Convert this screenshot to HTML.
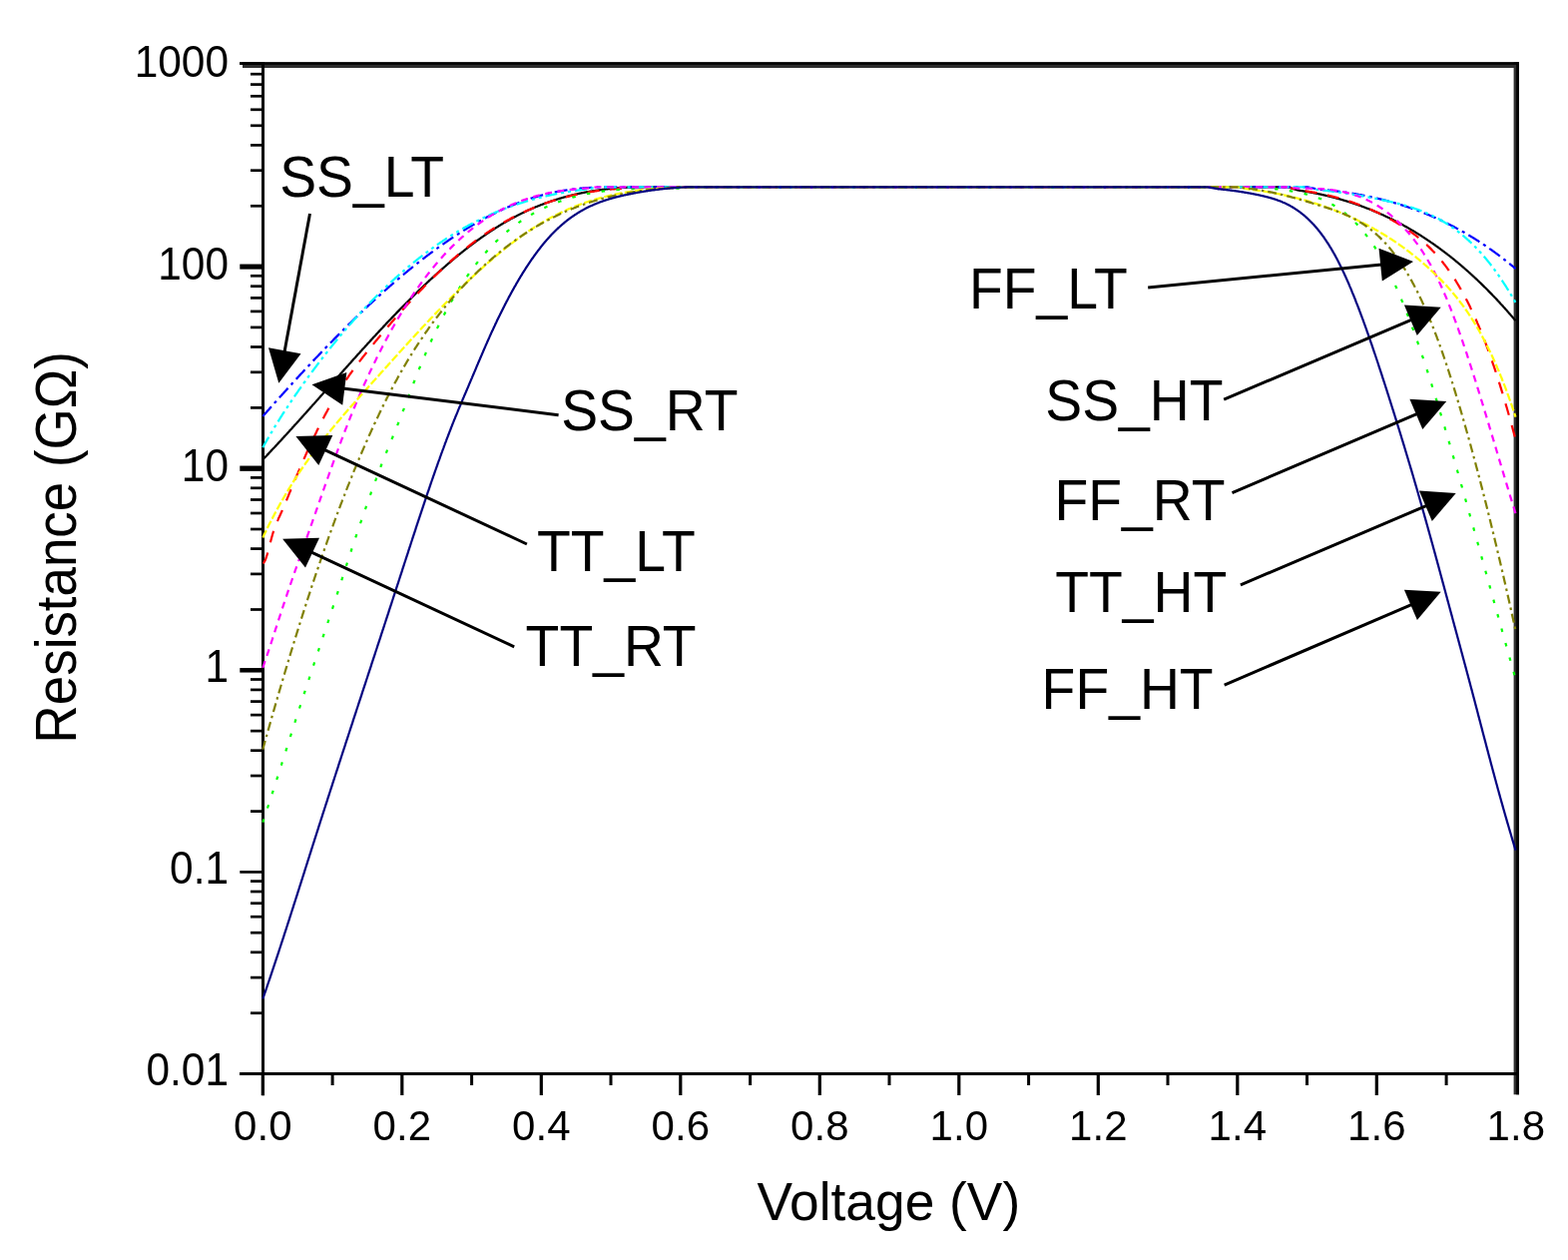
<!DOCTYPE html>
<html><head><meta charset="utf-8"><title>Resistance vs Voltage</title>
<style>
html,body{margin:0;padding:0;background:#fff;}
svg{display:block;}
text{font-family:"Liberation Sans",Arial,sans-serif;fill:#000;}
.tk{font-size:42px;}
.tky{font-size:42.4px;}
.an{font-size:55.3px;}
.ax{font-size:53.3px;}
.ay{font-size:52.9px;}
</style></head>
<body>
<svg width="1571" height="1262" viewBox="0 0 1571 1262">
<rect x="0" y="0" width="1571" height="1262" fill="#fff"/>
<rect x="243" y="62.3" width="1279" height="5.7" fill="#2e2e2e"/>
<rect x="1516.6" y="62.3" width="5.4" height="1034" fill="#2e2e2e"/>
<rect x="240" y="62.3" width="1282" height="2.5" fill="#000"/>
<rect x="1519.2" y="62.3" width="2.8" height="1034" fill="#000"/>
<rect x="262" y="62.3" width="3" height="1035" fill="#000"/>
<rect x="240" y="1074" width="1282" height="3" fill="#000"/>
<line x1="240.3" y1="1075.5" x2="263" y2="1075.5" stroke="#000" stroke-width="3.0"/>
<line x1="251" y1="1014.7" x2="263" y2="1014.7" stroke="#000" stroke-width="2.7"/>
<line x1="251" y1="979.1" x2="263" y2="979.1" stroke="#000" stroke-width="2.7"/>
<line x1="251" y1="953.8" x2="263" y2="953.8" stroke="#000" stroke-width="2.7"/>
<line x1="251" y1="934.2" x2="263" y2="934.2" stroke="#000" stroke-width="2.7"/>
<line x1="251" y1="918.2" x2="263" y2="918.2" stroke="#000" stroke-width="2.7"/>
<line x1="251" y1="904.7" x2="263" y2="904.7" stroke="#000" stroke-width="2.7"/>
<line x1="251" y1="893.0" x2="263" y2="893.0" stroke="#000" stroke-width="2.7"/>
<line x1="251" y1="882.6" x2="263" y2="882.6" stroke="#000" stroke-width="2.7"/>
<line x1="240.3" y1="873.4" x2="263" y2="873.4" stroke="#000" stroke-width="2.7"/>
<line x1="251" y1="812.6" x2="263" y2="812.6" stroke="#000" stroke-width="2.7"/>
<line x1="251" y1="777.0" x2="263" y2="777.0" stroke="#000" stroke-width="2.7"/>
<line x1="251" y1="751.7" x2="263" y2="751.7" stroke="#000" stroke-width="2.7"/>
<line x1="251" y1="732.1" x2="263" y2="732.1" stroke="#000" stroke-width="2.7"/>
<line x1="251" y1="716.1" x2="263" y2="716.1" stroke="#000" stroke-width="2.7"/>
<line x1="251" y1="702.6" x2="263" y2="702.6" stroke="#000" stroke-width="2.7"/>
<line x1="251" y1="690.9" x2="263" y2="690.9" stroke="#000" stroke-width="2.7"/>
<line x1="251" y1="680.5" x2="263" y2="680.5" stroke="#000" stroke-width="2.7"/>
<line x1="240.3" y1="671.3" x2="263" y2="671.3" stroke="#000" stroke-width="4.5"/>
<line x1="251" y1="610.5" x2="263" y2="610.5" stroke="#000" stroke-width="2.7"/>
<line x1="251" y1="574.9" x2="263" y2="574.9" stroke="#000" stroke-width="2.7"/>
<line x1="251" y1="549.6" x2="263" y2="549.6" stroke="#000" stroke-width="2.7"/>
<line x1="251" y1="530.0" x2="263" y2="530.0" stroke="#000" stroke-width="2.7"/>
<line x1="251" y1="514.0" x2="263" y2="514.0" stroke="#000" stroke-width="2.7"/>
<line x1="251" y1="500.5" x2="263" y2="500.5" stroke="#000" stroke-width="2.7"/>
<line x1="251" y1="488.8" x2="263" y2="488.8" stroke="#000" stroke-width="2.7"/>
<line x1="251" y1="478.4" x2="263" y2="478.4" stroke="#000" stroke-width="2.7"/>
<line x1="240.3" y1="469.2" x2="263" y2="469.2" stroke="#000" stroke-width="5.3"/>
<line x1="251" y1="408.4" x2="263" y2="408.4" stroke="#000" stroke-width="2.7"/>
<line x1="251" y1="372.8" x2="263" y2="372.8" stroke="#000" stroke-width="2.7"/>
<line x1="251" y1="347.5" x2="263" y2="347.5" stroke="#000" stroke-width="2.7"/>
<line x1="251" y1="327.9" x2="263" y2="327.9" stroke="#000" stroke-width="2.7"/>
<line x1="251" y1="311.9" x2="263" y2="311.9" stroke="#000" stroke-width="2.7"/>
<line x1="251" y1="298.4" x2="263" y2="298.4" stroke="#000" stroke-width="2.7"/>
<line x1="251" y1="286.7" x2="263" y2="286.7" stroke="#000" stroke-width="2.7"/>
<line x1="251" y1="276.3" x2="263" y2="276.3" stroke="#000" stroke-width="2.7"/>
<line x1="240.3" y1="267.1" x2="263" y2="267.1" stroke="#000" stroke-width="5.1"/>
<line x1="251" y1="206.3" x2="263" y2="206.3" stroke="#000" stroke-width="2.7"/>
<line x1="251" y1="170.7" x2="263" y2="170.7" stroke="#000" stroke-width="2.7"/>
<line x1="251" y1="145.4" x2="263" y2="145.4" stroke="#000" stroke-width="2.7"/>
<line x1="251" y1="125.8" x2="263" y2="125.8" stroke="#000" stroke-width="2.7"/>
<line x1="251" y1="109.8" x2="263" y2="109.8" stroke="#000" stroke-width="2.7"/>
<line x1="251" y1="96.3" x2="263" y2="96.3" stroke="#000" stroke-width="2.7"/>
<line x1="251" y1="84.6" x2="263" y2="84.6" stroke="#000" stroke-width="2.7"/>
<line x1="251" y1="74.2" x2="263" y2="74.2" stroke="#000" stroke-width="2.7"/>
<line x1="240.3" y1="63.6" x2="263" y2="63.6" stroke="#000" stroke-width="2.6"/>
<line x1="263.3" y1="1075" x2="263.3" y2="1097" stroke="#000" stroke-width="3.2"/>
<line x1="333.1" y1="1075" x2="333.1" y2="1087" stroke="#000" stroke-width="3"/>
<line x1="402.8" y1="1075" x2="402.8" y2="1097" stroke="#000" stroke-width="3.2"/>
<line x1="472.6" y1="1075" x2="472.6" y2="1087" stroke="#000" stroke-width="3"/>
<line x1="542.3" y1="1075" x2="542.3" y2="1097" stroke="#000" stroke-width="3.2"/>
<line x1="612.0" y1="1075" x2="612.0" y2="1087" stroke="#000" stroke-width="3"/>
<line x1="681.8" y1="1075" x2="681.8" y2="1097" stroke="#000" stroke-width="3.2"/>
<line x1="751.6" y1="1075" x2="751.6" y2="1087" stroke="#000" stroke-width="3"/>
<line x1="821.3" y1="1075" x2="821.3" y2="1097" stroke="#000" stroke-width="3.2"/>
<line x1="891.0" y1="1075" x2="891.0" y2="1087" stroke="#000" stroke-width="3"/>
<line x1="960.8" y1="1075" x2="960.8" y2="1097" stroke="#000" stroke-width="3.2"/>
<line x1="1030.6" y1="1075" x2="1030.6" y2="1087" stroke="#000" stroke-width="3"/>
<line x1="1100.3" y1="1075" x2="1100.3" y2="1097" stroke="#000" stroke-width="3.2"/>
<line x1="1170.0" y1="1075" x2="1170.0" y2="1087" stroke="#000" stroke-width="3"/>
<line x1="1239.8" y1="1075" x2="1239.8" y2="1097" stroke="#000" stroke-width="3.2"/>
<line x1="1309.5" y1="1075" x2="1309.5" y2="1087" stroke="#000" stroke-width="3"/>
<line x1="1379.3" y1="1075" x2="1379.3" y2="1097" stroke="#000" stroke-width="3.2"/>
<line x1="1449.1" y1="1075" x2="1449.1" y2="1087" stroke="#000" stroke-width="3"/>
<path d="M263.3,460.4 L263.8,459.8 L264.3,459.3 L264.8,458.8 L265.3,458.3 L265.8,457.7 L266.3,457.2 L266.8,456.7 L267.3,456.2 L267.8,455.6 L268.3,455.1 L268.8,454.6 L269.3,454.1 L269.8,453.5 L270.3,453.0 L270.8,452.5 L271.3,451.9 L271.8,451.4 L272.3,450.9 L272.8,450.3 L273.3,449.8 L273.8,449.3 L274.3,448.7 L274.8,448.2 L275.3,447.7 L275.8,447.1 L276.3,446.6 L276.8,446.1 L277.3,445.5 L277.8,445.0 L278.3,444.4 L278.8,443.9 L279.3,443.4 L279.8,442.8 L280.3,442.3 L280.8,441.7 L281.3,441.2 L281.8,440.7 L282.3,440.1 L282.8,439.6 L283.3,439.0 L283.8,438.5 L284.3,437.9 L284.8,437.4 L285.3,436.9 L285.8,436.3 L286.3,435.8 L286.8,435.2 L287.3,434.7 L287.8,434.1 L288.3,433.6 L288.8,433.0 L289.3,432.5 L289.8,431.9 L290.3,431.4 L290.8,430.8 L291.3,430.3 L291.8,429.7 L292.3,429.2 L292.8,428.6 L293.3,428.1 L293.8,427.5 L294.3,427.0 L294.8,426.4 L295.3,425.9 L295.8,425.3 L296.3,424.8 L296.8,424.2 L297.3,423.7 L297.8,423.1 L298.3,422.6 L298.8,422.0 L299.3,421.5 L299.8,420.9 L300.3,420.3 L300.8,419.8 L301.3,419.2 L301.8,418.7 L302.3,418.1 L302.8,417.6 L303.3,417.0 L303.8,416.5 L304.3,415.9 L304.8,415.3 L305.3,414.8 L305.8,414.2 L306.3,413.7 L306.8,413.1 L307.3,412.6 L307.8,412.0 L308.3,411.4 L308.8,410.9 L309.3,410.3 L309.8,409.8 L310.3,409.2 L310.8,408.6 L311.3,408.1 L311.8,407.5 L312.3,407.0 L312.8,406.4 L313.3,405.8 L313.8,405.3 L314.3,404.7 L314.8,404.2 L315.3,403.6 L315.8,403.0 L316.3,402.5 L316.8,401.9 L317.3,401.3 L317.8,400.8 L318.3,400.2 L318.8,399.7 L319.3,399.1 L319.8,398.5 L320.3,398.0 L320.8,397.4 L321.3,396.9 L321.8,396.3 L322.3,395.7 L322.8,395.2 L323.3,394.6 L323.8,394.0 L324.3,393.5 L324.8,392.9 L325.3,392.4 L325.8,391.8 L326.3,391.2 L326.8,390.7 L327.3,390.1 L327.8,389.5 L328.3,389.0 L328.8,388.4 L329.3,387.9 L329.8,387.3 L330.3,386.7 L330.8,386.2 L331.3,385.6 L331.8,385.0 L332.3,384.5 L332.8,383.9 L333.3,383.3 L333.8,382.8 L334.3,382.2 L334.8,381.7 L335.3,381.1 L335.8,380.5 L336.3,380.0 L336.8,379.4 L337.3,378.9 L337.8,378.3 L338.3,377.7 L338.8,377.2 L339.3,376.6 L339.8,376.0 L340.3,375.5 L340.8,374.9 L341.3,374.4 L341.8,373.8 L342.3,373.2 L342.8,372.7 L343.3,372.1 L343.8,371.6 L344.3,371.0 L344.8,370.4 L345.3,369.9 L345.8,369.3 L346.3,368.8 L346.8,368.2 L347.3,367.6 L347.8,367.1 L348.3,366.5 L348.8,366.0 L349.3,365.4 L349.8,364.8 L350.3,364.3 L350.8,363.7 L351.3,363.2 L351.8,362.6 L352.3,362.1 L352.8,361.5 L353.3,360.9 L353.8,360.4 L354.3,359.8 L354.8,359.3 L355.3,358.7 L355.8,358.2 L356.3,357.6 L356.8,357.1 L357.3,356.5 L357.8,355.9 L358.3,355.4 L358.8,354.8 L359.3,354.3 L359.8,353.7 L360.3,353.2 L360.8,352.6 L361.3,352.1 L361.8,351.5 L362.3,351.0 L362.8,350.4 L363.3,349.9 L363.8,349.3 L364.3,348.8 L364.8,348.2 L365.3,347.7 L365.8,347.1 L366.3,346.6 L366.8,346.0 L367.3,345.5 L367.8,344.9 L368.3,344.4 L368.8,343.8 L369.3,343.3 L369.8,342.7 L370.3,342.2 L370.8,341.6 L371.3,341.1 L371.8,340.6 L372.3,340.0 L372.8,339.5 L373.3,338.9 L373.8,338.4 L374.3,337.8 L374.8,337.3 L375.3,336.8 L375.8,336.2 L376.3,335.7 L376.8,335.1 L377.3,334.6 L377.8,334.0 L378.3,333.5 L378.8,333.0 L379.3,332.4 L379.8,331.9 L380.3,331.4 L380.8,330.8 L381.3,330.3 L381.8,329.8 L382.3,329.2 L382.8,328.7 L383.3,328.2 L383.8,327.6 L384.3,327.1 L384.8,326.6 L385.3,326.0 L385.8,325.5 L386.3,325.0 L386.8,324.4 L387.3,323.9 L387.8,323.4 L388.3,322.8 L388.8,322.3 L389.3,321.8 L389.8,321.3 L390.3,320.7 L390.8,320.2 L391.3,319.7 L391.8,319.2 L392.3,318.6 L392.8,318.1 L393.3,317.6 L393.8,317.1 L394.3,316.6 L394.8,316.0 L395.3,315.5 L395.8,315.0 L396.3,314.5 L396.8,314.0 L397.3,313.4 L397.8,312.9 L398.3,312.4 L398.8,311.9 L399.3,311.4 L399.8,310.9 L400.3,310.4 L400.8,309.8 L401.3,309.3 L401.8,308.8 L402.3,308.3 L402.8,307.8 L403.3,307.3 L403.8,306.8 L404.3,306.3 L404.8,305.8 L405.3,305.3 L405.8,304.8 L406.3,304.3 L406.8,303.7 L407.3,303.2 L407.8,302.7 L408.3,302.2 L408.8,301.7 L409.3,301.2 L409.8,300.7 L410.3,300.2 L410.8,299.7 L411.3,299.2 L411.8,298.7 L412.3,298.3 L412.8,297.8 L413.3,297.3 L413.8,296.8 L414.3,296.3 L414.8,295.8 L415.3,295.3 L415.8,294.8 L416.3,294.3 L416.8,293.8 L417.3,293.3 L417.8,292.9 L418.3,292.4 L418.8,291.9 L419.3,291.4 L419.8,290.9 L420.3,290.4 L420.8,289.9 L421.3,289.5 L421.8,289.0 L422.3,288.5 L422.8,288.0 L423.3,287.5 L423.8,287.1 L424.3,286.6 L424.8,286.1 L425.3,285.6 L425.8,285.2 L426.3,284.7 L426.8,284.2 L427.3,283.8 L427.8,283.3 L428.3,282.8 L428.8,282.3 L429.3,281.9 L429.8,281.4 L430.3,280.9 L430.8,280.5 L431.3,280.0 L431.8,279.5 L432.3,279.1 L432.8,278.6 L433.3,278.2 L433.8,277.7 L434.3,277.2 L434.8,276.8 L435.3,276.3 L435.8,275.9 L436.3,275.4 L436.8,275.0 L437.3,274.5 L437.8,274.1 L438.3,273.6 L438.8,273.2 L439.3,272.7 L439.8,272.3 L440.3,271.8 L440.8,271.4 L441.3,270.9 L441.8,270.5 L442.3,270.0 L442.8,269.6 L443.3,269.1 L443.8,268.7 L444.3,268.3 L444.8,267.8 L445.3,267.4 L445.8,267.0 L446.3,266.5 L446.8,266.1 L447.3,265.6 L447.8,265.2 L448.3,264.8 L448.8,264.3 L449.3,263.9 L449.8,263.5 L450.3,263.1 L450.8,262.6 L451.3,262.2 L451.8,261.8 L452.3,261.4 L452.8,260.9 L453.3,260.5 L453.8,260.1 L454.3,259.7 L454.8,259.3 L455.3,258.8 L455.8,258.4 L456.3,258.0 L456.8,257.6 L457.3,257.2 L457.8,256.8 L458.3,256.4 L458.8,255.9 L459.3,255.5 L459.8,255.1 L460.3,254.7 L460.8,254.3 L461.3,253.9 L461.8,253.5 L462.3,253.1 L462.8,252.7 L463.3,252.3 L463.8,251.9 L464.3,251.5 L464.8,251.1 L465.3,250.7 L465.8,250.3 L466.3,249.9 L466.8,249.5 L467.3,249.1 L467.8,248.8 L468.3,248.4 L468.8,248.0 L469.3,247.6 L469.8,247.2 L470.3,246.8 L470.8,246.4 L471.3,246.1 L471.8,245.7 L472.3,245.3 L472.8,244.9 L473.3,244.5 L473.8,244.2 L474.3,243.8 L474.8,243.4 L475.3,243.1 L475.8,242.7 L476.3,242.3 L476.8,241.9 L477.3,241.6 L477.8,241.2 L478.3,240.8 L478.8,240.5 L479.3,240.1 L479.8,239.8 L480.3,239.4 L480.8,239.0 L481.3,238.7 L481.8,238.3 L482.3,238.0 L482.8,237.6 L483.3,237.3 L483.8,236.9 L484.3,236.6 L484.8,236.2 L485.3,235.9 L485.8,235.5 L486.3,235.2 L486.8,234.8 L487.3,234.5 L487.8,234.1 L488.3,233.8 L488.8,233.5 L489.3,233.1 L489.8,232.8 L490.3,232.5 L490.8,232.1 L491.3,231.8 L491.8,231.5 L492.3,231.1 L492.8,230.8 L493.3,230.5 L493.8,230.2 L494.3,229.8 L494.8,229.5 L495.3,229.2 L495.8,228.9 L496.3,228.5 L496.8,228.2 L497.3,227.9 L497.8,227.6 L498.3,227.3 L498.8,227.0 L499.3,226.7 L499.8,226.3 L500.3,226.0 L500.8,225.7 L501.3,225.4 L501.8,225.1 L502.3,224.8 L502.8,224.5 L503.3,224.2 L503.8,223.9 L504.3,223.6 L504.8,223.3 L505.3,223.0 L505.8,222.7 L506.3,222.5 L506.8,222.2 L507.3,221.9 L507.8,221.6 L508.3,221.3 L508.8,221.0 L509.3,220.7 L509.8,220.5 L510.3,220.2 L510.8,219.9 L511.3,219.6 L511.8,219.3 L512.3,219.1 L512.8,218.8 L513.3,218.5 L513.8,218.3 L514.3,218.0 L514.8,217.7 L515.3,217.5 L515.8,217.2 L516.3,216.9 L516.8,216.7 L517.3,216.4 L517.8,216.1 L518.3,215.9 L518.8,215.6 L519.3,215.4 L519.8,215.1 L520.3,214.9 L520.8,214.6 L521.3,214.4 L521.8,214.1 L522.3,213.9 L522.8,213.6 L523.3,213.4 L523.8,213.1 L524.3,212.9 L524.8,212.7 L525.3,212.4 L525.8,212.2 L526.3,212.0 L526.8,211.7 L527.3,211.5 L527.8,211.3 L528.3,211.0 L528.8,210.8 L529.3,210.6 L529.8,210.3 L530.3,210.1 L530.8,209.9 L531.3,209.7 L531.8,209.5 L532.3,209.2 L532.8,209.0 L533.3,208.8 L533.8,208.6 L534.3,208.4 L534.8,208.2 L535.3,207.9 L535.8,207.7 L536.3,207.5 L536.8,207.3 L537.3,207.1 L537.8,206.9 L538.3,206.7 L538.8,206.5 L539.3,206.3 L539.8,206.1 L540.3,205.9 L540.8,205.7 L541.3,205.5 L541.8,205.3 L542.3,205.1 L542.8,204.9 L543.3,204.7 L543.8,204.5 L544.3,204.4 L544.8,204.2 L545.3,204.0 L545.8,203.8 L546.3,203.6 L546.8,203.4 L547.3,203.2 L547.8,203.1 L548.3,202.9 L548.8,202.7 L549.3,202.5 L549.8,202.4 L550.3,202.2 L550.8,202.0 L551.3,201.8 L551.8,201.7 L552.3,201.5 L552.8,201.3 L553.3,201.2 L553.8,201.0 L554.3,200.8 L554.8,200.7 L555.3,200.5 L555.8,200.3 L556.3,200.2 L556.8,200.0 L557.3,199.9 L557.8,199.7 L558.3,199.6 L558.8,199.4 L559.3,199.2 L559.8,199.1 L560.3,198.9 L560.8,198.8 L561.3,198.6 L561.8,198.5 L562.3,198.4 L562.8,198.2 L563.3,198.1 L563.8,197.9 L564.3,197.8 L564.8,197.6 L565.3,197.5 L565.8,197.4 L566.3,197.2 L566.8,197.1 L567.3,197.0 L567.8,196.8 L568.3,196.7 L568.8,196.6 L569.3,196.4 L569.8,196.3 L570.3,196.2 L570.8,196.0 L571.3,195.9 L571.8,195.8 L572.3,195.7 L572.8,195.5 L573.3,195.4 L573.8,195.3 L574.3,195.2 L574.8,195.1 L575.3,194.9 L575.8,194.8 L576.3,194.7 L576.8,194.6 L577.3,194.5 L577.8,194.4 L578.3,194.3 L578.8,194.1 L579.3,194.0 L579.8,193.9 L580.3,193.8 L580.8,193.7 L581.3,193.6 L581.8,193.5 L582.3,193.4 L582.8,193.3 L583.3,193.2 L583.8,193.1 L584.3,193.0 L584.8,192.9 L585.3,192.8 L585.8,192.7 L586.3,192.6 L586.8,192.5 L587.3,192.4 L587.8,192.3 L588.3,192.2 L588.8,192.2 L589.3,192.1 L589.8,192.0 L590.3,191.9 L590.8,191.8 L591.3,191.7 L591.8,191.6 L592.3,191.5 L592.8,191.5 L593.3,191.4 L593.8,191.3 L594.3,191.2 L594.8,191.1 L595.3,191.1 L595.8,191.0 L596.3,190.9 L596.8,190.8 L597.3,190.8 L597.8,190.7 L598.3,190.6 L598.8,190.6 L599.3,190.5 L599.8,190.4 L600.3,190.3 L600.8,190.3 L601.3,190.2 L601.8,190.1 L602.3,190.1 L602.8,190.0 L603.3,189.9 L603.8,189.9 L604.3,189.8 L604.8,189.8 L605.3,189.7 L605.8,189.6 L606.3,189.6 L606.8,189.5 L607.3,189.5 L607.8,189.4 L608.3,189.4 L608.8,189.3 L609.3,189.2 L609.8,189.2 L610.3,189.1 L610.8,189.1 L611.3,189.0 L611.8,189.0 L612.3,188.9 L612.8,188.9 L613.3,188.8 L613.8,188.8 L614.3,188.8 L614.8,188.7 L615.3,188.7 L615.8,188.6 L616.3,188.6 L616.8,188.5 L617.3,188.5 L617.8,188.5 L618.3,188.4 L618.8,188.4 L619.3,188.3 L619.8,188.3 L620.3,188.3 L620.8,188.2 L621.3,188.2 L621.8,188.1 L622.3,188.1 L622.8,188.1 L623.3,188.0 L623.8,188.0 L624.3,188.0 L624.8,187.9 L625.3,187.9 L625.8,187.9 L626.3,187.9 L626.8,187.8 L627.3,187.8 L627.8,187.8 L628.3,187.7 L628.8,187.7 L629.3,187.7 L629.8,187.7 L630.3,187.6 L630.8,187.6 L631.3,187.6 L631.8,187.6 L632.3,187.5 L632.8,187.5 L633.3,187.5 L633.8,187.5 L634.3,187.5 L634.8,187.4 L635.3,187.4 L635.8,187.4 L636.3,187.4 L636.8,187.4 L637.3,187.4 L637.8,187.3 L638.3,187.3 L638.8,187.3 L639.3,187.3 L639.8,187.3 L640.3,187.3 L640.8,187.3 L641.3,187.3 L641.8,187.3 L642.3,187.3 L642.8,187.3 L643.3,187.3 L643.8,187.3 L644.3,187.3 L644.8,187.3 L645.3,187.3 L645.8,187.3 L646.3,187.3 L646.8,187.3 L647.3,187.3 L647.8,187.3 L648.3,187.3 L648.8,187.3 L649.3,187.3 L649.8,187.3 L650.3,187.3 L650.8,187.3 L651.3,187.3 L651.8,187.3 L652.3,187.3 L652.8,187.3 L653.3,187.3 L653.8,187.3 L654.3,187.3 L654.8,187.3 L655.3,187.3 L655.8,187.3 L656.3,187.3 L656.8,187.3 L657.3,187.3 L657.8,187.3 L658.3,187.3 L658.8,187.3 L659.3,187.3 L659.8,187.3 L660.3,187.3 L660.8,187.3 L661.3,187.3 L661.8,187.3 L662.3,187.3 L662.8,187.3 L663.3,187.3 L663.8,187.3 L664.3,187.3 L664.8,187.3 L665.3,187.3 L665.8,187.3 L666.3,187.3 L666.8,187.3 L667.3,187.3 L667.8,187.3 L668.3,187.3 L668.8,187.3 L669.3,187.3 L669.8,187.3 L670.3,187.3 L670.8,187.3 L671.3,187.3 L671.8,187.3 L672.3,187.3 L672.8,187.3 L673.3,187.3 L673.8,187.3 L674.3,187.3 L674.8,187.3 L685.0,187.3 L1290.0,187.3 L1300.0,190.5 L1300.5,190.5 L1301.0,190.6 L1301.5,190.7 L1302.0,190.8 L1302.5,190.8 L1303.0,190.9 L1303.5,191.0 L1304.0,191.1 L1304.5,191.2 L1305.0,191.2 L1305.5,191.3 L1306.0,191.4 L1306.5,191.5 L1307.0,191.6 L1307.5,191.6 L1308.0,191.7 L1308.5,191.8 L1309.0,191.9 L1309.5,192.0 L1310.0,192.1 L1310.5,192.2 L1311.0,192.2 L1311.5,192.3 L1312.0,192.4 L1312.5,192.5 L1313.0,192.6 L1313.5,192.7 L1314.0,192.8 L1314.5,192.9 L1315.0,193.0 L1315.5,193.1 L1316.0,193.2 L1316.5,193.3 L1317.0,193.4 L1317.5,193.5 L1318.0,193.6 L1318.5,193.7 L1319.0,193.8 L1319.5,193.9 L1320.0,194.0 L1320.5,194.1 L1321.0,194.2 L1321.5,194.3 L1322.0,194.4 L1322.5,194.5 L1323.0,194.6 L1323.5,194.7 L1324.0,194.8 L1324.5,194.9 L1325.0,195.1 L1325.5,195.2 L1326.0,195.3 L1326.5,195.4 L1327.0,195.5 L1327.5,195.6 L1328.0,195.7 L1328.5,195.9 L1329.0,196.0 L1329.5,196.1 L1330.0,196.2 L1330.5,196.3 L1331.0,196.5 L1331.5,196.6 L1332.0,196.7 L1332.5,196.8 L1333.0,197.0 L1333.5,197.1 L1334.0,197.2 L1334.5,197.3 L1335.0,197.5 L1335.5,197.6 L1336.0,197.7 L1336.5,197.8 L1337.0,198.0 L1337.5,198.1 L1338.0,198.2 L1338.5,198.4 L1339.0,198.5 L1339.5,198.7 L1340.0,198.8 L1340.5,198.9 L1341.0,199.1 L1341.5,199.2 L1342.0,199.3 L1342.5,199.5 L1343.0,199.6 L1343.5,199.8 L1344.0,199.9 L1344.5,200.1 L1345.0,200.2 L1345.5,200.4 L1346.0,200.5 L1346.5,200.7 L1347.0,200.8 L1347.5,201.0 L1348.0,201.1 L1348.5,201.3 L1349.0,201.4 L1349.5,201.6 L1350.0,201.7 L1350.5,201.9 L1351.0,202.0 L1351.5,202.2 L1352.0,202.4 L1352.5,202.5 L1353.0,202.7 L1353.5,202.8 L1354.0,203.0 L1354.5,203.2 L1355.0,203.3 L1355.5,203.5 L1356.0,203.7 L1356.5,203.8 L1357.0,204.0 L1357.5,204.2 L1358.0,204.3 L1358.5,204.5 L1359.0,204.7 L1359.5,204.9 L1360.0,205.0 L1360.5,205.2 L1361.0,205.4 L1361.5,205.6 L1362.0,205.7 L1362.5,205.9 L1363.0,206.1 L1363.5,206.3 L1364.0,206.5 L1364.5,206.7 L1365.0,206.8 L1365.5,207.0 L1366.0,207.2 L1366.5,207.4 L1367.0,207.6 L1367.5,207.8 L1368.0,208.0 L1368.5,208.2 L1369.0,208.4 L1369.5,208.6 L1370.0,208.7 L1370.5,208.9 L1371.0,209.1 L1371.5,209.3 L1372.0,209.5 L1372.5,209.7 L1373.0,209.9 L1373.5,210.1 L1374.0,210.3 L1374.5,210.5 L1375.0,210.8 L1375.5,211.0 L1376.0,211.2 L1376.5,211.4 L1377.0,211.6 L1377.5,211.8 L1378.0,212.0 L1378.5,212.2 L1379.0,212.4 L1379.5,212.6 L1380.0,212.9 L1380.5,213.1 L1381.0,213.3 L1381.5,213.5 L1382.0,213.7 L1382.5,214.0 L1383.0,214.2 L1383.5,214.4 L1384.0,214.6 L1384.5,214.9 L1385.0,215.1 L1385.5,215.3 L1386.0,215.5 L1386.5,215.8 L1387.0,216.0 L1387.5,216.2 L1388.0,216.5 L1388.5,216.7 L1389.0,216.9 L1389.5,217.2 L1390.0,217.4 L1390.5,217.6 L1391.0,217.9 L1391.5,218.1 L1392.0,218.4 L1392.5,218.6 L1393.0,218.9 L1393.5,219.1 L1394.0,219.3 L1394.5,219.6 L1395.0,219.8 L1395.5,220.1 L1396.0,220.3 L1396.5,220.6 L1397.0,220.9 L1397.5,221.1 L1398.0,221.4 L1398.5,221.6 L1399.0,221.9 L1399.5,222.1 L1400.0,222.4 L1400.5,222.7 L1401.0,222.9 L1401.5,223.2 L1402.0,223.4 L1402.5,223.7 L1403.0,224.0 L1403.5,224.2 L1404.0,224.5 L1404.5,224.8 L1405.0,225.1 L1405.5,225.3 L1406.0,225.6 L1406.5,225.9 L1407.0,226.2 L1407.5,226.4 L1408.0,226.7 L1408.5,227.0 L1409.0,227.3 L1409.5,227.6 L1410.0,227.8 L1410.5,228.1 L1411.0,228.4 L1411.5,228.7 L1412.0,229.0 L1412.5,229.3 L1413.0,229.6 L1413.5,229.9 L1414.0,230.2 L1414.5,230.5 L1415.0,230.7 L1415.5,231.0 L1416.0,231.3 L1416.5,231.6 L1417.0,231.9 L1417.5,232.2 L1418.0,232.5 L1418.5,232.9 L1419.0,233.2 L1419.5,233.5 L1420.0,233.8 L1420.5,234.1 L1421.0,234.4 L1421.5,234.7 L1422.0,235.0 L1422.5,235.3 L1423.0,235.6 L1423.5,236.0 L1424.0,236.3 L1424.5,236.6 L1425.0,236.9 L1425.5,237.2 L1426.0,237.6 L1426.5,237.9 L1427.0,238.2 L1427.5,238.5 L1428.0,238.9 L1428.5,239.2 L1429.0,239.5 L1429.5,239.9 L1430.0,240.2 L1430.5,240.5 L1431.0,240.9 L1431.5,241.2 L1432.0,241.5 L1432.5,241.9 L1433.0,242.2 L1433.5,242.6 L1434.0,242.9 L1434.5,243.2 L1435.0,243.6 L1435.5,243.9 L1436.0,244.3 L1436.5,244.6 L1437.0,245.0 L1437.5,245.3 L1438.0,245.7 L1438.5,246.1 L1439.0,246.4 L1439.5,246.8 L1440.0,247.1 L1440.5,247.5 L1441.0,247.8 L1441.5,248.2 L1442.0,248.6 L1442.5,248.9 L1443.0,249.3 L1443.5,249.7 L1444.0,250.0 L1444.5,250.4 L1445.0,250.8 L1445.5,251.2 L1446.0,251.5 L1446.5,251.9 L1447.0,252.3 L1447.5,252.7 L1448.0,253.0 L1448.5,253.4 L1449.0,253.8 L1449.5,254.2 L1450.0,254.6 L1450.5,255.0 L1451.0,255.4 L1451.5,255.7 L1452.0,256.1 L1452.5,256.5 L1453.0,256.9 L1453.5,257.3 L1454.0,257.7 L1454.5,258.1 L1455.0,258.5 L1455.5,258.9 L1456.0,259.3 L1456.5,259.7 L1457.0,260.1 L1457.5,260.5 L1458.0,260.9 L1458.5,261.4 L1459.0,261.8 L1459.5,262.2 L1460.0,262.6 L1460.5,263.0 L1461.0,263.4 L1461.5,263.8 L1462.0,264.3 L1462.5,264.7 L1463.0,265.1 L1463.5,265.5 L1464.0,265.9 L1464.5,266.4 L1465.0,266.8 L1465.5,267.2 L1466.0,267.7 L1466.5,268.1 L1467.0,268.5 L1467.5,269.0 L1468.0,269.4 L1468.5,269.8 L1469.0,270.3 L1469.5,270.7 L1470.0,271.2 L1470.5,271.6 L1471.0,272.0 L1471.5,272.5 L1472.0,272.9 L1472.5,273.4 L1473.0,273.8 L1473.5,274.3 L1474.0,274.7 L1474.5,275.2 L1475.0,275.7 L1475.5,276.1 L1476.0,276.6 L1476.5,277.0 L1477.0,277.5 L1477.5,278.0 L1478.0,278.4 L1478.5,278.9 L1479.0,279.4 L1479.5,279.8 L1480.0,280.3 L1480.5,280.8 L1481.0,281.3 L1481.5,281.7 L1482.0,282.2 L1482.5,282.7 L1483.0,283.2 L1483.5,283.6 L1484.0,284.1 L1484.5,284.6 L1485.0,285.1 L1485.5,285.6 L1486.0,286.1 L1486.5,286.6 L1487.0,287.1 L1487.5,287.6 L1488.0,288.0 L1488.5,288.5 L1489.0,289.0 L1489.5,289.5 L1490.0,290.0 L1490.5,290.5 L1491.0,291.1 L1491.5,291.6 L1492.0,292.1 L1492.5,292.6 L1493.0,293.1 L1493.5,293.6 L1494.0,294.1 L1494.5,294.6 L1495.0,295.1 L1495.5,295.7 L1496.0,296.2 L1496.5,296.7 L1497.0,297.2 L1497.5,297.8 L1498.0,298.3 L1498.5,298.8 L1499.0,299.3 L1499.5,299.9 L1500.0,300.4 L1500.5,300.9 L1501.0,301.5 L1501.5,302.0 L1502.0,302.5 L1502.5,303.1 L1503.0,303.6 L1503.5,304.2 L1504.0,304.7 L1504.5,305.3 L1505.0,305.8 L1505.5,306.4 L1506.0,306.9 L1506.5,307.5 L1507.0,308.0 L1507.5,308.6 L1508.0,309.1 L1508.5,309.7 L1509.0,310.3 L1509.5,310.8 L1510.0,311.4 L1510.5,312.0 L1511.0,312.5 L1511.5,313.1 L1512.0,313.7 L1512.5,314.2 L1513.0,314.8 L1513.5,315.4 L1514.0,316.0 L1514.5,316.5 L1515.0,317.1 L1515.5,317.7 L1516.0,318.3 L1516.5,318.9 L1517.0,319.5 L1517.5,320.0 L1518.0,320.6 L1518.5,321.2" fill="none" stroke="#000000" stroke-width="2.2" stroke-linejoin="round"/>
<path d="M263.3,564.1 L263.8,563.9 L264.3,563.5 L264.8,562.8 L265.3,561.9 L265.8,560.9 L266.3,559.6 L266.8,558.2 L267.3,556.7 L267.8,555.0 L268.3,553.3 L268.8,551.4 L269.3,549.5 L269.8,547.6 L270.3,545.7 L270.8,543.7 L271.3,541.8 L271.8,539.8 L272.3,538.0 L272.8,536.2 L273.3,534.5 L273.8,532.9 L274.3,531.4 L274.8,529.9 L275.3,528.5 L275.8,527.2 L276.3,525.9 L276.8,524.6 L277.3,523.4 L277.8,522.2 L278.3,521.1 L278.8,519.9 L279.3,518.8 L279.8,517.8 L280.3,516.7 L280.8,515.6 L281.3,514.5 L281.8,513.4 L282.3,512.3 L282.8,511.2 L283.3,510.0 L283.8,508.9 L284.3,507.7 L284.8,506.6 L285.3,505.4 L285.8,504.2 L286.3,503.0 L286.8,501.8 L287.3,500.5 L287.8,499.3 L288.3,498.1 L288.8,496.9 L289.3,495.6 L289.8,494.4 L290.3,493.2 L290.8,492.0 L291.3,490.8 L291.8,489.6 L292.3,488.4 L292.8,487.1 L293.3,485.9 L293.8,484.7 L294.3,483.5 L294.8,482.4 L295.3,481.2 L295.8,480.0 L296.3,478.8 L296.8,477.6 L297.3,476.4 L297.8,475.2 L298.3,474.1 L298.8,472.9 L299.3,471.7 L299.8,470.6 L300.3,469.4 L300.8,468.2 L301.3,467.1 L301.8,465.9 L302.3,464.8 L302.8,463.6 L303.3,462.5 L303.8,461.4 L304.3,460.2 L304.8,459.1 L305.3,458.0 L305.8,456.9 L306.3,455.7 L306.8,454.6 L307.3,453.5 L307.8,452.4 L308.3,451.3 L308.8,450.2 L309.3,449.1 L309.8,448.0 L310.3,446.9 L310.8,445.8 L311.3,444.8 L311.8,443.7 L312.3,442.6 L312.8,441.5 L313.3,440.5 L313.8,439.4 L314.3,438.4 L314.8,437.3 L315.3,436.3 L315.8,435.2 L316.3,434.2 L316.8,433.2 L317.3,432.1 L317.8,431.1 L318.3,430.1 L318.8,429.1 L319.3,428.1 L319.8,427.1 L320.3,426.1 L320.8,425.1 L321.3,424.1 L321.8,423.1 L322.3,422.1 L322.8,421.1 L323.3,420.2 L323.8,419.2 L324.3,418.2 L324.8,417.3 L325.3,416.3 L325.8,415.4 L326.3,414.4 L326.8,413.5 L327.3,412.6 L327.8,411.7 L328.3,410.7 L328.8,409.8 L329.3,408.9 L329.8,408.0 L330.3,407.1 L330.8,406.2 L331.3,405.3 L331.8,404.5 L332.3,403.6 L332.8,402.7 L333.3,401.9 L333.8,401.0 L334.3,400.2 L334.8,399.3 L335.3,398.5 L335.8,397.6 L336.3,396.8 L336.8,396.0 L337.3,395.2 L337.8,394.3 L338.3,393.5 L338.8,392.7 L339.3,391.9 L339.8,391.1 L340.3,390.3 L340.8,389.6 L341.3,388.8 L341.8,388.0 L342.3,387.2 L342.8,386.5 L343.3,385.7 L343.8,384.9 L344.3,384.2 L344.8,383.4 L345.3,382.7 L345.8,381.9 L346.3,381.2 L346.8,380.5 L347.3,379.7 L347.8,379.0 L348.3,378.3 L348.8,377.6 L349.3,376.8 L349.8,376.1 L350.3,375.4 L350.8,374.7 L351.3,374.0 L351.8,373.3 L352.3,372.6 L352.8,371.9 L353.3,371.2 L353.8,370.5 L354.3,369.9 L354.8,369.2 L355.3,368.5 L355.8,367.8 L356.3,367.2 L356.8,366.5 L357.3,365.8 L357.8,365.2 L358.3,364.5 L358.8,363.8 L359.3,363.2 L359.8,362.5 L360.3,361.9 L360.8,361.2 L361.3,360.6 L361.8,359.9 L362.3,359.3 L362.8,358.7 L363.3,358.0 L363.8,357.4 L364.3,356.7 L364.8,356.1 L365.3,355.5 L365.8,354.9 L366.3,354.2 L366.8,353.6 L367.3,353.0 L367.8,352.4 L368.3,351.7 L368.8,351.1 L369.3,350.5 L369.8,349.9 L370.3,349.3 L370.8,348.6 L371.3,348.0 L371.8,347.4 L372.3,346.8 L372.8,346.2 L373.3,345.6 L373.8,345.0 L374.3,344.4 L374.8,343.7 L375.3,343.1 L375.8,342.5 L376.3,341.9 L376.8,341.3 L377.3,340.7 L377.8,340.1 L378.3,339.5 L378.8,338.9 L379.3,338.3 L379.8,337.7 L380.3,337.1 L380.8,336.5 L381.3,335.9 L381.8,335.3 L382.3,334.7 L382.8,334.1 L383.3,333.5 L383.8,332.9 L384.3,332.3 L384.8,331.7 L385.3,331.1 L385.8,330.6 L386.3,330.0 L386.8,329.4 L387.3,328.8 L387.8,328.2 L388.3,327.6 L388.8,327.0 L389.3,326.4 L389.8,325.9 L390.3,325.3 L390.8,324.7 L391.3,324.1 L391.8,323.5 L392.3,322.9 L392.8,322.4 L393.3,321.8 L393.8,321.2 L394.3,320.6 L394.8,320.1 L395.3,319.5 L395.8,318.9 L396.3,318.3 L396.8,317.8 L397.3,317.2 L397.8,316.6 L398.3,316.1 L398.8,315.5 L399.3,314.9 L399.8,314.4 L400.3,313.8 L400.8,313.2 L401.3,312.7 L401.8,312.1 L402.3,311.5 L402.8,311.0 L403.3,310.4 L403.8,309.9 L404.3,309.3 L404.8,308.7 L405.3,308.2 L405.8,307.6 L406.3,307.1 L406.8,306.5 L407.3,306.0 L407.8,305.4 L408.3,304.9 L408.8,304.3 L409.3,303.8 L409.8,303.2 L410.3,302.7 L410.8,302.1 L411.3,301.6 L411.8,301.1 L412.3,300.5 L412.8,300.0 L413.3,299.4 L413.8,298.9 L414.3,298.4 L414.8,297.8 L415.3,297.3 L415.8,296.8 L416.3,296.2 L416.8,295.7 L417.3,295.2 L417.8,294.6 L418.3,294.1 L418.8,293.6 L419.3,293.1 L419.8,292.5 L420.3,292.0 L420.8,291.5 L421.3,291.0 L421.8,290.4 L422.3,289.9 L422.8,289.4 L423.3,288.9 L423.8,288.4 L424.3,287.9 L424.8,287.3 L425.3,286.8 L425.8,286.3 L426.3,285.8 L426.8,285.3 L427.3,284.8 L427.8,284.3 L428.3,283.8 L428.8,283.3 L429.3,282.8 L429.8,282.3 L430.3,281.8 L430.8,281.3 L431.3,280.8 L431.8,280.3 L432.3,279.8 L432.8,279.3 L433.3,278.8 L433.8,278.3 L434.3,277.8 L434.8,277.3 L435.3,276.8 L435.8,276.4 L436.3,275.9 L436.8,275.4 L437.3,274.9 L437.8,274.4 L438.3,273.9 L438.8,273.5 L439.3,273.0 L439.8,272.5 L440.3,272.0 L440.8,271.5 L441.3,271.1 L441.8,270.6 L442.3,270.1 L442.8,269.7 L443.3,269.2 L443.8,268.7 L444.3,268.3 L444.8,267.8 L445.3,267.3 L445.8,266.9 L446.3,266.4 L446.8,266.0 L447.3,265.5 L447.8,265.0 L448.3,264.6 L448.8,264.1 L449.3,263.7 L449.8,263.2 L450.3,262.8 L450.8,262.3 L451.3,261.9 L451.8,261.4 L452.3,261.0 L452.8,260.6 L453.3,260.1 L453.8,259.7 L454.3,259.2 L454.8,258.8 L455.3,258.4 L455.8,257.9 L456.3,257.5 L456.8,257.1 L457.3,256.6 L457.8,256.2 L458.3,255.8 L458.8,255.4 L459.3,254.9 L459.8,254.5 L460.3,254.1 L460.8,253.7 L461.3,253.3 L461.8,252.8 L462.3,252.4 L462.8,252.0 L463.3,251.6 L463.8,251.2 L464.3,250.8 L464.8,250.4 L465.3,250.0 L465.8,249.6 L466.3,249.2 L466.8,248.8 L467.3,248.3 L467.8,248.0 L468.3,247.6 L468.8,247.2 L469.3,246.8 L469.8,246.4 L470.3,246.0 L470.8,245.6 L471.3,245.2 L471.8,244.8 L472.3,244.4 L472.8,244.0 L473.3,243.7 L473.8,243.3 L474.3,242.9 L474.8,242.5 L475.3,242.1 L475.8,241.8 L476.3,241.4 L476.8,241.0 L477.3,240.7 L477.8,240.3 L478.3,239.9 L478.8,239.6 L479.3,239.2 L479.8,238.8 L480.3,238.5 L480.8,238.1 L481.3,237.8 L481.8,237.4 L482.3,237.1 L482.8,236.7 L483.3,236.3 L483.8,236.0 L484.3,235.7 L484.8,235.3 L485.3,235.0 L485.8,234.6 L486.3,234.3 L486.8,233.9 L487.3,233.6 L487.8,233.3 L488.3,232.9 L488.8,232.6 L489.3,232.3 L489.8,231.9 L490.3,231.6 L490.8,231.3 L491.3,230.9 L491.8,230.6 L492.3,230.3 L492.8,230.0 L493.3,229.7 L493.8,229.3 L494.3,229.0 L494.8,228.7 L495.3,228.4 L495.8,228.1 L496.3,227.8 L496.8,227.5 L497.3,227.2 L497.8,226.8 L498.3,226.5 L498.8,226.2 L499.3,225.9 L499.8,225.6 L500.3,225.3 L500.8,225.0 L501.3,224.7 L501.8,224.4 L502.3,224.2 L502.8,223.9 L503.3,223.6 L503.8,223.3 L504.3,223.0 L504.8,222.7 L505.3,222.4 L505.8,222.1 L506.3,221.9 L506.8,221.6 L507.3,221.3 L507.8,221.0 L508.3,220.7 L508.8,220.5 L509.3,220.2 L509.8,219.9 L510.3,219.7 L510.8,219.4 L511.3,219.1 L511.8,218.8 L512.3,218.6 L512.8,218.3 L513.3,218.1 L513.8,217.8 L514.3,217.5 L514.8,217.3 L515.3,217.0 L515.8,216.8 L516.3,216.5 L516.8,216.3 L517.3,216.0 L517.8,215.8 L518.3,215.5 L518.8,215.3 L519.3,215.0 L519.8,214.8 L520.3,214.5 L520.8,214.3 L521.3,214.0 L521.8,213.8 L522.3,213.6 L522.8,213.3 L523.3,213.1 L523.8,212.9 L524.3,212.6 L524.8,212.4 L525.3,212.2 L525.8,211.9 L526.3,211.7 L526.8,211.5 L527.3,211.3 L527.8,211.0 L528.3,210.8 L528.8,210.6 L529.3,210.4 L529.8,210.2 L530.3,209.9 L530.8,209.7 L531.3,209.5 L531.8,209.3 L532.3,209.1 L532.8,208.9 L533.3,208.7 L533.8,208.5 L534.3,208.3 L534.8,208.0 L535.3,207.8 L535.8,207.6 L536.3,207.4 L536.8,207.2 L537.3,207.0 L537.8,206.8 L538.3,206.6 L538.8,206.5 L539.3,206.3 L539.8,206.1 L540.3,205.9 L540.8,205.7 L541.3,205.5 L541.8,205.3 L542.3,205.1 L542.8,204.9 L543.3,204.7 L543.8,204.6 L544.3,204.4 L544.8,204.2 L545.3,204.0 L545.8,203.8 L546.3,203.7 L546.8,203.5 L547.3,203.3 L547.8,203.1 L548.3,203.0 L548.8,202.8 L549.3,202.6 L549.8,202.5 L550.3,202.3 L550.8,202.1 L551.3,202.0 L551.8,201.8 L552.3,201.6 L552.8,201.5 L553.3,201.3 L553.8,201.1 L554.3,201.0 L554.8,200.8 L555.3,200.7 L555.8,200.5 L556.3,200.4 L556.8,200.2 L557.3,200.1 L557.8,199.9 L558.3,199.8 L558.8,199.6 L559.3,199.5 L559.8,199.3 L560.3,199.2 L560.8,199.0 L561.3,198.9 L561.8,198.7 L562.3,198.6 L562.8,198.5 L563.3,198.3 L563.8,198.2 L564.3,198.1 L564.8,197.9 L565.3,197.8 L565.8,197.7 L566.3,197.5 L566.8,197.4 L567.3,197.3 L567.8,197.1 L568.3,197.0 L568.8,196.9 L569.3,196.8 L569.8,196.6 L570.3,196.5 L570.8,196.4 L571.3,196.3 L571.8,196.1 L572.3,196.0 L572.8,195.9 L573.3,195.8 L573.8,195.7 L574.3,195.6 L574.8,195.4 L575.3,195.3 L575.8,195.2 L576.3,195.1 L576.8,195.0 L577.3,194.9 L577.8,194.8 L578.3,194.7 L578.8,194.6 L579.3,194.5 L579.8,194.4 L580.3,194.3 L580.8,194.1 L581.3,194.0 L581.8,193.9 L582.3,193.8 L582.8,193.7 L583.3,193.7 L583.8,193.6 L584.3,193.5 L584.8,193.4 L585.3,193.3 L585.8,193.2 L586.3,193.1 L586.8,193.0 L587.3,192.9 L587.8,192.8 L588.3,192.7 L588.8,192.6 L589.3,192.6 L589.8,192.5 L590.3,192.4 L590.8,192.3 L591.3,192.2 L591.8,192.1 L592.3,192.1 L592.8,192.0 L593.3,191.9 L593.8,191.8 L594.3,191.8 L594.8,191.7 L595.3,191.6 L595.8,191.5 L596.3,191.5 L596.8,191.4 L597.3,191.3 L597.8,191.2 L598.3,191.2 L598.8,191.1 L599.3,191.0 L599.8,191.0 L600.3,190.9 L600.8,190.8 L601.3,190.8 L601.8,190.7 L602.3,190.7 L602.8,190.6 L603.3,190.5 L603.8,190.5 L604.3,190.4 L604.8,190.4 L605.3,190.3 L605.8,190.2 L606.3,190.2 L606.8,190.1 L607.3,190.1 L607.8,190.0 L608.3,190.0 L608.8,189.9 L609.3,189.9 L609.8,189.8 L610.3,189.8 L610.8,189.7 L611.3,189.7 L611.8,189.6 L612.3,189.6 L612.8,189.5 L613.3,189.5 L613.8,189.5 L614.3,189.4 L614.8,189.4 L615.3,189.3 L615.8,189.3 L616.3,189.2 L616.8,189.2 L617.3,189.2 L617.8,189.1 L618.3,189.1 L618.8,189.1 L619.3,189.0 L619.8,189.0 L620.3,189.0 L620.8,188.9 L621.3,188.9 L621.8,188.9 L622.3,188.8 L622.8,188.8 L623.3,188.8 L623.8,188.7 L624.3,188.7 L624.8,188.7 L625.3,188.7 L625.8,188.6 L626.3,188.6 L626.8,188.6 L627.3,188.6 L627.8,188.5 L628.3,188.5 L628.8,188.5 L629.3,188.5 L629.8,188.5 L630.3,188.4 L630.8,188.4 L631.3,188.4 L631.8,188.4 L632.3,188.4 L632.8,188.4 L633.3,188.3 L633.8,188.3 L634.3,188.3 L634.8,188.3 L635.3,188.3 L635.8,188.3 L636.3,188.2 L636.8,188.2 L637.3,188.2 L637.8,188.2 L638.3,188.2 L638.8,188.2 L639.3,188.2 L639.8,188.2 L640.3,188.2 L640.8,188.2 L641.3,188.1 L641.8,188.1 L642.3,188.1 L642.8,188.1 L643.3,188.1 L643.8,188.1 L644.3,188.1 L644.8,188.1 L645.3,188.1 L645.8,188.1 L646.3,188.1 L646.8,188.1 L647.3,188.1 L647.8,188.1 L648.3,188.1 L648.8,188.1 L649.3,188.1 L649.8,188.1 L650.3,188.1 L650.8,188.1 L651.3,188.1 L651.8,188.0 L652.3,188.0 L652.8,188.0 L653.3,188.0 L653.8,188.0 L654.3,188.0 L654.8,188.0 L655.3,188.0 L655.8,188.0 L656.3,188.0 L656.8,188.1 L657.3,188.1 L657.8,188.1 L658.3,188.1 L658.8,188.1 L659.3,188.1 L659.8,188.1 L660.3,188.1 L660.8,188.1 L661.3,188.1 L661.8,188.1 L662.3,188.1 L662.8,188.1 L663.3,188.1 L663.8,188.1 L664.3,188.1 L664.8,188.1 L665.3,188.1 L665.8,188.1 L666.3,188.1 L666.8,188.1 L667.3,188.1 L667.8,188.1 L668.3,188.1 L668.8,188.1 L669.3,188.1 L669.8,188.1 L670.3,188.1 L670.8,188.1 L671.3,188.1 L671.8,188.1 L672.3,188.1 L672.8,188.1 L673.3,188.1 L673.8,188.1 L674.3,188.1 L674.8,188.1 L685.0,187.3 L1290.0,187.3 L1300.0,190.2 L1300.5,190.3 L1301.0,190.4 L1301.5,190.4 L1302.0,190.5 L1302.5,190.6 L1303.0,190.6 L1303.5,190.7 L1304.0,190.8 L1304.5,190.8 L1305.0,190.9 L1305.5,191.0 L1306.0,191.0 L1306.5,191.1 L1307.0,191.2 L1307.5,191.3 L1308.0,191.3 L1308.5,191.4 L1309.0,191.5 L1309.5,191.6 L1310.0,191.6 L1310.5,191.7 L1311.0,191.8 L1311.5,191.9 L1312.0,192.0 L1312.5,192.1 L1313.0,192.1 L1313.5,192.2 L1314.0,192.3 L1314.5,192.4 L1315.0,192.5 L1315.5,192.6 L1316.0,192.7 L1316.5,192.7 L1317.0,192.8 L1317.5,192.9 L1318.0,193.0 L1318.5,193.1 L1319.0,193.2 L1319.5,193.3 L1320.0,193.4 L1320.5,193.5 L1321.0,193.6 L1321.5,193.7 L1322.0,193.8 L1322.5,193.9 L1323.0,194.0 L1323.5,194.1 L1324.0,194.2 L1324.5,194.3 L1325.0,194.4 L1325.5,194.5 L1326.0,194.6 L1326.5,194.7 L1327.0,194.8 L1327.5,194.9 L1328.0,195.1 L1328.5,195.2 L1329.0,195.3 L1329.5,195.4 L1330.0,195.5 L1330.5,195.6 L1331.0,195.7 L1331.5,195.9 L1332.0,196.0 L1332.5,196.1 L1333.0,196.2 L1333.5,196.3 L1334.0,196.5 L1334.5,196.6 L1335.0,196.7 L1335.5,196.8 L1336.0,197.0 L1336.5,197.1 L1337.0,197.2 L1337.5,197.4 L1338.0,197.5 L1338.5,197.6 L1339.0,197.8 L1339.5,197.9 L1340.0,198.0 L1340.5,198.2 L1341.0,198.3 L1341.5,198.5 L1342.0,198.6 L1342.5,198.7 L1343.0,198.9 L1343.5,199.0 L1344.0,199.2 L1344.5,199.3 L1345.0,199.5 L1345.5,199.6 L1346.0,199.8 L1346.5,199.9 L1347.0,200.1 L1347.5,200.2 L1348.0,200.4 L1348.5,200.5 L1349.0,200.7 L1349.5,200.8 L1350.0,201.0 L1350.5,201.2 L1351.0,201.3 L1351.5,201.5 L1352.0,201.6 L1352.5,201.8 L1353.0,202.0 L1353.5,202.1 L1354.0,202.3 L1354.5,202.5 L1355.0,202.6 L1355.5,202.8 L1356.0,203.0 L1356.5,203.2 L1357.0,203.3 L1357.5,203.5 L1358.0,203.7 L1358.5,203.9 L1359.0,204.1 L1359.5,204.2 L1360.0,204.4 L1360.5,204.6 L1361.0,204.8 L1361.5,205.0 L1362.0,205.2 L1362.5,205.4 L1363.0,205.5 L1363.5,205.7 L1364.0,205.9 L1364.5,206.1 L1365.0,206.3 L1365.5,206.5 L1366.0,206.7 L1366.5,206.9 L1367.0,207.1 L1367.5,207.3 L1368.0,207.5 L1368.5,207.7 L1369.0,207.9 L1369.5,208.1 L1370.0,208.4 L1370.5,208.6 L1371.0,208.8 L1371.5,209.0 L1372.0,209.2 L1372.5,209.4 L1373.0,209.6 L1373.5,209.9 L1374.0,210.1 L1374.5,210.3 L1375.0,210.5 L1375.5,210.7 L1376.0,211.0 L1376.5,211.2 L1377.0,211.4 L1377.5,211.7 L1378.0,211.9 L1378.5,212.1 L1379.0,212.3 L1379.5,212.6 L1380.0,212.8 L1380.5,213.1 L1381.0,213.3 L1381.5,213.5 L1382.0,213.8 L1382.5,214.0 L1383.0,214.3 L1383.5,214.5 L1384.0,214.8 L1384.5,215.0 L1385.0,215.3 L1385.5,215.5 L1386.0,215.8 L1386.5,216.0 L1387.0,216.3 L1387.5,216.5 L1388.0,216.8 L1388.5,217.1 L1389.0,217.3 L1389.5,217.6 L1390.0,217.9 L1390.5,218.1 L1391.0,218.4 L1391.5,218.7 L1392.0,218.9 L1392.5,219.2 L1393.0,219.5 L1393.5,219.8 L1394.0,220.0 L1394.5,220.3 L1395.0,220.6 L1395.5,220.9 L1396.0,221.2 L1396.5,221.4 L1397.0,221.7 L1397.5,222.0 L1398.0,222.3 L1398.5,222.6 L1399.0,222.9 L1399.5,223.2 L1400.0,223.5 L1400.5,223.8 L1401.0,224.1 L1401.5,224.4 L1402.0,224.7 L1402.5,225.0 L1403.0,225.3 L1403.5,225.6 L1404.0,225.9 L1404.5,226.2 L1405.0,226.6 L1405.5,226.9 L1406.0,227.2 L1406.5,227.5 L1407.0,227.8 L1407.5,228.1 L1408.0,228.5 L1408.5,228.8 L1409.0,229.1 L1409.5,229.5 L1410.0,229.8 L1410.5,230.1 L1411.0,230.5 L1411.5,230.8 L1412.0,231.2 L1412.5,231.5 L1413.0,231.9 L1413.5,232.2 L1414.0,232.6 L1414.5,232.9 L1415.0,233.3 L1415.5,233.7 L1416.0,234.0 L1416.5,234.4 L1417.0,234.8 L1417.5,235.1 L1418.0,235.5 L1418.5,235.9 L1419.0,236.3 L1419.5,236.7 L1420.0,237.1 L1420.5,237.5 L1421.0,237.9 L1421.5,238.3 L1422.0,238.7 L1422.5,239.1 L1423.0,239.5 L1423.5,239.9 L1424.0,240.3 L1424.5,240.8 L1425.0,241.2 L1425.5,241.6 L1426.0,242.1 L1426.5,242.5 L1427.0,242.9 L1427.5,243.4 L1428.0,243.9 L1428.5,244.3 L1429.0,244.8 L1429.5,245.2 L1430.0,245.7 L1430.5,246.2 L1431.0,246.7 L1431.5,247.1 L1432.0,247.6 L1432.5,248.1 L1433.0,248.6 L1433.5,249.1 L1434.0,249.6 L1434.5,250.1 L1435.0,250.7 L1435.5,251.2 L1436.0,251.7 L1436.5,252.2 L1437.0,252.8 L1437.5,253.3 L1438.0,253.8 L1438.5,254.4 L1439.0,255.0 L1439.5,255.5 L1440.0,256.1 L1440.5,256.7 L1441.0,257.2 L1441.5,257.8 L1442.0,258.4 L1442.5,259.0 L1443.0,259.6 L1443.5,260.2 L1444.0,260.8 L1444.5,261.4 L1445.0,262.1 L1445.5,262.7 L1446.0,263.3 L1446.5,264.0 L1447.0,264.6 L1447.5,265.3 L1448.0,265.9 L1448.5,266.6 L1449.0,267.2 L1449.5,267.9 L1450.0,268.6 L1450.5,269.3 L1451.0,270.0 L1451.5,270.7 L1452.0,271.4 L1452.5,272.1 L1453.0,272.8 L1453.5,273.6 L1454.0,274.3 L1454.5,275.0 L1455.0,275.8 L1455.5,276.5 L1456.0,277.3 L1456.5,278.1 L1457.0,278.8 L1457.5,279.6 L1458.0,280.4 L1458.5,281.2 L1459.0,282.0 L1459.5,282.8 L1460.0,283.7 L1460.5,284.5 L1461.0,285.3 L1461.5,286.2 L1462.0,287.0 L1462.5,287.9 L1463.0,288.7 L1463.5,289.6 L1464.0,290.5 L1464.5,291.4 L1465.0,292.2 L1465.5,293.1 L1466.0,294.1 L1466.5,295.0 L1467.0,295.9 L1467.5,296.8 L1468.0,297.8 L1468.5,298.7 L1469.0,299.7 L1469.5,300.6 L1470.0,301.6 L1470.5,302.6 L1471.0,303.6 L1471.5,304.6 L1472.0,305.6 L1472.5,306.6 L1473.0,307.6 L1473.5,308.7 L1474.0,309.7 L1474.5,310.8 L1475.0,311.8 L1475.5,312.9 L1476.0,314.0 L1476.5,315.1 L1477.0,316.2 L1477.5,317.3 L1478.0,318.4 L1478.5,319.5 L1479.0,320.6 L1479.5,321.8 L1480.0,322.9 L1480.5,324.1 L1481.0,325.2 L1481.5,326.4 L1482.0,327.6 L1482.5,328.8 L1483.0,330.0 L1483.5,331.2 L1484.0,332.4 L1484.5,333.7 L1485.0,334.9 L1485.5,336.2 L1486.0,337.4 L1486.5,338.7 L1487.0,340.0 L1487.5,341.3 L1488.0,342.6 L1488.5,343.9 L1489.0,345.2 L1489.5,346.6 L1490.0,347.9 L1490.5,349.2 L1491.0,350.6 L1491.5,352.0 L1492.0,353.4 L1492.5,354.8 L1493.0,356.2 L1493.5,357.6 L1494.0,359.0 L1494.5,360.4 L1495.0,361.9 L1495.5,363.3 L1496.0,364.8 L1496.5,366.2 L1497.0,367.7 L1497.5,369.2 L1498.0,370.7 L1498.5,372.2 L1499.0,373.7 L1499.5,375.3 L1500.0,376.8 L1500.5,378.3 L1501.0,379.9 L1501.5,381.5 L1502.0,383.0 L1502.5,384.6 L1503.0,386.2 L1503.5,387.8 L1504.0,389.4 L1504.5,391.1 L1505.0,392.7 L1505.5,394.3 L1506.0,396.0 L1506.5,397.6 L1507.0,399.3 L1507.5,401.0 L1508.0,402.7 L1508.5,404.4 L1509.0,406.1 L1509.5,407.8 L1510.0,409.5 L1510.5,411.2 L1511.0,413.0 L1511.5,414.7 L1512.0,416.5 L1512.5,418.3 L1513.0,420.1 L1513.5,421.8 L1514.0,423.6 L1514.5,425.4 L1515.0,427.3 L1515.5,429.1 L1516.0,430.9 L1516.5,432.8 L1517.0,434.6 L1517.5,436.5 L1518.0,438.3 L1518.5,440.2" fill="none" stroke="#ff0000" stroke-width="2.2" stroke-dasharray="12 10.5" stroke-linejoin="round"/>
<path d="M263.3,823.7 L263.8,822.2 L264.3,820.7 L264.8,819.2 L265.3,817.7 L265.8,816.1 L266.3,814.6 L266.8,813.1 L267.3,811.6 L267.8,810.1 L268.3,808.5 L268.8,807.0 L269.3,805.5 L269.8,803.9 L270.3,802.4 L270.8,800.9 L271.3,799.3 L271.8,797.8 L272.3,796.3 L272.8,794.7 L273.3,793.2 L273.8,791.6 L274.3,790.1 L274.8,788.5 L275.3,787.0 L275.8,785.4 L276.3,783.8 L276.8,782.3 L277.3,780.7 L277.8,779.2 L278.3,777.6 L278.8,776.0 L279.3,774.5 L279.8,772.9 L280.3,771.3 L280.8,769.7 L281.3,768.2 L281.8,766.6 L282.3,765.0 L282.8,763.4 L283.3,761.9 L283.8,760.3 L284.3,758.7 L284.8,757.1 L285.3,755.5 L285.8,754.0 L286.3,752.4 L286.8,750.8 L287.3,749.2 L287.8,747.6 L288.3,746.1 L288.8,744.5 L289.3,742.9 L289.8,741.3 L290.3,739.8 L290.8,738.2 L291.3,736.6 L291.8,735.0 L292.3,733.5 L292.8,731.9 L293.3,730.3 L293.8,728.7 L294.3,727.2 L294.8,725.6 L295.3,724.0 L295.8,722.5 L296.3,720.9 L296.8,719.4 L297.3,717.8 L297.8,716.3 L298.3,714.7 L298.8,713.2 L299.3,711.6 L299.8,710.1 L300.3,708.5 L300.8,707.0 L301.3,705.4 L301.8,703.9 L302.3,702.4 L302.8,700.8 L303.3,699.3 L303.8,697.8 L304.3,696.2 L304.8,694.7 L305.3,693.2 L305.8,691.7 L306.3,690.1 L306.8,688.6 L307.3,687.1 L307.8,685.6 L308.3,684.0 L308.8,682.5 L309.3,681.0 L309.8,679.5 L310.3,678.0 L310.8,676.5 L311.3,674.9 L311.8,673.4 L312.3,671.9 L312.8,670.4 L313.3,668.9 L313.8,667.4 L314.3,665.9 L314.8,664.4 L315.3,662.9 L315.8,661.4 L316.3,659.9 L316.8,658.4 L317.3,656.8 L317.8,655.3 L318.3,653.8 L318.8,652.3 L319.3,650.8 L319.8,649.3 L320.3,647.9 L320.8,646.4 L321.3,644.9 L321.8,643.4 L322.3,641.9 L322.8,640.4 L323.3,638.9 L323.8,637.4 L324.3,635.9 L324.8,634.4 L325.3,632.9 L325.8,631.4 L326.3,629.9 L326.8,628.4 L327.3,627.0 L327.8,625.5 L328.3,624.0 L328.8,622.5 L329.3,621.0 L329.8,619.5 L330.3,618.0 L330.8,616.5 L331.3,615.0 L331.8,613.5 L332.3,612.0 L332.8,610.4 L333.3,608.9 L333.8,607.4 L334.3,605.9 L334.8,604.4 L335.3,602.8 L335.8,601.3 L336.3,599.8 L336.8,598.2 L337.3,596.7 L337.8,595.1 L338.3,593.6 L338.8,592.0 L339.3,590.5 L339.8,588.9 L340.3,587.4 L340.8,585.8 L341.3,584.2 L341.8,582.7 L342.3,581.1 L342.8,579.6 L343.3,578.0 L343.8,576.4 L344.3,574.9 L344.8,573.3 L345.3,571.8 L345.8,570.2 L346.3,568.7 L346.8,567.1 L347.3,565.6 L347.8,564.0 L348.3,562.5 L348.8,560.9 L349.3,559.4 L349.8,557.8 L350.3,556.3 L350.8,554.8 L351.3,553.3 L351.8,551.8 L352.3,550.2 L352.8,548.7 L353.3,547.2 L353.8,545.7 L354.3,544.2 L354.8,542.7 L355.3,541.2 L355.8,539.7 L356.3,538.2 L356.8,536.8 L357.3,535.3 L357.8,533.8 L358.3,532.3 L358.8,530.9 L359.3,529.4 L359.8,527.9 L360.3,526.5 L360.8,525.0 L361.3,523.5 L361.8,522.1 L362.3,520.6 L362.8,519.2 L363.3,517.7 L363.8,516.3 L364.3,514.8 L364.8,513.4 L365.3,512.0 L365.8,510.5 L366.3,509.1 L366.8,507.7 L367.3,506.2 L367.8,504.8 L368.3,503.4 L368.8,502.0 L369.3,500.6 L369.8,499.1 L370.3,497.7 L370.8,496.3 L371.3,494.9 L371.8,493.5 L372.3,492.1 L372.8,490.7 L373.3,489.4 L373.8,488.0 L374.3,486.6 L374.8,485.2 L375.3,483.9 L375.8,482.5 L376.3,481.1 L376.8,479.8 L377.3,478.4 L377.8,477.1 L378.3,475.7 L378.8,474.4 L379.3,473.1 L379.8,471.8 L380.3,470.4 L380.8,469.1 L381.3,467.8 L381.8,466.5 L382.3,465.2 L382.8,463.9 L383.3,462.7 L383.8,461.4 L384.3,460.1 L384.8,458.8 L385.3,457.6 L385.8,456.3 L386.3,455.1 L386.8,453.9 L387.3,452.6 L387.8,451.4 L388.3,450.2 L388.8,448.9 L389.3,447.7 L389.8,446.5 L390.3,445.3 L390.8,444.0 L391.3,442.8 L391.8,441.6 L392.3,440.4 L392.8,439.2 L393.3,438.0 L393.8,436.7 L394.3,435.5 L394.8,434.3 L395.3,433.1 L395.8,431.9 L396.3,430.6 L396.8,429.4 L397.3,428.2 L397.8,426.9 L398.3,425.7 L398.8,424.5 L399.3,423.2 L399.8,421.9 L400.3,420.7 L400.8,419.4 L401.3,418.1 L401.8,416.9 L402.3,415.6 L402.8,414.3 L403.3,413.0 L403.8,411.7 L404.3,410.4 L404.8,409.1 L405.3,407.7 L405.8,406.4 L406.3,405.1 L406.8,403.8 L407.3,402.5 L407.8,401.1 L408.3,399.8 L408.8,398.5 L409.3,397.2 L409.8,395.8 L410.3,394.5 L410.8,393.2 L411.3,391.9 L411.8,390.5 L412.3,389.2 L412.8,387.9 L413.3,386.6 L413.8,385.3 L414.3,384.0 L414.8,382.7 L415.3,381.4 L415.8,380.1 L416.3,378.8 L416.8,377.5 L417.3,376.2 L417.8,375.0 L418.3,373.7 L418.8,372.5 L419.3,371.2 L419.8,370.0 L420.3,368.7 L420.8,367.5 L421.3,366.3 L421.8,365.1 L422.3,363.9 L422.8,362.7 L423.3,361.5 L423.8,360.3 L424.3,359.1 L424.8,357.9 L425.3,356.7 L425.8,355.6 L426.3,354.4 L426.8,353.3 L427.3,352.1 L427.8,351.0 L428.3,349.8 L428.8,348.7 L429.3,347.6 L429.8,346.4 L430.3,345.3 L430.8,344.2 L431.3,343.1 L431.8,342.0 L432.3,340.9 L432.8,339.8 L433.3,338.8 L433.8,337.7 L434.3,336.6 L434.8,335.6 L435.3,334.5 L435.8,333.4 L436.3,332.4 L436.8,331.4 L437.3,330.3 L437.8,329.3 L438.3,328.3 L438.8,327.3 L439.3,326.2 L439.8,325.2 L440.3,324.2 L440.8,323.2 L441.3,322.2 L441.8,321.3 L442.3,320.3 L442.8,319.3 L443.3,318.3 L443.8,317.4 L444.3,316.4 L444.8,315.5 L445.3,314.5 L445.8,313.6 L446.3,312.6 L446.8,311.7 L447.3,310.8 L447.8,309.9 L448.3,308.9 L448.8,308.0 L449.3,307.1 L449.8,306.2 L450.3,305.3 L450.8,304.4 L451.3,303.6 L451.8,302.7 L452.3,301.8 L452.8,300.9 L453.3,300.1 L453.8,299.2 L454.3,298.4 L454.8,297.5 L455.3,296.7 L455.8,295.8 L456.3,295.0 L456.8,294.2 L457.3,293.3 L457.8,292.5 L458.3,291.7 L458.8,290.9 L459.3,290.1 L459.8,289.3 L460.3,288.5 L460.8,287.7 L461.3,286.9 L461.8,286.1 L462.3,285.3 L462.8,284.6 L463.3,283.8 L463.8,283.0 L464.3,282.3 L464.8,281.5 L465.3,280.8 L465.8,280.0 L466.3,279.3 L466.8,278.6 L467.3,277.8 L467.8,277.1 L468.3,276.4 L468.8,275.7 L469.3,275.0 L469.8,274.2 L470.3,273.5 L470.8,272.8 L471.3,272.1 L471.8,271.5 L472.3,270.8 L472.8,270.1 L473.3,269.4 L473.8,268.7 L474.3,268.1 L474.8,267.4 L475.3,266.7 L475.8,266.1 L476.3,265.4 L476.8,264.8 L477.3,264.1 L477.8,263.5 L478.3,262.9 L478.8,262.2 L479.3,261.6 L479.8,261.0 L480.3,260.4 L480.8,259.8 L481.3,259.1 L481.8,258.5 L482.3,257.9 L482.8,257.3 L483.3,256.7 L483.8,256.2 L484.3,255.6 L484.8,255.0 L485.3,254.4 L485.8,253.8 L486.3,253.3 L486.8,252.7 L487.3,252.1 L487.8,251.6 L488.3,251.0 L488.8,250.5 L489.3,249.9 L489.8,249.4 L490.3,248.8 L490.8,248.3 L491.3,247.8 L491.8,247.2 L492.3,246.7 L492.8,246.2 L493.3,245.7 L493.8,245.1 L494.3,244.6 L494.8,244.1 L495.3,243.6 L495.8,243.1 L496.3,242.6 L496.8,242.1 L497.3,241.6 L497.8,241.2 L498.3,240.7 L498.8,240.2 L499.3,239.7 L499.8,239.2 L500.3,238.8 L500.8,238.3 L501.3,237.8 L501.8,237.4 L502.3,236.9 L502.8,236.5 L503.3,236.0 L503.8,235.6 L504.3,235.1 L504.8,234.7 L505.3,234.3 L505.8,233.8 L506.3,233.4 L506.8,233.0 L507.3,232.5 L507.8,232.1 L508.3,231.7 L508.8,231.3 L509.3,230.9 L509.8,230.5 L510.3,230.1 L510.8,229.7 L511.3,229.3 L511.8,228.9 L512.3,228.5 L512.8,228.1 L513.3,227.7 L513.8,227.3 L514.3,226.9 L514.8,226.6 L515.3,226.2 L515.8,225.8 L516.3,225.4 L516.8,225.1 L517.3,224.7 L517.8,224.3 L518.3,224.0 L518.8,223.6 L519.3,223.3 L519.8,222.9 L520.3,222.6 L520.8,222.2 L521.3,221.9 L521.8,221.5 L522.3,221.2 L522.8,220.9 L523.3,220.5 L523.8,220.2 L524.3,219.9 L524.8,219.6 L525.3,219.2 L525.8,218.9 L526.3,218.6 L526.8,218.3 L527.3,218.0 L527.8,217.7 L528.3,217.4 L528.8,217.0 L529.3,216.7 L529.8,216.4 L530.3,216.1 L530.8,215.8 L531.3,215.6 L531.8,215.3 L532.3,215.0 L532.8,214.7 L533.3,214.4 L533.8,214.1 L534.3,213.8 L534.8,213.6 L535.3,213.3 L535.8,213.0 L536.3,212.7 L536.8,212.5 L537.3,212.2 L537.8,211.9 L538.3,211.7 L538.8,211.4 L539.3,211.2 L539.8,210.9 L540.3,210.6 L540.8,210.4 L541.3,210.1 L541.8,209.9 L542.3,209.6 L542.8,209.4 L543.3,209.2 L543.8,208.9 L544.3,208.7 L544.8,208.4 L545.3,208.2 L545.8,208.0 L546.3,207.7 L546.8,207.5 L547.3,207.3 L547.8,207.1 L548.3,206.8 L548.8,206.6 L549.3,206.4 L549.8,206.2 L550.3,205.9 L550.8,205.7 L551.3,205.5 L551.8,205.3 L552.3,205.1 L552.8,204.9 L553.3,204.7 L553.8,204.5 L554.3,204.3 L554.8,204.1 L555.3,203.9 L555.8,203.7 L556.3,203.5 L556.8,203.3 L557.3,203.1 L557.8,202.9 L558.3,202.7 L558.8,202.5 L559.3,202.3 L559.8,202.2 L560.3,202.0 L560.8,201.8 L561.3,201.6 L561.8,201.4 L562.3,201.3 L562.8,201.1 L563.3,200.9 L563.8,200.7 L564.3,200.6 L564.8,200.4 L565.3,200.2 L565.8,200.1 L566.3,199.9 L566.8,199.7 L567.3,199.6 L567.8,199.4 L568.3,199.3 L568.8,199.1 L569.3,199.0 L569.8,198.8 L570.3,198.6 L570.8,198.5 L571.3,198.4 L571.8,198.2 L572.3,198.1 L572.8,197.9 L573.3,197.8 L573.8,197.6 L574.3,197.5 L574.8,197.4 L575.3,197.2 L575.8,197.1 L576.3,197.0 L576.8,196.8 L577.3,196.7 L577.8,196.6 L578.3,196.4 L578.8,196.3 L579.3,196.2 L579.8,196.1 L580.3,195.9 L580.8,195.8 L581.3,195.7 L581.8,195.6 L582.3,195.5 L582.8,195.3 L583.3,195.2 L583.8,195.1 L584.3,195.0 L584.8,194.9 L585.3,194.8 L585.8,194.7 L586.3,194.6 L586.8,194.5 L587.3,194.4 L587.8,194.3 L588.3,194.1 L588.8,194.0 L589.3,193.9 L589.8,193.9 L590.3,193.8 L590.8,193.7 L591.3,193.6 L591.8,193.5 L592.3,193.4 L592.8,193.3 L593.3,193.2 L593.8,193.1 L594.3,193.0 L594.8,192.9 L595.3,192.8 L595.8,192.8 L596.3,192.7 L596.8,192.6 L597.3,192.5 L597.8,192.4 L598.3,192.4 L598.8,192.3 L599.3,192.2 L599.8,192.1 L600.3,192.1 L600.8,192.0 L601.3,191.9 L601.8,191.8 L602.3,191.8 L602.8,191.7 L603.3,191.6 L603.8,191.6 L604.3,191.5 L604.8,191.4 L605.3,191.4 L605.8,191.3 L606.3,191.2 L606.8,191.2 L607.3,191.1 L607.8,191.1 L608.3,191.0 L608.8,190.9 L609.3,190.9 L609.8,190.8 L610.3,190.8 L610.8,190.7 L611.3,190.7 L611.8,190.6 L612.3,190.6 L612.8,190.5 L613.3,190.5 L613.8,190.4 L614.3,190.4 L614.8,190.3 L615.3,190.3 L615.8,190.2 L616.3,190.2 L616.8,190.1 L617.3,190.1 L617.8,190.1 L618.3,190.0 L618.8,190.0 L619.3,189.9 L619.8,189.9 L620.3,189.9 L620.8,189.8 L621.3,189.8 L621.8,189.8 L622.3,189.7 L622.8,189.7 L623.3,189.6 L623.8,189.6 L624.3,189.6 L624.8,189.6 L625.3,189.5 L625.8,189.5 L626.3,189.5 L626.8,189.4 L627.3,189.4 L627.8,189.4 L628.3,189.3 L628.8,189.3 L629.3,189.3 L629.8,189.3 L630.3,189.2 L630.8,189.2 L631.3,189.2 L631.8,189.2 L632.3,189.2 L632.8,189.1 L633.3,189.1 L633.8,189.1 L634.3,189.1 L634.8,189.0 L635.3,189.0 L635.8,189.0 L636.3,189.0 L636.8,189.0 L637.3,189.0 L637.8,188.9 L638.3,188.9 L638.8,188.9 L639.3,188.9 L639.8,188.9 L640.3,188.9 L640.8,188.9 L641.3,188.8 L641.8,188.8 L642.3,188.8 L642.8,188.8 L643.3,188.8 L643.8,188.8 L644.3,188.8 L644.8,188.8 L645.3,188.7 L645.8,188.7 L646.3,188.7 L646.8,188.7 L647.3,188.7 L647.8,188.7 L648.3,188.7 L648.8,188.7 L649.3,188.7 L649.8,188.7 L650.3,188.7 L650.8,188.7 L651.3,188.7 L651.8,188.7 L652.3,188.6 L652.8,188.6 L653.3,188.6 L653.8,188.6 L654.3,188.6 L654.8,188.6 L655.3,188.6 L655.8,188.6 L656.3,188.6 L656.8,188.6 L657.3,188.6 L657.8,188.6 L658.3,188.6 L658.8,188.6 L659.3,188.6 L659.8,188.6 L660.3,188.6 L660.8,188.6 L661.3,188.6 L661.8,188.6 L662.3,188.6 L662.8,188.6 L663.3,188.6 L663.8,188.6 L664.3,188.6 L664.8,188.6 L665.3,188.6 L665.8,188.6 L666.3,188.6 L666.8,188.6 L667.3,188.6 L667.8,188.6 L668.3,188.6 L668.8,188.6 L669.3,188.6 L669.8,188.6 L670.3,188.6 L670.8,188.6 L671.3,188.6 L671.8,188.6 L672.3,188.6 L672.8,188.6 L673.3,188.6 L673.8,188.6 L674.3,188.6 L674.8,188.6 L675.3,188.6 L675.8,188.6 L676.3,188.6 L676.8,188.6 L677.3,188.6 L677.8,188.6 L678.3,188.6 L678.8,188.6 L679.3,188.6 L679.8,188.6 L690.0,187.3 L1260.0,187.3 L1270.0,188.5 L1270.5,188.6 L1271.0,188.6 L1271.5,188.7 L1272.0,188.7 L1272.5,188.7 L1273.0,188.8 L1273.5,188.8 L1274.0,188.9 L1274.5,188.9 L1275.0,189.0 L1275.5,189.0 L1276.0,189.1 L1276.5,189.1 L1277.0,189.2 L1277.5,189.2 L1278.0,189.3 L1278.5,189.3 L1279.0,189.4 L1279.5,189.4 L1280.0,189.5 L1280.5,189.5 L1281.0,189.6 L1281.5,189.7 L1282.0,189.7 L1282.5,189.8 L1283.0,189.8 L1283.5,189.9 L1284.0,190.0 L1284.5,190.0 L1285.0,190.1 L1285.5,190.2 L1286.0,190.2 L1286.5,190.3 L1287.0,190.4 L1287.5,190.4 L1288.0,190.5 L1288.5,190.6 L1289.0,190.7 L1289.5,190.7 L1290.0,190.8 L1290.5,190.9 L1291.0,191.0 L1291.5,191.0 L1292.0,191.1 L1292.5,191.2 L1293.0,191.3 L1293.5,191.4 L1294.0,191.5 L1294.5,191.5 L1295.0,191.6 L1295.5,191.7 L1296.0,191.8 L1296.5,191.9 L1297.0,192.0 L1297.5,192.1 L1298.0,192.2 L1298.5,192.3 L1299.0,192.4 L1299.5,192.5 L1300.0,192.6 L1300.5,192.7 L1301.0,192.8 L1301.5,192.9 L1302.0,193.0 L1302.5,193.1 L1303.0,193.2 L1303.5,193.3 L1304.0,193.4 L1304.5,193.5 L1305.0,193.6 L1305.5,193.7 L1306.0,193.8 L1306.5,194.0 L1307.0,194.1 L1307.5,194.2 L1308.0,194.3 L1308.5,194.5 L1309.0,194.6 L1309.5,194.7 L1310.0,194.8 L1310.5,195.0 L1311.0,195.1 L1311.5,195.3 L1312.0,195.4 L1312.5,195.5 L1313.0,195.7 L1313.5,195.8 L1314.0,196.0 L1314.5,196.1 L1315.0,196.3 L1315.5,196.4 L1316.0,196.6 L1316.5,196.8 L1317.0,196.9 L1317.5,197.1 L1318.0,197.3 L1318.5,197.4 L1319.0,197.6 L1319.5,197.8 L1320.0,198.0 L1320.5,198.2 L1321.0,198.4 L1321.5,198.5 L1322.0,198.7 L1322.5,198.9 L1323.0,199.1 L1323.5,199.3 L1324.0,199.5 L1324.5,199.7 L1325.0,200.0 L1325.5,200.2 L1326.0,200.4 L1326.5,200.6 L1327.0,200.8 L1327.5,201.1 L1328.0,201.3 L1328.5,201.5 L1329.0,201.8 L1329.5,202.0 L1330.0,202.3 L1330.5,202.5 L1331.0,202.8 L1331.5,203.0 L1332.0,203.3 L1332.5,203.5 L1333.0,203.8 L1333.5,204.1 L1334.0,204.4 L1334.5,204.6 L1335.0,204.9 L1335.5,205.2 L1336.0,205.5 L1336.5,205.8 L1337.0,206.1 L1337.5,206.4 L1338.0,206.7 L1338.5,207.0 L1339.0,207.4 L1339.5,207.7 L1340.0,208.0 L1340.5,208.3 L1341.0,208.7 L1341.5,209.0 L1342.0,209.3 L1342.5,209.7 L1343.0,210.1 L1343.5,210.4 L1344.0,210.8 L1344.5,211.1 L1345.0,211.5 L1345.5,211.9 L1346.0,212.3 L1346.5,212.7 L1347.0,213.0 L1347.5,213.4 L1348.0,213.8 L1348.5,214.2 L1349.0,214.7 L1349.5,215.1 L1350.0,215.5 L1350.5,215.9 L1351.0,216.4 L1351.5,216.8 L1352.0,217.2 L1352.5,217.7 L1353.0,218.1 L1353.5,218.6 L1354.0,219.1 L1354.5,219.5 L1355.0,220.0 L1355.5,220.5 L1356.0,221.0 L1356.5,221.5 L1357.0,222.0 L1357.5,222.5 L1358.0,223.0 L1358.5,223.5 L1359.0,224.0 L1359.5,224.5 L1360.0,225.1 L1360.5,225.6 L1361.0,226.2 L1361.5,226.7 L1362.0,227.3 L1362.5,227.8 L1363.0,228.4 L1363.5,229.0 L1364.0,229.5 L1364.5,230.1 L1365.0,230.7 L1365.5,231.3 L1366.0,231.9 L1366.5,232.5 L1367.0,233.2 L1367.5,233.8 L1368.0,234.4 L1368.5,235.1 L1369.0,235.7 L1369.5,236.4 L1370.0,237.0 L1370.5,237.7 L1371.0,238.4 L1371.5,239.0 L1372.0,239.7 L1372.5,240.4 L1373.0,241.1 L1373.5,241.8 L1374.0,242.5 L1374.5,243.3 L1375.0,244.0 L1375.5,244.7 L1376.0,245.5 L1376.5,246.2 L1377.0,247.0 L1377.5,247.7 L1378.0,248.5 L1378.5,249.3 L1379.0,250.1 L1379.5,250.9 L1380.0,251.7 L1380.5,252.5 L1381.0,253.3 L1381.5,254.1 L1382.0,254.9 L1382.5,255.8 L1383.0,256.6 L1383.5,257.5 L1384.0,258.3 L1384.5,259.2 L1385.0,260.1 L1385.5,261.0 L1386.0,261.9 L1386.5,262.8 L1387.0,263.7 L1387.5,264.6 L1388.0,265.5 L1388.5,266.4 L1389.0,267.4 L1389.5,268.3 L1390.0,269.3 L1390.5,270.3 L1391.0,271.2 L1391.5,272.2 L1392.0,273.2 L1392.5,274.2 L1393.0,275.2 L1393.5,276.2 L1394.0,277.3 L1394.5,278.3 L1395.0,279.3 L1395.5,280.4 L1396.0,281.4 L1396.5,282.5 L1397.0,283.6 L1397.5,284.7 L1398.0,285.8 L1398.5,286.9 L1399.0,288.0 L1399.5,289.1 L1400.0,290.2 L1400.5,291.4 L1401.0,292.5 L1401.5,293.7 L1402.0,294.8 L1402.5,296.0 L1403.0,297.2 L1403.5,298.4 L1404.0,299.5 L1404.5,300.8 L1405.0,302.0 L1405.5,303.2 L1406.0,304.4 L1406.5,305.6 L1407.0,306.9 L1407.5,308.1 L1408.0,309.4 L1408.5,310.7 L1409.0,311.9 L1409.5,313.2 L1410.0,314.5 L1410.5,315.8 L1411.0,317.1 L1411.5,318.4 L1412.0,319.7 L1412.5,321.0 L1413.0,322.4 L1413.5,323.7 L1414.0,325.0 L1414.5,326.4 L1415.0,327.8 L1415.5,329.1 L1416.0,330.5 L1416.5,331.9 L1417.0,333.3 L1417.5,334.6 L1418.0,336.0 L1418.5,337.4 L1419.0,338.9 L1419.5,340.3 L1420.0,341.7 L1420.5,343.1 L1421.0,344.6 L1421.5,346.0 L1422.0,347.4 L1422.5,348.9 L1423.0,350.4 L1423.5,351.8 L1424.0,353.3 L1424.5,354.8 L1425.0,356.3 L1425.5,357.7 L1426.0,359.2 L1426.5,360.7 L1427.0,362.2 L1427.5,363.8 L1428.0,365.3 L1428.5,366.8 L1429.0,368.3 L1429.5,369.9 L1430.0,371.4 L1430.5,372.9 L1431.0,374.5 L1431.5,376.0 L1432.0,377.6 L1432.5,379.2 L1433.0,380.7 L1433.5,382.3 L1434.0,383.9 L1434.5,385.5 L1435.0,387.0 L1435.5,388.6 L1436.0,390.2 L1436.5,391.8 L1437.0,393.4 L1437.5,395.0 L1438.0,396.7 L1438.5,398.3 L1439.0,399.9 L1439.5,401.5 L1440.0,403.1 L1440.5,404.8 L1441.0,406.4 L1441.5,408.1 L1442.0,409.7 L1442.5,411.4 L1443.0,413.0 L1443.5,414.7 L1444.0,416.3 L1444.5,418.0 L1445.0,419.7 L1445.5,421.3 L1446.0,423.0 L1446.5,424.7 L1447.0,426.4 L1447.5,428.0 L1448.0,429.7 L1448.5,431.4 L1449.0,433.1 L1449.5,434.8 L1450.0,436.5 L1450.5,438.2 L1451.0,439.9 L1451.5,441.6 L1452.0,443.3 L1452.5,445.0 L1453.0,446.8 L1453.5,448.5 L1454.0,450.2 L1454.5,451.9 L1455.0,453.7 L1455.5,455.4 L1456.0,457.1 L1456.5,458.8 L1457.0,460.6 L1457.5,462.3 L1458.0,464.1 L1458.5,465.8 L1459.0,467.5 L1459.5,469.3 L1460.0,471.0 L1460.5,472.8 L1461.0,474.5 L1461.5,476.3 L1462.0,478.0 L1462.5,479.8 L1463.0,481.6 L1463.5,483.3 L1464.0,485.1 L1464.5,486.8 L1465.0,488.6 L1465.5,490.4 L1466.0,492.1 L1466.5,493.9 L1467.0,495.7 L1467.5,497.4 L1468.0,499.2 L1468.5,501.0 L1469.0,502.8 L1469.5,504.5 L1470.0,506.3 L1470.5,508.1 L1471.0,509.9 L1471.5,511.6 L1472.0,513.4 L1472.5,515.2 L1473.0,517.0 L1473.5,518.7 L1474.0,520.5 L1474.5,522.3 L1475.0,524.1 L1475.5,525.9 L1476.0,527.7 L1476.5,529.4 L1477.0,531.2 L1477.5,533.0 L1478.0,534.8 L1478.5,536.6 L1479.0,538.4 L1479.5,540.2 L1480.0,542.0 L1480.5,543.8 L1481.0,545.5 L1481.5,547.3 L1482.0,549.1 L1482.5,550.9 L1483.0,552.7 L1483.5,554.5 L1484.0,556.3 L1484.5,558.1 L1485.0,559.9 L1485.5,561.7 L1486.0,563.5 L1486.5,565.3 L1487.0,567.1 L1487.5,568.9 L1488.0,570.7 L1488.5,572.5 L1489.0,574.3 L1489.5,576.1 L1490.0,577.9 L1490.5,579.7 L1491.0,581.5 L1491.5,583.3 L1492.0,585.1 L1492.5,586.9 L1493.0,588.7 L1493.5,590.5 L1494.0,592.3 L1494.5,594.1 L1495.0,595.9 L1495.5,597.7 L1496.0,599.5 L1496.5,601.3 L1497.0,603.1 L1497.5,604.9 L1498.0,606.7 L1498.5,608.5 L1499.0,610.3 L1499.5,612.1 L1500.0,613.9 L1500.5,615.6 L1501.0,617.4 L1501.5,619.2 L1502.0,621.0 L1502.5,622.8 L1503.0,624.6 L1503.5,626.4 L1504.0,628.2 L1504.5,630.0 L1505.0,631.8 L1505.5,633.6 L1506.0,635.4 L1506.5,637.2 L1507.0,639.0 L1507.5,640.8 L1508.0,642.6 L1508.5,644.4 L1509.0,646.2 L1509.5,648.0 L1510.0,649.8 L1510.5,651.6 L1511.0,653.4 L1511.5,655.2 L1512.0,656.9 L1512.5,658.7 L1513.0,660.5 L1513.5,662.3 L1514.0,664.1 L1514.5,665.9 L1515.0,667.7 L1515.5,669.5 L1516.0,671.3 L1516.5,673.0 L1517.0,674.8 L1517.5,676.6 L1518.0,678.4 L1518.5,680.2" fill="none" stroke="#00ff00" stroke-width="2.2" stroke-dasharray="3.5 11.5" stroke-linejoin="round"/>
<path d="M263.3,417.0 L263.8,416.4 L264.3,415.8 L264.8,415.3 L265.3,414.7 L265.8,414.1 L266.3,413.6 L266.8,413.0 L267.3,412.4 L267.8,411.9 L268.3,411.3 L268.8,410.7 L269.3,410.2 L269.8,409.6 L270.3,409.1 L270.8,408.5 L271.3,407.9 L271.8,407.4 L272.3,406.8 L272.8,406.2 L273.3,405.7 L273.8,405.1 L274.3,404.6 L274.8,404.0 L275.3,403.4 L275.8,402.9 L276.3,402.3 L276.8,401.8 L277.3,401.2 L277.8,400.6 L278.3,400.1 L278.8,399.5 L279.3,399.0 L279.8,398.4 L280.3,397.9 L280.8,397.3 L281.3,396.7 L281.8,396.2 L282.3,395.6 L282.8,395.1 L283.3,394.5 L283.8,394.0 L284.3,393.4 L284.8,392.9 L285.3,392.3 L285.8,391.8 L286.3,391.2 L286.8,390.7 L287.3,390.1 L287.8,389.6 L288.3,389.0 L288.8,388.4 L289.3,387.9 L289.8,387.3 L290.3,386.8 L290.8,386.3 L291.3,385.7 L291.8,385.2 L292.3,384.6 L292.8,384.1 L293.3,383.5 L293.8,383.0 L294.3,382.4 L294.8,381.9 L295.3,381.3 L295.8,380.8 L296.3,380.2 L296.8,379.7 L297.3,379.1 L297.8,378.6 L298.3,378.1 L298.8,377.5 L299.3,377.0 L299.8,376.4 L300.3,375.9 L300.8,375.4 L301.3,374.8 L301.8,374.3 L302.3,373.7 L302.8,373.2 L303.3,372.7 L303.8,372.1 L304.3,371.6 L304.8,371.0 L305.3,370.5 L305.8,370.0 L306.3,369.4 L306.8,368.9 L307.3,368.4 L307.8,367.8 L308.3,367.3 L308.8,366.8 L309.3,366.2 L309.8,365.7 L310.3,365.2 L310.8,364.6 L311.3,364.1 L311.8,363.6 L312.3,363.0 L312.8,362.5 L313.3,362.0 L313.8,361.4 L314.3,360.9 L314.8,360.4 L315.3,359.9 L315.8,359.3 L316.3,358.8 L316.8,358.3 L317.3,357.7 L317.8,357.2 L318.3,356.7 L318.8,356.2 L319.3,355.6 L319.8,355.1 L320.3,354.6 L320.8,354.1 L321.3,353.6 L321.8,353.0 L322.3,352.5 L322.8,352.0 L323.3,351.5 L323.8,350.9 L324.3,350.4 L324.8,349.9 L325.3,349.4 L325.8,348.9 L326.3,348.4 L326.8,347.8 L327.3,347.3 L327.8,346.8 L328.3,346.3 L328.8,345.8 L329.3,345.3 L329.8,344.7 L330.3,344.2 L330.8,343.7 L331.3,343.2 L331.8,342.7 L332.3,342.2 L332.8,341.7 L333.3,341.2 L333.8,340.7 L334.3,340.1 L334.8,339.6 L335.3,339.1 L335.8,338.6 L336.3,338.1 L336.8,337.6 L337.3,337.1 L337.8,336.6 L338.3,336.1 L338.8,335.6 L339.3,335.1 L339.8,334.6 L340.3,334.1 L340.8,333.6 L341.3,333.1 L341.8,332.6 L342.3,332.1 L342.8,331.6 L343.3,331.1 L343.8,330.6 L344.3,330.1 L344.8,329.6 L345.3,329.1 L345.8,328.6 L346.3,328.1 L346.8,327.6 L347.3,327.1 L347.8,326.6 L348.3,326.1 L348.8,325.6 L349.3,325.1 L349.8,324.6 L350.3,324.1 L350.8,323.7 L351.3,323.2 L351.8,322.7 L352.3,322.2 L352.8,321.7 L353.3,321.2 L353.8,320.7 L354.3,320.2 L354.8,319.8 L355.3,319.3 L355.8,318.8 L356.3,318.3 L356.8,317.8 L357.3,317.3 L357.8,316.9 L358.3,316.4 L358.8,315.9 L359.3,315.4 L359.8,314.9 L360.3,314.5 L360.8,314.0 L361.3,313.5 L361.8,313.0 L362.3,312.5 L362.8,312.1 L363.3,311.6 L363.8,311.1 L364.3,310.6 L364.8,310.2 L365.3,309.7 L365.8,309.2 L366.3,308.8 L366.8,308.3 L367.3,307.8 L367.8,307.3 L368.3,306.9 L368.8,306.4 L369.3,305.9 L369.8,305.5 L370.3,305.0 L370.8,304.5 L371.3,304.1 L371.8,303.6 L372.3,303.1 L372.8,302.7 L373.3,302.2 L373.8,301.8 L374.3,301.3 L374.8,300.8 L375.3,300.4 L375.8,299.9 L376.3,299.5 L376.8,299.0 L377.3,298.6 L377.8,298.1 L378.3,297.6 L378.8,297.2 L379.3,296.7 L379.8,296.3 L380.3,295.8 L380.8,295.4 L381.3,294.9 L381.8,294.5 L382.3,294.0 L382.8,293.6 L383.3,293.1 L383.8,292.7 L384.3,292.2 L384.8,291.8 L385.3,291.3 L385.8,290.9 L386.3,290.5 L386.8,290.0 L387.3,289.6 L387.8,289.1 L388.3,288.7 L388.8,288.2 L389.3,287.8 L389.8,287.4 L390.3,286.9 L390.8,286.5 L391.3,286.1 L391.8,285.6 L392.3,285.2 L392.8,284.7 L393.3,284.3 L393.8,283.9 L394.3,283.4 L394.8,283.0 L395.3,282.6 L395.8,282.2 L396.3,281.7 L396.8,281.3 L397.3,280.9 L397.8,280.4 L398.3,280.0 L398.8,279.6 L399.3,279.2 L399.8,278.7 L400.3,278.3 L400.8,277.9 L401.3,277.5 L401.8,277.0 L402.3,276.6 L402.8,276.2 L403.3,275.8 L403.8,275.4 L404.3,275.0 L404.8,274.5 L405.3,274.1 L405.8,273.7 L406.3,273.3 L406.8,272.9 L407.3,272.5 L407.8,272.1 L408.3,271.6 L408.8,271.2 L409.3,270.8 L409.8,270.4 L410.3,270.0 L410.8,269.6 L411.3,269.2 L411.8,268.8 L412.3,268.4 L412.8,268.0 L413.3,267.6 L413.8,267.2 L414.3,266.8 L414.8,266.4 L415.3,266.0 L415.8,265.6 L416.3,265.2 L416.8,264.8 L417.3,264.4 L417.8,264.0 L418.3,263.6 L418.8,263.2 L419.3,262.8 L419.8,262.4 L420.3,262.0 L420.8,261.6 L421.3,261.2 L421.8,260.9 L422.3,260.5 L422.8,260.1 L423.3,259.7 L423.8,259.3 L424.3,258.9 L424.8,258.5 L425.3,258.2 L425.8,257.8 L426.3,257.4 L426.8,257.0 L427.3,256.6 L427.8,256.3 L428.3,255.9 L428.8,255.5 L429.3,255.1 L429.8,254.8 L430.3,254.4 L430.8,254.0 L431.3,253.6 L431.8,253.3 L432.3,252.9 L432.8,252.5 L433.3,252.2 L433.8,251.8 L434.3,251.4 L434.8,251.0 L435.3,250.7 L435.8,250.3 L436.3,250.0 L436.8,249.6 L437.3,249.2 L437.8,248.9 L438.3,248.5 L438.8,248.1 L439.3,247.8 L439.8,247.4 L440.3,247.1 L440.8,246.7 L441.3,246.4 L441.8,246.0 L442.3,245.7 L442.8,245.3 L443.3,245.0 L443.8,244.6 L444.3,244.3 L444.8,243.9 L445.3,243.6 L445.8,243.2 L446.3,242.9 L446.8,242.5 L447.3,242.2 L447.8,241.8 L448.3,241.5 L448.8,241.2 L449.3,240.8 L449.8,240.5 L450.3,240.1 L450.8,239.8 L451.3,239.5 L451.8,239.1 L452.3,238.8 L452.8,238.5 L453.3,238.1 L453.8,237.8 L454.3,237.5 L454.8,237.1 L455.3,236.8 L455.8,236.5 L456.3,236.2 L456.8,235.8 L457.3,235.5 L457.8,235.2 L458.3,234.9 L458.8,234.5 L459.3,234.2 L459.8,233.9 L460.3,233.6 L460.8,233.3 L461.3,232.9 L461.8,232.6 L462.3,232.3 L462.8,232.0 L463.3,231.7 L463.8,231.4 L464.3,231.1 L464.8,230.7 L465.3,230.4 L465.8,230.1 L466.3,229.8 L466.8,229.5 L467.3,229.2 L467.8,228.9 L468.3,228.6 L468.8,228.3 L469.3,228.0 L469.8,227.7 L470.3,227.4 L470.8,227.1 L471.3,226.8 L471.8,226.5 L472.3,226.2 L472.8,225.9 L473.3,225.6 L473.8,225.3 L474.3,225.0 L474.8,224.7 L475.3,224.5 L475.8,224.2 L476.3,223.9 L476.8,223.6 L477.3,223.3 L477.8,223.0 L478.3,222.7 L478.8,222.5 L479.3,222.2 L479.8,221.9 L480.3,221.6 L480.8,221.3 L481.3,221.1 L481.8,220.8 L482.3,220.5 L482.8,220.2 L483.3,220.0 L483.8,219.7 L484.3,219.4 L484.8,219.2 L485.3,218.9 L485.8,218.6 L486.3,218.4 L486.8,218.1 L487.3,217.8 L487.8,217.6 L488.3,217.3 L488.8,217.0 L489.3,216.8 L489.8,216.5 L490.3,216.3 L490.8,216.0 L491.3,215.8 L491.8,215.5 L492.3,215.2 L492.8,215.0 L493.3,214.7 L493.8,214.5 L494.3,214.2 L494.8,214.0 L495.3,213.8 L495.8,213.5 L496.3,213.3 L496.8,213.0 L497.3,212.8 L497.8,212.5 L498.3,212.3 L498.8,212.1 L499.3,211.8 L499.8,211.6 L500.3,211.3 L500.8,211.1 L501.3,210.9 L501.8,210.6 L502.3,210.4 L502.8,210.2 L503.3,210.0 L503.8,209.7 L504.3,209.5 L504.8,209.3 L505.3,209.0 L505.8,208.8 L506.3,208.6 L506.8,208.4 L507.3,208.2 L507.8,207.9 L508.3,207.7 L508.8,207.5 L509.3,207.3 L509.8,207.1 L510.3,206.9 L510.8,206.7 L511.3,206.4 L511.8,206.2 L512.3,206.0 L512.8,205.8 L513.3,205.6 L513.8,205.4 L514.3,205.2 L514.8,205.0 L515.3,204.8 L515.8,204.6 L516.3,204.4 L516.8,204.2 L517.3,204.0 L517.8,203.8 L518.3,203.6 L518.8,203.4 L519.3,203.2 L519.8,203.0 L520.3,202.8 L520.8,202.7 L521.3,202.5 L521.8,202.3 L522.3,202.1 L522.8,201.9 L523.3,201.7 L523.8,201.6 L524.3,201.4 L524.8,201.2 L525.3,201.0 L525.8,200.8 L526.3,200.7 L526.8,200.5 L527.3,200.3 L527.8,200.1 L528.3,200.0 L528.8,199.8 L529.3,199.6 L529.8,199.5 L530.3,199.3 L530.8,199.1 L531.3,199.0 L531.8,198.8 L532.3,198.6 L532.8,198.5 L533.3,198.3 L533.8,198.2 L534.3,198.0 L534.8,197.9 L535.3,197.7 L535.8,197.6 L536.3,197.4 L536.8,197.3 L537.3,197.1 L537.8,197.0 L538.3,196.8 L538.8,196.7 L539.3,196.5 L539.8,196.4 L540.3,196.2 L540.8,196.1 L541.3,196.0 L541.8,195.8 L542.3,195.7 L542.8,195.6 L543.3,195.4 L543.8,195.3 L544.3,195.2 L544.8,195.0 L545.3,194.9 L545.8,194.8 L546.3,194.6 L546.8,194.5 L547.3,194.4 L547.8,194.3 L548.3,194.2 L548.8,194.0 L549.3,193.9 L549.8,193.8 L550.3,193.7 L550.8,193.6 L551.3,193.5 L551.8,193.3 L552.3,193.2 L552.8,193.1 L553.3,193.0 L553.8,192.9 L554.3,192.8 L554.8,192.7 L555.3,192.6 L555.8,192.5 L556.3,192.4 L556.8,192.3 L557.3,192.2 L557.8,192.1 L558.3,192.0 L558.8,191.9 L559.3,191.8 L559.8,191.7 L560.3,191.6 L560.8,191.5 L561.3,191.4 L561.8,191.4 L562.3,191.3 L562.8,191.2 L563.3,191.1 L563.8,191.0 L564.3,190.9 L564.8,190.8 L565.3,190.8 L565.8,190.7 L566.3,190.6 L566.8,190.5 L567.3,190.5 L567.8,190.4 L568.3,190.3 L568.8,190.2 L569.3,190.2 L569.8,190.1 L570.3,190.0 L570.8,189.9 L571.3,189.9 L571.8,189.8 L572.3,189.7 L572.8,189.7 L573.3,189.6 L573.8,189.6 L574.3,189.5 L574.8,189.4 L575.3,189.4 L575.8,189.3 L576.3,189.2 L576.8,189.2 L577.3,189.1 L577.8,189.1 L578.3,189.0 L578.8,189.0 L579.3,188.9 L579.8,188.9 L580.3,188.8 L580.8,188.8 L581.3,188.7 L581.8,188.7 L582.3,188.6 L582.8,188.6 L583.3,188.5 L583.8,188.5 L584.3,188.4 L584.8,188.4 L585.3,188.4 L585.8,188.3 L586.3,188.3 L586.8,188.2 L587.3,188.2 L587.8,188.1 L588.3,188.1 L588.8,188.1 L598.9,187.3 L1310.0,187.3 L1320.0,189.4 L1320.5,189.5 L1321.0,189.5 L1321.5,189.6 L1322.0,189.6 L1322.5,189.7 L1323.0,189.7 L1323.5,189.8 L1324.0,189.8 L1324.5,189.8 L1325.0,189.9 L1325.5,189.9 L1326.0,190.0 L1326.5,190.0 L1327.0,190.1 L1327.5,190.1 L1328.0,190.2 L1328.5,190.2 L1329.0,190.3 L1329.5,190.3 L1330.0,190.4 L1330.5,190.4 L1331.0,190.5 L1331.5,190.6 L1332.0,190.6 L1332.5,190.7 L1333.0,190.7 L1333.5,190.8 L1334.0,190.8 L1334.5,190.9 L1335.0,191.0 L1335.5,191.0 L1336.0,191.1 L1336.5,191.1 L1337.0,191.2 L1337.5,191.2 L1338.0,191.3 L1338.5,191.4 L1339.0,191.4 L1339.5,191.5 L1340.0,191.6 L1340.5,191.6 L1341.0,191.7 L1341.5,191.8 L1342.0,191.8 L1342.5,191.9 L1343.0,192.0 L1343.5,192.0 L1344.0,192.1 L1344.5,192.2 L1345.0,192.2 L1345.5,192.3 L1346.0,192.4 L1346.5,192.4 L1347.0,192.5 L1347.5,192.6 L1348.0,192.7 L1348.5,192.7 L1349.0,192.8 L1349.5,192.9 L1350.0,193.0 L1350.5,193.0 L1351.0,193.1 L1351.5,193.2 L1352.0,193.3 L1352.5,193.3 L1353.0,193.4 L1353.5,193.5 L1354.0,193.6 L1354.5,193.7 L1355.0,193.7 L1355.5,193.8 L1356.0,193.9 L1356.5,194.0 L1357.0,194.1 L1357.5,194.2 L1358.0,194.2 L1358.5,194.3 L1359.0,194.4 L1359.5,194.5 L1360.0,194.6 L1360.5,194.7 L1361.0,194.8 L1361.5,194.9 L1362.0,195.0 L1362.5,195.0 L1363.0,195.1 L1363.5,195.2 L1364.0,195.3 L1364.5,195.4 L1365.0,195.5 L1365.5,195.6 L1366.0,195.7 L1366.5,195.8 L1367.0,195.9 L1367.5,196.0 L1368.0,196.1 L1368.5,196.2 L1369.0,196.3 L1369.5,196.4 L1370.0,196.5 L1370.5,196.6 L1371.0,196.7 L1371.5,196.8 L1372.0,196.9 L1372.5,197.0 L1373.0,197.1 L1373.5,197.2 L1374.0,197.3 L1374.5,197.5 L1375.0,197.6 L1375.5,197.7 L1376.0,197.8 L1376.5,197.9 L1377.0,198.0 L1377.5,198.1 L1378.0,198.2 L1378.5,198.4 L1379.0,198.5 L1379.5,198.6 L1380.0,198.7 L1380.5,198.8 L1381.0,198.9 L1381.5,199.1 L1382.0,199.2 L1382.5,199.3 L1383.0,199.4 L1383.5,199.5 L1384.0,199.7 L1384.5,199.8 L1385.0,199.9 L1385.5,200.0 L1386.0,200.2 L1386.5,200.3 L1387.0,200.4 L1387.5,200.6 L1388.0,200.7 L1388.5,200.8 L1389.0,200.9 L1389.5,201.1 L1390.0,201.2 L1390.5,201.3 L1391.0,201.5 L1391.5,201.6 L1392.0,201.7 L1392.5,201.9 L1393.0,202.0 L1393.5,202.2 L1394.0,202.3 L1394.5,202.4 L1395.0,202.6 L1395.5,202.7 L1396.0,202.9 L1396.5,203.0 L1397.0,203.2 L1397.5,203.3 L1398.0,203.4 L1398.5,203.6 L1399.0,203.7 L1399.5,203.9 L1400.0,204.0 L1400.5,204.2 L1401.0,204.3 L1401.5,204.5 L1402.0,204.6 L1402.5,204.8 L1403.0,205.0 L1403.5,205.1 L1404.0,205.3 L1404.5,205.4 L1405.0,205.6 L1405.5,205.7 L1406.0,205.9 L1406.5,206.1 L1407.0,206.2 L1407.5,206.4 L1408.0,206.5 L1408.5,206.7 L1409.0,206.9 L1409.5,207.0 L1410.0,207.2 L1410.5,207.4 L1411.0,207.5 L1411.5,207.7 L1412.0,207.9 L1412.5,208.1 L1413.0,208.2 L1413.5,208.4 L1414.0,208.6 L1414.5,208.8 L1415.0,208.9 L1415.5,209.1 L1416.0,209.3 L1416.5,209.5 L1417.0,209.7 L1417.5,209.8 L1418.0,210.0 L1418.5,210.2 L1419.0,210.4 L1419.5,210.6 L1420.0,210.8 L1420.5,210.9 L1421.0,211.1 L1421.5,211.3 L1422.0,211.5 L1422.5,211.7 L1423.0,211.9 L1423.5,212.1 L1424.0,212.3 L1424.5,212.5 L1425.0,212.7 L1425.5,212.9 L1426.0,213.1 L1426.5,213.3 L1427.0,213.5 L1427.5,213.7 L1428.0,213.9 L1428.5,214.1 L1429.0,214.3 L1429.5,214.5 L1430.0,214.7 L1430.5,214.9 L1431.0,215.1 L1431.5,215.3 L1432.0,215.5 L1432.5,215.7 L1433.0,215.9 L1433.5,216.1 L1434.0,216.4 L1434.5,216.6 L1435.0,216.8 L1435.5,217.0 L1436.0,217.2 L1436.5,217.4 L1437.0,217.7 L1437.5,217.9 L1438.0,218.1 L1438.5,218.3 L1439.0,218.5 L1439.5,218.8 L1440.0,219.0 L1440.5,219.2 L1441.0,219.5 L1441.5,219.7 L1442.0,219.9 L1442.5,220.1 L1443.0,220.4 L1443.5,220.6 L1444.0,220.8 L1444.5,221.1 L1445.0,221.3 L1445.5,221.6 L1446.0,221.8 L1446.5,222.0 L1447.0,222.3 L1447.5,222.5 L1448.0,222.8 L1448.5,223.0 L1449.0,223.3 L1449.5,223.5 L1450.0,223.7 L1450.5,224.0 L1451.0,224.2 L1451.5,224.5 L1452.0,224.7 L1452.5,225.0 L1453.0,225.3 L1453.5,225.5 L1454.0,225.8 L1454.5,226.0 L1455.0,226.3 L1455.5,226.5 L1456.0,226.8 L1456.5,227.1 L1457.0,227.3 L1457.5,227.6 L1458.0,227.9 L1458.5,228.1 L1459.0,228.4 L1459.5,228.7 L1460.0,228.9 L1460.5,229.2 L1461.0,229.5 L1461.5,229.7 L1462.0,230.0 L1462.5,230.3 L1463.0,230.6 L1463.5,230.9 L1464.0,231.1 L1464.5,231.4 L1465.0,231.7 L1465.5,232.0 L1466.0,232.3 L1466.5,232.5 L1467.0,232.8 L1467.5,233.1 L1468.0,233.4 L1468.5,233.7 L1469.0,234.0 L1469.5,234.3 L1470.0,234.6 L1470.5,234.9 L1471.0,235.2 L1471.5,235.5 L1472.0,235.8 L1472.5,236.1 L1473.0,236.4 L1473.5,236.7 L1474.0,237.0 L1474.5,237.3 L1475.0,237.6 L1475.5,237.9 L1476.0,238.2 L1476.5,238.5 L1477.0,238.8 L1477.5,239.1 L1478.0,239.4 L1478.5,239.8 L1479.0,240.1 L1479.5,240.4 L1480.0,240.7 L1480.5,241.0 L1481.0,241.3 L1481.5,241.7 L1482.0,242.0 L1482.5,242.3 L1483.0,242.6 L1483.5,243.0 L1484.0,243.3 L1484.5,243.6 L1485.0,244.0 L1485.5,244.3 L1486.0,244.6 L1486.5,245.0 L1487.0,245.3 L1487.5,245.6 L1488.0,246.0 L1488.5,246.3 L1489.0,246.6 L1489.5,247.0 L1490.0,247.3 L1490.5,247.7 L1491.0,248.0 L1491.5,248.4 L1492.0,248.7 L1492.5,249.1 L1493.0,249.4 L1493.5,249.8 L1494.0,250.1 L1494.5,250.5 L1495.0,250.8 L1495.5,251.2 L1496.0,251.5 L1496.5,251.9 L1497.0,252.3 L1497.5,252.6 L1498.0,253.0 L1498.5,253.4 L1499.0,253.7 L1499.5,254.1 L1500.0,254.5 L1500.5,254.8 L1501.0,255.2 L1501.5,255.6 L1502.0,256.0 L1502.5,256.3 L1503.0,256.7 L1503.5,257.1 L1504.0,257.5 L1504.5,257.9 L1505.0,258.2 L1505.5,258.6 L1506.0,259.0 L1506.5,259.4 L1507.0,259.8 L1507.5,260.2 L1508.0,260.6 L1508.5,261.0 L1509.0,261.4 L1509.5,261.7 L1510.0,262.1 L1510.5,262.5 L1511.0,262.9 L1511.5,263.3 L1512.0,263.7 L1512.5,264.1 L1513.0,264.6 L1513.5,265.0 L1514.0,265.4 L1514.5,265.8 L1515.0,266.2 L1515.5,266.6 L1516.0,267.0 L1516.5,267.4 L1517.0,267.8 L1517.5,268.3 L1518.0,268.7 L1518.5,269.1" fill="none" stroke="#0000ff" stroke-width="2.2" stroke-dasharray="13 4.5 3 4.5" stroke-linejoin="round"/>
<path d="M263.3,448.2 L263.8,447.3 L264.3,446.4 L264.8,445.5 L265.3,444.6 L265.8,443.7 L266.3,442.9 L266.8,442.0 L267.3,441.1 L267.8,440.2 L268.3,439.4 L268.8,438.5 L269.3,437.6 L269.8,436.8 L270.3,435.9 L270.8,435.1 L271.3,434.2 L271.8,433.4 L272.3,432.5 L272.8,431.7 L273.3,430.9 L273.8,430.0 L274.3,429.2 L274.8,428.4 L275.3,427.5 L275.8,426.7 L276.3,425.9 L276.8,425.1 L277.3,424.3 L277.8,423.5 L278.3,422.7 L278.8,421.9 L279.3,421.1 L279.8,420.3 L280.3,419.5 L280.8,418.7 L281.3,417.9 L281.8,417.1 L282.3,416.3 L282.8,415.5 L283.3,414.7 L283.8,414.0 L284.3,413.2 L284.8,412.4 L285.3,411.6 L285.8,410.9 L286.3,410.1 L286.8,409.3 L287.3,408.6 L287.8,407.8 L288.3,407.1 L288.8,406.3 L289.3,405.6 L289.8,404.8 L290.3,404.1 L290.8,403.3 L291.3,402.6 L291.8,401.8 L292.3,401.1 L292.8,400.4 L293.3,399.6 L293.8,398.9 L294.3,398.2 L294.8,397.4 L295.3,396.7 L295.8,396.0 L296.3,395.2 L296.8,394.5 L297.3,393.8 L297.8,393.1 L298.3,392.4 L298.8,391.6 L299.3,390.9 L299.8,390.2 L300.3,389.5 L300.8,388.8 L301.3,388.1 L301.8,387.4 L302.3,386.7 L302.8,386.0 L303.3,385.3 L303.8,384.6 L304.3,383.9 L304.8,383.2 L305.3,382.5 L305.8,381.8 L306.3,381.1 L306.8,380.4 L307.3,379.7 L307.8,379.0 L308.3,378.3 L308.8,377.6 L309.3,376.9 L309.8,376.2 L310.3,375.6 L310.8,374.9 L311.3,374.2 L311.8,373.5 L312.3,372.8 L312.8,372.2 L313.3,371.5 L313.8,370.8 L314.3,370.1 L314.8,369.5 L315.3,368.8 L315.8,368.1 L316.3,367.5 L316.8,366.8 L317.3,366.1 L317.8,365.5 L318.3,364.8 L318.8,364.2 L319.3,363.5 L319.8,362.8 L320.3,362.2 L320.8,361.5 L321.3,360.9 L321.8,360.2 L322.3,359.6 L322.8,358.9 L323.3,358.3 L323.8,357.6 L324.3,357.0 L324.8,356.4 L325.3,355.7 L325.8,355.1 L326.3,354.4 L326.8,353.8 L327.3,353.2 L327.8,352.5 L328.3,351.9 L328.8,351.3 L329.3,350.6 L329.8,350.0 L330.3,349.4 L330.8,348.7 L331.3,348.1 L331.8,347.5 L332.3,346.9 L332.8,346.3 L333.3,345.6 L333.8,345.0 L334.3,344.4 L334.8,343.8 L335.3,343.2 L335.8,342.6 L336.3,342.0 L336.8,341.3 L337.3,340.7 L337.8,340.1 L338.3,339.5 L338.8,338.9 L339.3,338.3 L339.8,337.7 L340.3,337.1 L340.8,336.5 L341.3,335.9 L341.8,335.3 L342.3,334.7 L342.8,334.1 L343.3,333.5 L343.8,333.0 L344.3,332.4 L344.8,331.8 L345.3,331.2 L345.8,330.6 L346.3,330.0 L346.8,329.4 L347.3,328.9 L347.8,328.3 L348.3,327.7 L348.8,327.1 L349.3,326.5 L349.8,326.0 L350.3,325.4 L350.8,324.8 L351.3,324.3 L351.8,323.7 L352.3,323.1 L352.8,322.6 L353.3,322.0 L353.8,321.4 L354.3,320.9 L354.8,320.3 L355.3,319.7 L355.8,319.2 L356.3,318.6 L356.8,318.1 L357.3,317.5 L357.8,317.0 L358.3,316.4 L358.8,315.9 L359.3,315.3 L359.8,314.8 L360.3,314.2 L360.8,313.7 L361.3,313.1 L361.8,312.6 L362.3,312.1 L362.8,311.5 L363.3,311.0 L363.8,310.4 L364.3,309.9 L364.8,309.4 L365.3,308.8 L365.8,308.3 L366.3,307.8 L366.8,307.3 L367.3,306.7 L367.8,306.2 L368.3,305.7 L368.8,305.2 L369.3,304.6 L369.8,304.1 L370.3,303.6 L370.8,303.1 L371.3,302.6 L371.8,302.0 L372.3,301.5 L372.8,301.0 L373.3,300.5 L373.8,300.0 L374.3,299.5 L374.8,299.0 L375.3,298.5 L375.8,298.0 L376.3,297.5 L376.8,297.0 L377.3,296.5 L377.8,296.0 L378.3,295.5 L378.8,295.0 L379.3,294.5 L379.8,294.0 L380.3,293.5 L380.8,293.0 L381.3,292.5 L381.8,292.0 L382.3,291.5 L382.8,291.0 L383.3,290.6 L383.8,290.1 L384.3,289.6 L384.8,289.1 L385.3,288.6 L385.8,288.2 L386.3,287.7 L386.8,287.2 L387.3,286.7 L387.8,286.2 L388.3,285.8 L388.8,285.3 L389.3,284.8 L389.8,284.4 L390.3,283.9 L390.8,283.4 L391.3,283.0 L391.8,282.5 L392.3,282.0 L392.8,281.6 L393.3,281.1 L393.8,280.7 L394.3,280.2 L394.8,279.8 L395.3,279.3 L395.8,278.9 L396.3,278.4 L396.8,277.9 L397.3,277.5 L397.8,277.1 L398.3,276.6 L398.8,276.2 L399.3,275.7 L399.8,275.3 L400.3,274.8 L400.8,274.4 L401.3,274.0 L401.8,273.5 L402.3,273.1 L402.8,272.6 L403.3,272.2 L403.8,271.8 L404.3,271.3 L404.8,270.9 L405.3,270.5 L405.8,270.1 L406.3,269.6 L406.8,269.2 L407.3,268.8 L407.8,268.4 L408.3,267.9 L408.8,267.5 L409.3,267.1 L409.8,266.7 L410.3,266.3 L410.8,265.9 L411.3,265.4 L411.8,265.0 L412.3,264.6 L412.8,264.2 L413.3,263.8 L413.8,263.4 L414.3,263.0 L414.8,262.6 L415.3,262.2 L415.8,261.8 L416.3,261.4 L416.8,261.0 L417.3,260.6 L417.8,260.2 L418.3,259.8 L418.8,259.4 L419.3,259.0 L419.8,258.6 L420.3,258.2 L420.8,257.8 L421.3,257.4 L421.8,257.1 L422.3,256.7 L422.8,256.3 L423.3,255.9 L423.8,255.5 L424.3,255.1 L424.8,254.8 L425.3,254.4 L425.8,254.0 L426.3,253.6 L426.8,253.3 L427.3,252.9 L427.8,252.5 L428.3,252.1 L428.8,251.8 L429.3,251.4 L429.8,251.0 L430.3,250.7 L430.8,250.3 L431.3,249.9 L431.8,249.6 L432.3,249.2 L432.8,248.9 L433.3,248.5 L433.8,248.1 L434.3,247.8 L434.8,247.4 L435.3,247.1 L435.8,246.7 L436.3,246.4 L436.8,246.0 L437.3,245.7 L437.8,245.3 L438.3,245.0 L438.8,244.6 L439.3,244.3 L439.8,243.9 L440.3,243.6 L440.8,243.3 L441.3,242.9 L441.8,242.6 L442.3,242.2 L442.8,241.9 L443.3,241.6 L443.8,241.2 L444.3,240.9 L444.8,240.6 L445.3,240.2 L445.8,239.9 L446.3,239.6 L446.8,239.3 L447.3,238.9 L447.8,238.6 L448.3,238.3 L448.8,238.0 L449.3,237.7 L449.8,237.3 L450.3,237.0 L450.8,236.7 L451.3,236.4 L451.8,236.1 L452.3,235.8 L452.8,235.4 L453.3,235.1 L453.8,234.8 L454.3,234.5 L454.8,234.2 L455.3,233.9 L455.8,233.6 L456.3,233.3 L456.8,233.0 L457.3,232.7 L457.8,232.4 L458.3,232.1 L458.8,231.8 L459.3,231.5 L459.8,231.2 L460.3,230.9 L460.8,230.6 L461.3,230.3 L461.8,230.0 L462.3,229.8 L462.8,229.5 L463.3,229.2 L463.8,228.9 L464.3,228.6 L464.8,228.3 L465.3,228.0 L465.8,227.8 L466.3,227.5 L466.8,227.2 L467.3,226.9 L467.8,226.7 L468.3,226.4 L468.8,226.1 L469.3,225.8 L469.8,225.6 L470.3,225.3 L470.8,225.0 L471.3,224.8 L471.8,224.5 L472.3,224.2 L472.8,224.0 L473.3,223.7 L473.8,223.4 L474.3,223.2 L474.8,222.9 L475.3,222.6 L475.8,222.4 L476.3,222.1 L476.8,221.9 L477.3,221.6 L477.8,221.4 L478.3,221.1 L478.8,220.9 L479.3,220.6 L479.8,220.4 L480.3,220.1 L480.8,219.9 L481.3,219.6 L481.8,219.4 L482.3,219.1 L482.8,218.9 L483.3,218.7 L483.8,218.4 L484.3,218.2 L484.8,218.0 L485.3,217.7 L485.8,217.5 L486.3,217.2 L486.8,217.0 L487.3,216.8 L487.8,216.6 L488.3,216.3 L488.8,216.1 L489.3,215.9 L489.8,215.6 L490.3,215.4 L490.8,215.2 L491.3,215.0 L491.8,214.8 L492.3,214.5 L492.8,214.3 L493.3,214.1 L493.8,213.9 L494.3,213.7 L494.8,213.4 L495.3,213.2 L495.8,213.0 L496.3,212.8 L496.8,212.6 L497.3,212.4 L497.8,212.2 L498.3,212.0 L498.8,211.8 L499.3,211.6 L499.8,211.4 L500.3,211.1 L500.8,210.9 L501.3,210.7 L501.8,210.5 L502.3,210.3 L502.8,210.1 L503.3,209.9 L503.8,209.8 L504.3,209.6 L504.8,209.4 L505.3,209.2 L505.8,209.0 L506.3,208.8 L506.8,208.6 L507.3,208.4 L507.8,208.2 L508.3,208.0 L508.8,207.8 L509.3,207.7 L509.8,207.5 L510.3,207.3 L510.8,207.1 L511.3,206.9 L511.8,206.8 L512.3,206.6 L512.8,206.4 L513.3,206.2 L513.8,206.0 L514.3,205.9 L514.8,205.7 L515.3,205.5 L515.8,205.3 L516.3,205.2 L516.8,205.0 L517.3,204.8 L517.8,204.7 L518.3,204.5 L518.8,204.3 L519.3,204.2 L519.8,204.0 L520.3,203.8 L520.8,203.7 L521.3,203.5 L521.8,203.4 L522.3,203.2 L522.8,203.0 L523.3,202.9 L523.8,202.7 L524.3,202.6 L524.8,202.4 L525.3,202.3 L525.8,202.1 L526.3,202.0 L526.8,201.8 L527.3,201.6 L527.8,201.5 L528.3,201.4 L528.8,201.2 L529.3,201.1 L529.8,200.9 L530.3,200.8 L530.8,200.6 L531.3,200.5 L531.8,200.3 L532.3,200.2 L532.8,200.1 L533.3,199.9 L533.8,199.8 L534.3,199.6 L534.8,199.5 L535.3,199.4 L535.8,199.2 L536.3,199.1 L536.8,199.0 L537.3,198.8 L537.8,198.7 L538.3,198.6 L538.8,198.4 L539.3,198.3 L539.8,198.2 L540.3,198.1 L540.8,197.9 L541.3,197.8 L541.8,197.7 L542.3,197.6 L542.8,197.4 L543.3,197.3 L543.8,197.2 L544.3,197.1 L544.8,196.9 L545.3,196.8 L545.8,196.7 L546.3,196.6 L546.8,196.5 L547.3,196.4 L547.8,196.2 L548.3,196.1 L548.8,196.0 L549.3,195.9 L549.8,195.8 L550.3,195.7 L550.8,195.6 L551.3,195.5 L551.8,195.4 L552.3,195.2 L552.8,195.1 L553.3,195.0 L553.8,194.9 L554.3,194.8 L554.8,194.7 L555.3,194.6 L555.8,194.5 L556.3,194.4 L556.8,194.3 L557.3,194.2 L557.8,194.1 L558.3,194.0 L558.8,193.9 L559.3,193.8 L559.8,193.7 L560.3,193.6 L560.8,193.5 L561.3,193.4 L561.8,193.4 L562.3,193.3 L562.8,193.2 L563.3,193.1 L563.8,193.0 L564.3,192.9 L564.8,192.8 L565.3,192.7 L565.8,192.6 L566.3,192.6 L566.8,192.5 L567.3,192.4 L567.8,192.3 L568.3,192.2 L568.8,192.1 L569.3,192.1 L569.8,192.0 L570.3,191.9 L570.8,191.8 L571.3,191.7 L571.8,191.7 L572.3,191.6 L572.8,191.5 L573.3,191.4 L573.8,191.3 L574.3,191.3 L574.8,191.2 L575.3,191.1 L575.8,191.1 L576.3,191.0 L576.8,190.9 L577.3,190.8 L577.8,190.8 L578.3,190.7 L578.8,190.6 L579.3,190.6 L579.8,190.5 L580.3,190.4 L580.8,190.4 L581.3,190.3 L581.8,190.2 L582.3,190.2 L582.8,190.1 L583.3,190.0 L583.8,190.0 L584.3,189.9 L584.8,189.9 L585.3,189.8 L585.8,189.7 L586.3,189.7 L586.8,189.6 L587.3,189.6 L587.8,189.5 L588.3,189.5 L588.8,189.4 L598.9,187.3 L1310.0,187.3 L1320.0,190.0 L1320.5,190.0 L1321.0,190.1 L1321.5,190.1 L1322.0,190.2 L1322.5,190.2 L1323.0,190.3 L1323.5,190.3 L1324.0,190.4 L1324.5,190.4 L1325.0,190.5 L1325.5,190.6 L1326.0,190.6 L1326.5,190.7 L1327.0,190.7 L1327.5,190.8 L1328.0,190.9 L1328.5,190.9 L1329.0,191.0 L1329.5,191.0 L1330.0,191.1 L1330.5,191.2 L1331.0,191.2 L1331.5,191.3 L1332.0,191.3 L1332.5,191.4 L1333.0,191.5 L1333.5,191.5 L1334.0,191.6 L1334.5,191.7 L1335.0,191.7 L1335.5,191.8 L1336.0,191.9 L1336.5,191.9 L1337.0,192.0 L1337.5,192.1 L1338.0,192.1 L1338.5,192.2 L1339.0,192.3 L1339.5,192.3 L1340.0,192.4 L1340.5,192.5 L1341.0,192.5 L1341.5,192.6 L1342.0,192.7 L1342.5,192.7 L1343.0,192.8 L1343.5,192.9 L1344.0,193.0 L1344.5,193.0 L1345.0,193.1 L1345.5,193.2 L1346.0,193.2 L1346.5,193.3 L1347.0,193.4 L1347.5,193.5 L1348.0,193.5 L1348.5,193.6 L1349.0,193.7 L1349.5,193.8 L1350.0,193.9 L1350.5,193.9 L1351.0,194.0 L1351.5,194.1 L1352.0,194.2 L1352.5,194.2 L1353.0,194.3 L1353.5,194.4 L1354.0,194.5 L1354.5,194.6 L1355.0,194.6 L1355.5,194.7 L1356.0,194.8 L1356.5,194.9 L1357.0,195.0 L1357.5,195.1 L1358.0,195.1 L1358.5,195.2 L1359.0,195.3 L1359.5,195.4 L1360.0,195.5 L1360.5,195.6 L1361.0,195.7 L1361.5,195.7 L1362.0,195.8 L1362.5,195.9 L1363.0,196.0 L1363.5,196.1 L1364.0,196.2 L1364.5,196.3 L1365.0,196.4 L1365.5,196.4 L1366.0,196.5 L1366.5,196.6 L1367.0,196.7 L1367.5,196.8 L1368.0,196.9 L1368.5,197.0 L1369.0,197.1 L1369.5,197.2 L1370.0,197.3 L1370.5,197.4 L1371.0,197.5 L1371.5,197.6 L1372.0,197.7 L1372.5,197.7 L1373.0,197.8 L1373.5,197.9 L1374.0,198.0 L1374.5,198.1 L1375.0,198.2 L1375.5,198.3 L1376.0,198.4 L1376.5,198.5 L1377.0,198.6 L1377.5,198.7 L1378.0,198.8 L1378.5,198.9 L1379.0,199.0 L1379.5,199.1 L1380.0,199.2 L1380.5,199.3 L1381.0,199.4 L1381.5,199.5 L1382.0,199.6 L1382.5,199.7 L1383.0,199.9 L1383.5,200.0 L1384.0,200.1 L1384.5,200.2 L1385.0,200.3 L1385.5,200.4 L1386.0,200.5 L1386.5,200.6 L1387.0,200.7 L1387.5,200.8 L1388.0,200.9 L1388.5,201.0 L1389.0,201.1 L1389.5,201.2 L1390.0,201.4 L1390.5,201.5 L1391.0,201.6 L1391.5,201.7 L1392.0,201.8 L1392.5,201.9 L1393.0,202.0 L1393.5,202.1 L1394.0,202.3 L1394.5,202.4 L1395.0,202.5 L1395.5,202.6 L1396.0,202.7 L1396.5,202.9 L1397.0,203.0 L1397.5,203.1 L1398.0,203.2 L1398.5,203.3 L1399.0,203.5 L1399.5,203.6 L1400.0,203.7 L1400.5,203.8 L1401.0,204.0 L1401.5,204.1 L1402.0,204.2 L1402.5,204.4 L1403.0,204.5 L1403.5,204.6 L1404.0,204.8 L1404.5,204.9 L1405.0,205.0 L1405.5,205.2 L1406.0,205.3 L1406.5,205.4 L1407.0,205.6 L1407.5,205.7 L1408.0,205.9 L1408.5,206.0 L1409.0,206.2 L1409.5,206.3 L1410.0,206.5 L1410.5,206.6 L1411.0,206.8 L1411.5,206.9 L1412.0,207.1 L1412.5,207.2 L1413.0,207.4 L1413.5,207.5 L1414.0,207.7 L1414.5,207.9 L1415.0,208.0 L1415.5,208.2 L1416.0,208.3 L1416.5,208.5 L1417.0,208.7 L1417.5,208.9 L1418.0,209.0 L1418.5,209.2 L1419.0,209.4 L1419.5,209.6 L1420.0,209.7 L1420.5,209.9 L1421.0,210.1 L1421.5,210.3 L1422.0,210.5 L1422.5,210.7 L1423.0,210.8 L1423.5,211.0 L1424.0,211.2 L1424.5,211.4 L1425.0,211.6 L1425.5,211.8 L1426.0,212.0 L1426.5,212.2 L1427.0,212.4 L1427.5,212.6 L1428.0,212.8 L1428.5,213.1 L1429.0,213.3 L1429.5,213.5 L1430.0,213.7 L1430.5,213.9 L1431.0,214.1 L1431.5,214.4 L1432.0,214.6 L1432.5,214.8 L1433.0,215.0 L1433.5,215.3 L1434.0,215.5 L1434.5,215.8 L1435.0,216.0 L1435.5,216.2 L1436.0,216.5 L1436.5,216.7 L1437.0,217.0 L1437.5,217.2 L1438.0,217.5 L1438.5,217.7 L1439.0,218.0 L1439.5,218.3 L1440.0,218.5 L1440.5,218.8 L1441.0,219.0 L1441.5,219.3 L1442.0,219.6 L1442.5,219.9 L1443.0,220.1 L1443.5,220.4 L1444.0,220.7 L1444.5,221.0 L1445.0,221.3 L1445.5,221.6 L1446.0,221.9 L1446.5,222.2 L1447.0,222.5 L1447.5,222.8 L1448.0,223.1 L1448.5,223.4 L1449.0,223.7 L1449.5,224.0 L1450.0,224.3 L1450.5,224.6 L1451.0,225.0 L1451.5,225.3 L1452.0,225.6 L1452.5,226.0 L1453.0,226.3 L1453.5,226.6 L1454.0,227.0 L1454.5,227.3 L1455.0,227.7 L1455.5,228.0 L1456.0,228.4 L1456.5,228.7 L1457.0,229.1 L1457.5,229.4 L1458.0,229.8 L1458.5,230.2 L1459.0,230.5 L1459.5,230.9 L1460.0,231.3 L1460.5,231.7 L1461.0,232.1 L1461.5,232.4 L1462.0,232.8 L1462.5,233.2 L1463.0,233.6 L1463.5,234.0 L1464.0,234.4 L1464.5,234.8 L1465.0,235.3 L1465.5,235.7 L1466.0,236.1 L1466.5,236.5 L1467.0,236.9 L1467.5,237.4 L1468.0,237.8 L1468.5,238.2 L1469.0,238.7 L1469.5,239.1 L1470.0,239.6 L1470.5,240.0 L1471.0,240.5 L1471.5,240.9 L1472.0,241.4 L1472.5,241.9 L1473.0,242.3 L1473.5,242.8 L1474.0,243.3 L1474.5,243.8 L1475.0,244.2 L1475.5,244.7 L1476.0,245.2 L1476.5,245.7 L1477.0,246.2 L1477.5,246.7 L1478.0,247.2 L1478.5,247.7 L1479.0,248.3 L1479.5,248.8 L1480.0,249.3 L1480.5,249.8 L1481.0,250.4 L1481.5,250.9 L1482.0,251.4 L1482.5,252.0 L1483.0,252.5 L1483.5,253.1 L1484.0,253.6 L1484.5,254.2 L1485.0,254.8 L1485.5,255.3 L1486.0,255.9 L1486.5,256.5 L1487.0,257.1 L1487.5,257.6 L1488.0,258.2 L1488.5,258.8 L1489.0,259.4 L1489.5,260.0 L1490.0,260.6 L1490.5,261.3 L1491.0,261.9 L1491.5,262.5 L1492.0,263.1 L1492.5,263.7 L1493.0,264.4 L1493.5,265.0 L1494.0,265.7 L1494.5,266.3 L1495.0,267.0 L1495.5,267.6 L1496.0,268.3 L1496.5,269.0 L1497.0,269.6 L1497.5,270.3 L1498.0,271.0 L1498.5,271.7 L1499.0,272.4 L1499.5,273.1 L1500.0,273.8 L1500.5,274.5 L1501.0,275.2 L1501.5,275.9 L1502.0,276.6 L1502.5,277.3 L1503.0,278.1 L1503.5,278.8 L1504.0,279.5 L1504.5,280.3 L1505.0,281.0 L1505.5,281.8 L1506.0,282.5 L1506.5,283.3 L1507.0,284.1 L1507.5,284.8 L1508.0,285.6 L1508.5,286.4 L1509.0,287.2 L1509.5,288.0 L1510.0,288.8 L1510.5,289.6 L1511.0,290.4 L1511.5,291.2 L1512.0,292.0 L1512.5,292.9 L1513.0,293.7 L1513.5,294.5 L1514.0,295.4 L1514.5,296.2 L1515.0,297.1 L1515.5,297.9 L1516.0,298.8 L1516.5,299.7 L1517.0,300.5 L1517.5,301.4 L1518.0,302.3 L1518.5,303.2" fill="none" stroke="#00ffff" stroke-width="2.2" stroke-dasharray="12 4 3 4 3 4" stroke-linejoin="round"/>
<path d="M263.3,668.8 L263.8,667.4 L264.3,665.9 L264.8,664.5 L265.3,663.0 L265.8,661.5 L266.3,660.1 L266.8,658.6 L267.3,657.1 L267.8,655.6 L268.3,654.1 L268.8,652.6 L269.3,651.1 L269.8,649.6 L270.3,648.1 L270.8,646.6 L271.3,645.1 L271.8,643.5 L272.3,642.0 L272.8,640.5 L273.3,638.9 L273.8,637.4 L274.3,635.9 L274.8,634.3 L275.3,632.8 L275.8,631.2 L276.3,629.7 L276.8,628.1 L277.3,626.6 L277.8,625.0 L278.3,623.5 L278.8,622.0 L279.3,620.4 L279.8,618.9 L280.3,617.3 L280.8,615.8 L281.3,614.3 L281.8,612.7 L282.3,611.2 L282.8,609.7 L283.3,608.2 L283.8,606.6 L284.3,605.1 L284.8,603.6 L285.3,602.1 L285.8,600.6 L286.3,599.1 L286.8,597.6 L287.3,596.2 L287.8,594.7 L288.3,593.2 L288.8,591.7 L289.3,590.3 L289.8,588.8 L290.3,587.3 L290.8,585.9 L291.3,584.4 L291.8,583.0 L292.3,581.5 L292.8,580.1 L293.3,578.6 L293.8,577.2 L294.3,575.7 L294.8,574.3 L295.3,572.9 L295.8,571.4 L296.3,570.0 L296.8,568.6 L297.3,567.1 L297.8,565.7 L298.3,564.3 L298.8,562.9 L299.3,561.4 L299.8,560.0 L300.3,558.6 L300.8,557.2 L301.3,555.8 L301.8,554.3 L302.3,552.9 L302.8,551.5 L303.3,550.1 L303.8,548.7 L304.3,547.3 L304.8,545.8 L305.3,544.4 L305.8,543.0 L306.3,541.6 L306.8,540.2 L307.3,538.7 L307.8,537.3 L308.3,535.9 L308.8,534.5 L309.3,533.1 L309.8,531.6 L310.3,530.2 L310.8,528.8 L311.3,527.4 L311.8,525.9 L312.3,524.5 L312.8,523.1 L313.3,521.6 L313.8,520.2 L314.3,518.8 L314.8,517.3 L315.3,515.9 L315.8,514.5 L316.3,513.1 L316.8,511.6 L317.3,510.2 L317.8,508.8 L318.3,507.3 L318.8,505.9 L319.3,504.5 L319.8,503.0 L320.3,501.6 L320.8,500.2 L321.3,498.7 L321.8,497.3 L322.3,495.9 L322.8,494.5 L323.3,493.0 L323.8,491.6 L324.3,490.2 L324.8,488.8 L325.3,487.4 L325.8,485.9 L326.3,484.5 L326.8,483.1 L327.3,481.7 L327.8,480.3 L328.3,478.9 L328.8,477.5 L329.3,476.1 L329.8,474.7 L330.3,473.2 L330.8,471.8 L331.3,470.4 L331.8,469.1 L332.3,467.7 L332.8,466.3 L333.3,464.9 L333.8,463.5 L334.3,462.1 L334.8,460.7 L335.3,459.4 L335.8,458.0 L336.3,456.6 L336.8,455.2 L337.3,453.9 L337.8,452.5 L338.3,451.2 L338.8,449.8 L339.3,448.4 L339.8,447.1 L340.3,445.8 L340.8,444.4 L341.3,443.1 L341.8,441.7 L342.3,440.4 L342.8,439.1 L343.3,437.8 L343.8,436.4 L344.3,435.1 L344.8,433.8 L345.3,432.5 L345.8,431.2 L346.3,429.9 L346.8,428.6 L347.3,427.4 L347.8,426.1 L348.3,424.8 L348.8,423.5 L349.3,422.3 L349.8,421.0 L350.3,419.7 L350.8,418.5 L351.3,417.2 L351.8,416.0 L352.3,414.8 L352.8,413.5 L353.3,412.3 L353.8,411.1 L354.3,409.9 L354.8,408.7 L355.3,407.5 L355.8,406.3 L356.3,405.1 L356.8,403.9 L357.3,402.7 L357.8,401.5 L358.3,400.3 L358.8,399.1 L359.3,398.0 L359.8,396.8 L360.3,395.6 L360.8,394.5 L361.3,393.3 L361.8,392.2 L362.3,391.0 L362.8,389.9 L363.3,388.8 L363.8,387.7 L364.3,386.5 L364.8,385.4 L365.3,384.3 L365.8,383.2 L366.3,382.1 L366.8,381.0 L367.3,379.9 L367.8,378.8 L368.3,377.7 L368.8,376.6 L369.3,375.5 L369.8,374.5 L370.3,373.4 L370.8,372.3 L371.3,371.3 L371.8,370.2 L372.3,369.2 L372.8,368.1 L373.3,367.1 L373.8,366.0 L374.3,365.0 L374.8,363.9 L375.3,362.9 L375.8,361.9 L376.3,360.9 L376.8,359.9 L377.3,358.8 L377.8,357.8 L378.3,356.8 L378.8,355.8 L379.3,354.8 L379.8,353.8 L380.3,352.9 L380.8,351.9 L381.3,350.9 L381.8,349.9 L382.3,348.9 L382.8,348.0 L383.3,347.0 L383.8,346.1 L384.3,345.1 L384.8,344.1 L385.3,343.2 L385.8,342.3 L386.3,341.3 L386.8,340.4 L387.3,339.4 L387.8,338.5 L388.3,337.6 L388.8,336.7 L389.3,335.7 L389.8,334.8 L390.3,333.9 L390.8,333.0 L391.3,332.1 L391.8,331.2 L392.3,330.3 L392.8,329.4 L393.3,328.5 L393.8,327.6 L394.3,326.8 L394.8,325.9 L395.3,325.0 L395.8,324.1 L396.3,323.3 L396.8,322.4 L397.3,321.6 L397.8,320.7 L398.3,319.8 L398.8,319.0 L399.3,318.2 L399.8,317.3 L400.3,316.5 L400.8,315.6 L401.3,314.8 L401.8,314.0 L402.3,313.2 L402.8,312.3 L403.3,311.5 L403.8,310.7 L404.3,309.9 L404.8,309.1 L405.3,308.3 L405.8,307.5 L406.3,306.7 L406.8,305.9 L407.3,305.1 L407.8,304.3 L408.3,303.6 L408.8,302.8 L409.3,302.0 L409.8,301.2 L410.3,300.5 L410.8,299.7 L411.3,299.0 L411.8,298.2 L412.3,297.4 L412.8,296.7 L413.3,296.0 L413.8,295.2 L414.3,294.5 L414.8,293.7 L415.3,293.0 L415.8,292.3 L416.3,291.5 L416.8,290.8 L417.3,290.1 L417.8,289.4 L418.3,288.7 L418.8,288.0 L419.3,287.3 L419.8,286.6 L420.3,285.9 L420.8,285.2 L421.3,284.5 L421.8,283.8 L422.3,283.1 L422.8,282.4 L423.3,281.7 L423.8,281.1 L424.3,280.4 L424.8,279.7 L425.3,279.1 L425.8,278.4 L426.3,277.7 L426.8,277.1 L427.3,276.4 L427.8,275.8 L428.3,275.1 L428.8,274.5 L429.3,273.8 L429.8,273.2 L430.3,272.6 L430.8,271.9 L431.3,271.3 L431.8,270.7 L432.3,270.1 L432.8,269.4 L433.3,268.8 L433.8,268.2 L434.3,267.6 L434.8,267.0 L435.3,266.4 L435.8,265.8 L436.3,265.2 L436.8,264.6 L437.3,264.0 L437.8,263.4 L438.3,262.8 L438.8,262.2 L439.3,261.7 L439.8,261.1 L440.3,260.5 L440.8,259.9 L441.3,259.4 L441.8,258.8 L442.3,258.3 L442.8,257.7 L443.3,257.1 L443.8,256.6 L444.3,256.0 L444.8,255.5 L445.3,254.9 L445.8,254.4 L446.3,253.9 L446.8,253.3 L447.3,252.8 L447.8,252.3 L448.3,251.7 L448.8,251.2 L449.3,250.7 L449.8,250.2 L450.3,249.7 L450.8,249.2 L451.3,248.6 L451.8,248.1 L452.3,247.6 L452.8,247.1 L453.3,246.6 L453.8,246.1 L454.3,245.6 L454.8,245.2 L455.3,244.7 L455.8,244.2 L456.3,243.7 L456.8,243.2 L457.3,242.8 L457.8,242.3 L458.3,241.8 L458.8,241.3 L459.3,240.9 L459.8,240.4 L460.3,240.0 L460.8,239.5 L461.3,239.0 L461.8,238.6 L462.3,238.1 L462.8,237.7 L463.3,237.2 L463.8,236.8 L464.3,236.4 L464.8,235.9 L465.3,235.5 L465.8,235.1 L466.3,234.6 L466.8,234.2 L467.3,233.8 L467.8,233.4 L468.3,233.0 L468.8,232.5 L469.3,232.1 L469.8,231.7 L470.3,231.3 L470.8,230.9 L471.3,230.5 L471.8,230.1 L472.3,229.7 L472.8,229.3 L473.3,228.9 L473.8,228.5 L474.3,228.1 L474.8,227.7 L475.3,227.4 L475.8,227.0 L476.3,226.6 L476.8,226.2 L477.3,225.9 L477.8,225.5 L478.3,225.1 L478.8,224.7 L479.3,224.4 L479.8,224.0 L480.3,223.7 L480.8,223.3 L481.3,223.0 L481.8,222.6 L482.3,222.3 L482.8,221.9 L483.3,221.6 L483.8,221.2 L484.3,220.9 L484.8,220.5 L485.3,220.2 L485.8,219.9 L486.3,219.5 L486.8,219.2 L487.3,218.9 L487.8,218.6 L488.3,218.2 L488.8,217.9 L489.3,217.6 L489.8,217.3 L490.3,217.0 L490.8,216.7 L491.3,216.4 L491.8,216.0 L492.3,215.7 L492.8,215.4 L493.3,215.1 L493.8,214.8 L494.3,214.5 L494.8,214.3 L495.3,214.0 L495.8,213.7 L496.3,213.4 L496.8,213.1 L497.3,212.8 L497.8,212.5 L498.3,212.3 L498.8,212.0 L499.3,211.7 L499.8,211.4 L500.3,211.2 L500.8,210.9 L501.3,210.6 L501.8,210.4 L502.3,210.1 L502.8,209.8 L503.3,209.6 L503.8,209.3 L504.3,209.1 L504.8,208.8 L505.3,208.6 L505.8,208.3 L506.3,208.1 L506.8,207.8 L507.3,207.6 L507.8,207.3 L508.3,207.1 L508.8,206.9 L509.3,206.6 L509.8,206.4 L510.3,206.2 L510.8,205.9 L511.3,205.7 L511.8,205.5 L512.3,205.3 L512.8,205.1 L513.3,204.8 L513.8,204.6 L514.3,204.4 L514.8,204.2 L515.3,204.0 L515.8,203.8 L516.3,203.6 L516.8,203.3 L517.3,203.1 L517.8,202.9 L518.3,202.7 L518.8,202.5 L519.3,202.3 L519.8,202.1 L520.3,202.0 L520.8,201.8 L521.3,201.6 L521.8,201.4 L522.3,201.2 L522.8,201.0 L523.3,200.8 L523.8,200.6 L524.3,200.5 L524.8,200.3 L525.3,200.1 L525.8,199.9 L526.3,199.8 L526.8,199.6 L527.3,199.4 L527.8,199.2 L528.3,199.1 L528.8,198.9 L529.3,198.7 L529.8,198.6 L530.3,198.4 L530.8,198.3 L531.3,198.1 L531.8,198.0 L532.3,197.8 L532.8,197.6 L533.3,197.5 L533.8,197.3 L534.3,197.2 L534.8,197.0 L535.3,196.9 L535.8,196.8 L536.3,196.6 L536.8,196.5 L537.3,196.3 L537.8,196.2 L538.3,196.1 L538.8,195.9 L539.3,195.8 L539.8,195.7 L540.3,195.5 L540.8,195.4 L541.3,195.3 L541.8,195.2 L542.3,195.0 L542.8,194.9 L543.3,194.8 L543.8,194.7 L544.3,194.5 L544.8,194.4 L545.3,194.3 L545.8,194.2 L546.3,194.1 L546.8,194.0 L547.3,193.9 L547.8,193.7 L548.3,193.6 L548.8,193.5 L549.3,193.4 L549.8,193.3 L550.3,193.2 L550.8,193.1 L551.3,193.0 L551.8,192.9 L552.3,192.8 L552.8,192.7 L553.3,192.6 L553.8,192.5 L554.3,192.4 L554.8,192.3 L555.3,192.3 L555.8,192.2 L556.3,192.1 L556.8,192.0 L557.3,191.9 L557.8,191.8 L558.3,191.7 L558.8,191.7 L559.3,191.6 L559.8,191.5 L560.3,191.4 L560.8,191.3 L561.3,191.3 L561.8,191.2 L562.3,191.1 L562.8,191.0 L563.3,191.0 L563.8,190.9 L564.3,190.8 L564.8,190.8 L565.3,190.7 L565.8,190.6 L566.3,190.6 L566.8,190.5 L567.3,190.4 L567.8,190.4 L568.3,190.3 L568.8,190.2 L569.3,190.2 L569.8,190.1 L570.3,190.1 L570.8,190.0 L571.3,190.0 L571.8,189.9 L572.3,189.8 L572.8,189.8 L573.3,189.7 L573.8,189.7 L574.3,189.6 L574.8,189.6 L575.3,189.5 L575.8,189.5 L576.3,189.4 L576.8,189.4 L577.3,189.4 L577.8,189.3 L578.3,189.3 L578.8,189.2 L579.3,189.2 L579.8,189.1 L580.3,189.1 L580.8,189.1 L581.3,189.0 L581.8,189.0 L582.3,189.0 L582.8,188.9 L583.3,188.9 L583.8,188.9 L584.3,188.8 L584.8,188.8 L585.3,188.8 L585.8,188.7 L586.3,188.7 L586.8,188.7 L587.3,188.6 L587.8,188.6 L588.3,188.6 L588.8,188.5 L598.9,187.3 L1290.0,187.3 L1300.0,188.6 L1300.5,188.6 L1301.0,188.6 L1301.5,188.6 L1302.0,188.6 L1302.5,188.6 L1303.0,188.6 L1303.5,188.6 L1304.0,188.6 L1304.5,188.6 L1305.0,188.6 L1305.5,188.6 L1306.0,188.6 L1306.5,188.6 L1307.0,188.6 L1307.5,188.7 L1308.0,188.7 L1308.5,188.7 L1309.0,188.7 L1309.5,188.7 L1310.0,188.7 L1310.5,188.7 L1311.0,188.7 L1311.5,188.7 L1312.0,188.7 L1312.5,188.7 L1313.0,188.8 L1313.5,188.8 L1314.0,188.8 L1314.5,188.8 L1315.0,188.8 L1315.5,188.8 L1316.0,188.8 L1316.5,188.9 L1317.0,188.9 L1317.5,188.9 L1318.0,188.9 L1318.5,188.9 L1319.0,189.0 L1319.5,189.0 L1320.0,189.0 L1320.5,189.0 L1321.0,189.1 L1321.5,189.1 L1322.0,189.1 L1322.5,189.1 L1323.0,189.2 L1323.5,189.2 L1324.0,189.2 L1324.5,189.3 L1325.0,189.3 L1325.5,189.4 L1326.0,189.4 L1326.5,189.4 L1327.0,189.5 L1327.5,189.5 L1328.0,189.6 L1328.5,189.6 L1329.0,189.7 L1329.5,189.7 L1330.0,189.7 L1330.5,189.8 L1331.0,189.9 L1331.5,189.9 L1332.0,190.0 L1332.5,190.0 L1333.0,190.1 L1333.5,190.1 L1334.0,190.2 L1334.5,190.3 L1335.0,190.3 L1335.5,190.4 L1336.0,190.5 L1336.5,190.5 L1337.0,190.6 L1337.5,190.7 L1338.0,190.8 L1338.5,190.8 L1339.0,190.9 L1339.5,191.0 L1340.0,191.1 L1340.5,191.2 L1341.0,191.2 L1341.5,191.3 L1342.0,191.4 L1342.5,191.5 L1343.0,191.6 L1343.5,191.7 L1344.0,191.8 L1344.5,191.9 L1345.0,192.0 L1345.5,192.1 L1346.0,192.2 L1346.5,192.3 L1347.0,192.5 L1347.5,192.6 L1348.0,192.7 L1348.5,192.8 L1349.0,192.9 L1349.5,193.0 L1350.0,193.2 L1350.5,193.3 L1351.0,193.4 L1351.5,193.6 L1352.0,193.7 L1352.5,193.8 L1353.0,194.0 L1353.5,194.1 L1354.0,194.3 L1354.5,194.4 L1355.0,194.6 L1355.5,194.7 L1356.0,194.9 L1356.5,195.0 L1357.0,195.2 L1357.5,195.4 L1358.0,195.5 L1358.5,195.7 L1359.0,195.9 L1359.5,196.0 L1360.0,196.2 L1360.5,196.4 L1361.0,196.6 L1361.5,196.8 L1362.0,197.0 L1362.5,197.1 L1363.0,197.3 L1363.5,197.5 L1364.0,197.7 L1364.5,197.9 L1365.0,198.2 L1365.5,198.4 L1366.0,198.6 L1366.5,198.8 L1367.0,199.0 L1367.5,199.2 L1368.0,199.5 L1368.5,199.7 L1369.0,199.9 L1369.5,200.2 L1370.0,200.4 L1370.5,200.6 L1371.0,200.9 L1371.5,201.1 L1372.0,201.4 L1372.5,201.6 L1373.0,201.9 L1373.5,202.1 L1374.0,202.4 L1374.5,202.7 L1375.0,203.0 L1375.5,203.2 L1376.0,203.5 L1376.5,203.8 L1377.0,204.1 L1377.5,204.4 L1378.0,204.7 L1378.5,205.0 L1379.0,205.3 L1379.5,205.6 L1380.0,205.9 L1380.5,206.2 L1381.0,206.5 L1381.5,206.8 L1382.0,207.1 L1382.5,207.5 L1383.0,207.8 L1383.5,208.1 L1384.0,208.5 L1384.5,208.8 L1385.0,209.1 L1385.5,209.5 L1386.0,209.8 L1386.5,210.2 L1387.0,210.6 L1387.5,210.9 L1388.0,211.3 L1388.5,211.7 L1389.0,212.0 L1389.5,212.4 L1390.0,212.8 L1390.5,213.2 L1391.0,213.6 L1391.5,214.0 L1392.0,214.4 L1392.5,214.8 L1393.0,215.2 L1393.5,215.6 L1394.0,216.0 L1394.5,216.5 L1395.0,216.9 L1395.5,217.3 L1396.0,217.8 L1396.5,218.2 L1397.0,218.7 L1397.5,219.1 L1398.0,219.6 L1398.5,220.0 L1399.0,220.5 L1399.5,221.0 L1400.0,221.4 L1400.5,221.9 L1401.0,222.4 L1401.5,222.9 L1402.0,223.4 L1402.5,223.9 L1403.0,224.4 L1403.5,224.9 L1404.0,225.4 L1404.5,225.9 L1405.0,226.4 L1405.5,226.9 L1406.0,227.5 L1406.5,228.0 L1407.0,228.5 L1407.5,229.1 L1408.0,229.6 L1408.5,230.2 L1409.0,230.7 L1409.5,231.3 L1410.0,231.9 L1410.5,232.4 L1411.0,233.0 L1411.5,233.6 L1412.0,234.2 L1412.5,234.8 L1413.0,235.4 L1413.5,236.0 L1414.0,236.6 L1414.5,237.2 L1415.0,237.8 L1415.5,238.5 L1416.0,239.1 L1416.5,239.8 L1417.0,240.4 L1417.5,241.1 L1418.0,241.7 L1418.5,242.4 L1419.0,243.1 L1419.5,243.7 L1420.0,244.4 L1420.5,245.1 L1421.0,245.8 L1421.5,246.5 L1422.0,247.2 L1422.5,247.9 L1423.0,248.7 L1423.5,249.4 L1424.0,250.1 L1424.5,250.9 L1425.0,251.7 L1425.5,252.4 L1426.0,253.2 L1426.5,254.0 L1427.0,254.8 L1427.5,255.5 L1428.0,256.3 L1428.5,257.2 L1429.0,258.0 L1429.5,258.8 L1430.0,259.6 L1430.5,260.5 L1431.0,261.3 L1431.5,262.2 L1432.0,263.1 L1432.5,263.9 L1433.0,264.8 L1433.5,265.7 L1434.0,266.6 L1434.5,267.5 L1435.0,268.5 L1435.5,269.4 L1436.0,270.3 L1436.5,271.3 L1437.0,272.2 L1437.5,273.2 L1438.0,274.2 L1438.5,275.2 L1439.0,276.2 L1439.5,277.2 L1440.0,278.2 L1440.5,279.2 L1441.0,280.3 L1441.5,281.3 L1442.0,282.4 L1442.5,283.4 L1443.0,284.5 L1443.5,285.6 L1444.0,286.7 L1444.5,287.8 L1445.0,288.9 L1445.5,290.0 L1446.0,291.2 L1446.5,292.3 L1447.0,293.5 L1447.5,294.7 L1448.0,295.8 L1448.5,297.0 L1449.0,298.2 L1449.5,299.4 L1450.0,300.6 L1450.5,301.9 L1451.0,303.1 L1451.5,304.3 L1452.0,305.6 L1452.5,306.8 L1453.0,308.1 L1453.5,309.4 L1454.0,310.7 L1454.5,312.0 L1455.0,313.3 L1455.5,314.6 L1456.0,315.9 L1456.5,317.2 L1457.0,318.6 L1457.5,319.9 L1458.0,321.2 L1458.5,322.6 L1459.0,324.0 L1459.5,325.3 L1460.0,326.7 L1460.5,328.1 L1461.0,329.5 L1461.5,330.9 L1462.0,332.3 L1462.5,333.7 L1463.0,335.2 L1463.5,336.6 L1464.0,338.0 L1464.5,339.5 L1465.0,340.9 L1465.5,342.4 L1466.0,343.8 L1466.5,345.3 L1467.0,346.8 L1467.5,348.3 L1468.0,349.7 L1468.5,351.2 L1469.0,352.7 L1469.5,354.2 L1470.0,355.7 L1470.5,357.3 L1471.0,358.8 L1471.5,360.3 L1472.0,361.8 L1472.5,363.4 L1473.0,364.9 L1473.5,366.5 L1474.0,368.0 L1474.5,369.6 L1475.0,371.1 L1475.5,372.7 L1476.0,374.3 L1476.5,375.9 L1477.0,377.4 L1477.5,379.0 L1478.0,380.6 L1478.5,382.2 L1479.0,383.8 L1479.5,385.4 L1480.0,387.0 L1480.5,388.6 L1481.0,390.2 L1481.5,391.8 L1482.0,393.4 L1482.5,395.1 L1483.0,396.7 L1483.5,398.3 L1484.0,400.0 L1484.5,401.6 L1485.0,403.2 L1485.5,404.9 L1486.0,406.5 L1486.5,408.2 L1487.0,409.8 L1487.5,411.4 L1488.0,413.1 L1488.5,414.8 L1489.0,416.4 L1489.5,418.1 L1490.0,419.7 L1490.5,421.4 L1491.0,423.1 L1491.5,424.7 L1492.0,426.4 L1492.5,428.1 L1493.0,429.7 L1493.5,431.4 L1494.0,433.1 L1494.5,434.7 L1495.0,436.4 L1495.5,438.1 L1496.0,439.8 L1496.5,441.4 L1497.0,443.1 L1497.5,444.8 L1498.0,446.5 L1498.5,448.1 L1499.0,449.8 L1499.5,451.5 L1500.0,453.2 L1500.5,454.9 L1501.0,456.5 L1501.5,458.2 L1502.0,459.9 L1502.5,461.6 L1503.0,463.2 L1503.5,464.9 L1504.0,466.6 L1504.5,468.3 L1505.0,469.9 L1505.5,471.6 L1506.0,473.3 L1506.5,474.9 L1507.0,476.6 L1507.5,478.3 L1508.0,479.9 L1508.5,481.6 L1509.0,483.3 L1509.5,484.9 L1510.0,486.6 L1510.5,488.2 L1511.0,489.9 L1511.5,491.5 L1512.0,493.2 L1512.5,494.8 L1513.0,496.5 L1513.5,498.1 L1514.0,499.8 L1514.5,501.4 L1515.0,503.0 L1515.5,504.7 L1516.0,506.3 L1516.5,507.9 L1517.0,509.5 L1517.5,511.2 L1518.0,512.8 L1518.5,514.4" fill="none" stroke="#ff00ff" stroke-width="2.2" stroke-dasharray="7 5.5" stroke-linejoin="round"/>
<path d="M263.3,538.4 L263.8,537.4 L264.3,536.3 L264.8,535.3 L265.3,534.3 L265.8,533.2 L266.3,532.2 L266.8,531.2 L267.3,530.2 L267.8,529.1 L268.3,528.1 L268.8,527.1 L269.3,526.1 L269.8,525.1 L270.3,524.1 L270.8,523.2 L271.3,522.2 L271.8,521.2 L272.3,520.2 L272.8,519.3 L273.3,518.3 L273.8,517.4 L274.3,516.4 L274.8,515.5 L275.3,514.5 L275.8,513.6 L276.3,512.7 L276.8,511.7 L277.3,510.8 L277.8,509.9 L278.3,509.0 L278.8,508.1 L279.3,507.2 L279.8,506.3 L280.3,505.4 L280.8,504.5 L281.3,503.6 L281.8,502.7 L282.3,501.8 L282.8,500.9 L283.3,500.1 L283.8,499.2 L284.3,498.3 L284.8,497.5 L285.3,496.6 L285.8,495.8 L286.3,494.9 L286.8,494.1 L287.3,493.2 L287.8,492.4 L288.3,491.6 L288.8,490.7 L289.3,489.9 L289.8,489.1 L290.3,488.3 L290.8,487.5 L291.3,486.7 L291.8,485.9 L292.3,485.1 L292.8,484.3 L293.3,483.5 L293.8,482.7 L294.3,481.9 L294.8,481.1 L295.3,480.3 L295.8,479.5 L296.3,478.8 L296.8,478.0 L297.3,477.2 L297.8,476.5 L298.3,475.7 L298.8,474.9 L299.3,474.2 L299.8,473.4 L300.3,472.7 L300.8,471.9 L301.3,471.2 L301.8,470.5 L302.3,469.7 L302.8,469.0 L303.3,468.2 L303.8,467.5 L304.3,466.8 L304.8,466.1 L305.3,465.4 L305.8,464.6 L306.3,463.9 L306.8,463.2 L307.3,462.5 L307.8,461.8 L308.3,461.1 L308.8,460.4 L309.3,459.7 L309.8,459.0 L310.3,458.3 L310.8,457.6 L311.3,456.9 L311.8,456.2 L312.3,455.5 L312.8,454.9 L313.3,454.2 L313.8,453.5 L314.3,452.8 L314.8,452.2 L315.3,451.5 L315.8,450.8 L316.3,450.1 L316.8,449.5 L317.3,448.8 L317.8,448.2 L318.3,447.5 L318.8,446.8 L319.3,446.2 L319.8,445.5 L320.3,444.9 L320.8,444.2 L321.3,443.6 L321.8,443.0 L322.3,442.3 L322.8,441.7 L323.3,441.0 L323.8,440.4 L324.3,439.8 L324.8,439.1 L325.3,438.5 L325.8,437.9 L326.3,437.2 L326.8,436.6 L327.3,436.0 L327.8,435.4 L328.3,434.7 L328.8,434.1 L329.3,433.5 L329.8,432.9 L330.3,432.3 L330.8,431.7 L331.3,431.0 L331.8,430.4 L332.3,429.8 L332.8,429.2 L333.3,428.6 L333.8,428.0 L334.3,427.4 L334.8,426.8 L335.3,426.2 L335.8,425.6 L336.3,425.0 L336.8,424.4 L337.3,423.8 L337.8,423.2 L338.3,422.6 L338.8,422.0 L339.3,421.4 L339.8,420.9 L340.3,420.3 L340.8,419.7 L341.3,419.1 L341.8,418.5 L342.3,417.9 L342.8,417.3 L343.3,416.8 L343.8,416.2 L344.3,415.6 L344.8,415.0 L345.3,414.4 L345.8,413.9 L346.3,413.3 L346.8,412.7 L347.3,412.1 L347.8,411.6 L348.3,411.0 L348.8,410.4 L349.3,409.9 L349.8,409.3 L350.3,408.7 L350.8,408.1 L351.3,407.6 L351.8,407.0 L352.3,406.4 L352.8,405.9 L353.3,405.3 L353.8,404.7 L354.3,404.2 L354.8,403.6 L355.3,403.1 L355.8,402.5 L356.3,401.9 L356.8,401.4 L357.3,400.8 L357.8,400.2 L358.3,399.7 L358.8,399.1 L359.3,398.6 L359.8,398.0 L360.3,397.4 L360.8,396.9 L361.3,396.3 L361.8,395.8 L362.3,395.2 L362.8,394.6 L363.3,394.1 L363.8,393.5 L364.3,393.0 L364.8,392.4 L365.3,391.8 L365.8,391.3 L366.3,390.7 L366.8,390.2 L367.3,389.6 L367.8,389.1 L368.3,388.5 L368.8,387.9 L369.3,387.4 L369.8,386.8 L370.3,386.3 L370.8,385.7 L371.3,385.1 L371.8,384.6 L372.3,384.0 L372.8,383.5 L373.3,382.9 L373.8,382.4 L374.3,381.8 L374.8,381.2 L375.3,380.7 L375.8,380.1 L376.3,379.6 L376.8,379.0 L377.3,378.4 L377.8,377.9 L378.3,377.3 L378.8,376.8 L379.3,376.2 L379.8,375.7 L380.3,375.1 L380.8,374.5 L381.3,374.0 L381.8,373.4 L382.3,372.9 L382.8,372.3 L383.3,371.8 L383.8,371.2 L384.3,370.6 L384.8,370.1 L385.3,369.5 L385.8,369.0 L386.3,368.4 L386.8,367.9 L387.3,367.3 L387.8,366.7 L388.3,366.2 L388.8,365.6 L389.3,365.1 L389.8,364.5 L390.3,364.0 L390.8,363.4 L391.3,362.9 L391.8,362.3 L392.3,361.7 L392.8,361.2 L393.3,360.6 L393.8,360.1 L394.3,359.5 L394.8,359.0 L395.3,358.4 L395.8,357.9 L396.3,357.3 L396.8,356.8 L397.3,356.2 L397.8,355.7 L398.3,355.1 L398.8,354.5 L399.3,354.0 L399.8,353.4 L400.3,352.9 L400.8,352.3 L401.3,351.8 L401.8,351.2 L402.3,350.7 L402.8,350.1 L403.3,349.6 L403.8,349.0 L404.3,348.5 L404.8,347.9 L405.3,347.4 L405.8,346.8 L406.3,346.3 L406.8,345.7 L407.3,345.2 L407.8,344.6 L408.3,344.1 L408.8,343.6 L409.3,343.0 L409.8,342.5 L410.3,341.9 L410.8,341.4 L411.3,340.8 L411.8,340.3 L412.3,339.7 L412.8,339.2 L413.3,338.6 L413.8,338.1 L414.3,337.6 L414.8,337.0 L415.3,336.5 L415.8,335.9 L416.3,335.4 L416.8,334.9 L417.3,334.3 L417.8,333.8 L418.3,333.2 L418.8,332.7 L419.3,332.2 L419.8,331.6 L420.3,331.1 L420.8,330.5 L421.3,330.0 L421.8,329.5 L422.3,328.9 L422.8,328.4 L423.3,327.9 L423.8,327.3 L424.3,326.8 L424.8,326.3 L425.3,325.7 L425.8,325.2 L426.3,324.7 L426.8,324.1 L427.3,323.6 L427.8,323.1 L428.3,322.5 L428.8,322.0 L429.3,321.5 L429.8,320.9 L430.3,320.4 L430.8,319.9 L431.3,319.4 L431.8,318.8 L432.3,318.3 L432.8,317.8 L433.3,317.3 L433.8,316.7 L434.3,316.2 L434.8,315.7 L435.3,315.2 L435.8,314.6 L436.3,314.1 L436.8,313.6 L437.3,313.1 L437.8,312.5 L438.3,312.0 L438.8,311.5 L439.3,311.0 L439.8,310.5 L440.3,310.0 L440.8,309.4 L441.3,308.9 L441.8,308.4 L442.3,307.9 L442.8,307.4 L443.3,306.9 L443.8,306.3 L444.3,305.8 L444.8,305.3 L445.3,304.8 L445.8,304.3 L446.3,303.8 L446.8,303.3 L447.3,302.8 L447.8,302.3 L448.3,301.8 L448.8,301.3 L449.3,300.7 L449.8,300.2 L450.3,299.7 L450.8,299.2 L451.3,298.7 L451.8,298.2 L452.3,297.7 L452.8,297.2 L453.3,296.7 L453.8,296.2 L454.3,295.7 L454.8,295.2 L455.3,294.7 L455.8,294.2 L456.3,293.7 L456.8,293.2 L457.3,292.8 L457.8,292.3 L458.3,291.8 L458.8,291.3 L459.3,290.8 L459.8,290.3 L460.3,289.8 L460.8,289.3 L461.3,288.8 L461.8,288.3 L462.3,287.9 L462.8,287.4 L463.3,286.9 L463.8,286.4 L464.3,285.9 L464.8,285.4 L465.3,284.9 L465.8,284.5 L466.3,284.0 L466.8,283.5 L467.3,283.0 L467.8,282.6 L468.3,282.1 L468.8,281.6 L469.3,281.1 L469.8,280.7 L470.3,280.2 L470.8,279.7 L471.3,279.2 L471.8,278.8 L472.3,278.3 L472.8,277.8 L473.3,277.4 L473.8,276.9 L474.3,276.4 L474.8,276.0 L475.3,275.5 L475.8,275.0 L476.3,274.6 L476.8,274.1 L477.3,273.7 L477.8,273.2 L478.3,272.7 L478.8,272.3 L479.3,271.8 L479.8,271.4 L480.3,270.9 L480.8,270.5 L481.3,270.0 L481.8,269.6 L482.3,269.1 L482.8,268.7 L483.3,268.2 L483.8,267.8 L484.3,267.3 L484.8,266.9 L485.3,266.4 L485.8,266.0 L486.3,265.5 L486.8,265.1 L487.3,264.7 L487.8,264.2 L488.3,263.8 L488.8,263.3 L489.3,262.9 L489.8,262.5 L490.3,262.0 L490.8,261.6 L491.3,261.2 L491.8,260.7 L492.3,260.3 L492.8,259.9 L493.3,259.4 L493.8,259.0 L494.3,258.6 L494.8,258.2 L495.3,257.7 L495.8,257.3 L496.3,256.9 L496.8,256.5 L497.3,256.1 L497.8,255.6 L498.3,255.2 L498.8,254.8 L499.3,254.4 L499.8,254.0 L500.3,253.6 L500.8,253.2 L501.3,252.7 L501.8,252.3 L502.3,251.9 L502.8,251.5 L503.3,251.1 L503.8,250.7 L504.3,250.3 L504.8,249.9 L505.3,249.5 L505.8,249.1 L506.3,248.7 L506.8,248.3 L507.3,247.9 L507.8,247.5 L508.3,247.1 L508.8,246.7 L509.3,246.3 L509.8,246.0 L510.3,245.6 L510.8,245.2 L511.3,244.8 L511.8,244.4 L512.3,244.0 L512.8,243.6 L513.3,243.3 L513.8,242.9 L514.3,242.5 L514.8,242.1 L515.3,241.8 L515.8,241.4 L516.3,241.0 L516.8,240.6 L517.3,240.3 L517.8,239.9 L518.3,239.5 L518.8,239.2 L519.3,238.8 L519.8,238.4 L520.3,238.1 L520.8,237.7 L521.3,237.3 L521.8,237.0 L522.3,236.6 L522.8,236.3 L523.3,235.9 L523.8,235.6 L524.3,235.2 L524.8,234.9 L525.3,234.5 L525.8,234.2 L526.3,233.8 L526.8,233.5 L527.3,233.1 L527.8,232.8 L528.3,232.4 L528.8,232.1 L529.3,231.8 L529.8,231.4 L530.3,231.1 L530.8,230.8 L531.3,230.4 L531.8,230.1 L532.3,229.8 L532.8,229.4 L533.3,229.1 L533.8,228.8 L534.3,228.5 L534.8,228.1 L535.3,227.8 L535.8,227.5 L536.3,227.2 L536.8,226.9 L537.3,226.5 L537.8,226.2 L538.3,225.9 L538.8,225.6 L539.3,225.3 L539.8,225.0 L540.3,224.7 L540.8,224.4 L541.3,224.1 L541.8,223.8 L542.3,223.5 L542.8,223.2 L543.3,222.9 L543.8,222.6 L544.3,222.3 L544.8,222.0 L545.3,221.7 L545.8,221.4 L546.3,221.1 L546.8,220.8 L547.3,220.6 L547.8,220.3 L548.3,220.0 L548.8,219.7 L549.3,219.4 L549.8,219.2 L550.3,218.9 L550.8,218.6 L551.3,218.3 L551.8,218.1 L552.3,217.8 L552.8,217.5 L553.3,217.3 L553.8,217.0 L554.3,216.7 L554.8,216.5 L555.3,216.2 L555.8,216.0 L556.3,215.7 L556.8,215.4 L557.3,215.2 L557.8,214.9 L558.3,214.7 L558.8,214.4 L559.3,214.2 L559.8,213.9 L560.3,213.7 L560.8,213.5 L561.3,213.2 L561.8,213.0 L562.3,212.7 L562.8,212.5 L563.3,212.3 L563.8,212.0 L564.3,211.8 L564.8,211.6 L565.3,211.3 L565.8,211.1 L566.3,210.9 L566.8,210.7 L567.3,210.4 L567.8,210.2 L568.3,210.0 L568.8,209.8 L569.3,209.6 L569.8,209.3 L570.3,209.1 L570.8,208.9 L571.3,208.7 L571.8,208.5 L572.3,208.3 L572.8,208.1 L573.3,207.9 L573.8,207.6 L574.3,207.4 L574.8,207.2 L575.3,207.0 L575.8,206.8 L576.3,206.6 L576.8,206.4 L577.3,206.2 L577.8,206.0 L578.3,205.9 L578.8,205.7 L579.3,205.5 L579.8,205.3 L580.3,205.1 L580.8,204.9 L581.3,204.7 L581.8,204.5 L582.3,204.4 L582.8,204.2 L583.3,204.0 L583.8,203.8 L584.3,203.6 L584.8,203.5 L585.3,203.3 L585.8,203.1 L586.3,202.9 L586.8,202.8 L587.3,202.6 L587.8,202.4 L588.3,202.3 L588.8,202.1 L589.3,201.9 L589.8,201.8 L590.3,201.6 L590.8,201.4 L591.3,201.3 L591.8,201.1 L592.3,201.0 L592.8,200.8 L593.3,200.6 L593.8,200.5 L594.3,200.3 L594.8,200.2 L595.3,200.0 L595.8,199.9 L596.3,199.7 L596.8,199.6 L597.3,199.4 L597.8,199.3 L598.3,199.1 L598.8,199.0 L599.3,198.9 L599.8,198.7 L600.3,198.6 L600.8,198.4 L601.3,198.3 L601.8,198.2 L602.3,198.0 L602.8,197.9 L603.3,197.8 L603.8,197.6 L604.3,197.5 L604.8,197.4 L605.3,197.2 L605.8,197.1 L606.3,197.0 L606.8,196.9 L607.3,196.7 L607.8,196.6 L608.3,196.5 L608.8,196.4 L609.3,196.3 L609.8,196.1 L610.3,196.0 L610.8,195.9 L611.3,195.8 L611.8,195.7 L612.3,195.6 L612.8,195.4 L613.3,195.3 L613.8,195.2 L614.3,195.1 L614.8,195.0 L615.3,194.9 L615.8,194.8 L616.3,194.7 L616.8,194.6 L617.3,194.5 L617.8,194.4 L618.3,194.3 L618.8,194.2 L619.3,194.1 L619.8,194.0 L620.3,193.9 L620.8,193.8 L621.3,193.7 L621.8,193.6 L622.3,193.5 L622.8,193.4 L623.3,193.3 L623.8,193.2 L624.3,193.1 L624.8,193.0 L625.3,193.0 L625.8,192.9 L626.3,192.8 L626.8,192.7 L627.3,192.6 L627.8,192.5 L628.3,192.4 L628.8,192.4 L629.3,192.3 L629.8,192.2 L630.3,192.1 L630.8,192.0 L631.3,192.0 L631.8,191.9 L632.3,191.8 L632.8,191.7 L633.3,191.7 L633.8,191.6 L634.3,191.5 L634.8,191.4 L635.3,191.4 L635.8,191.3 L636.3,191.2 L636.8,191.2 L637.3,191.1 L637.8,191.0 L638.3,191.0 L638.8,190.9 L639.3,190.8 L639.8,190.8 L640.3,190.7 L640.8,190.6 L641.3,190.6 L641.8,190.5 L642.3,190.5 L642.8,190.4 L643.3,190.3 L643.8,190.3 L644.3,190.2 L644.8,190.2 L645.3,190.1 L645.8,190.1 L646.3,190.0 L646.8,190.0 L647.3,189.9 L647.8,189.9 L648.3,189.8 L648.8,189.8 L649.3,189.7 L649.8,189.7 L650.3,189.6 L650.8,189.6 L651.3,189.5 L651.8,189.5 L652.3,189.4 L652.8,189.4 L653.3,189.3 L653.8,189.3 L654.3,189.2 L654.8,189.2 L655.3,189.2 L655.8,189.1 L656.3,189.1 L656.8,189.0 L657.3,189.0 L657.8,189.0 L658.3,188.9 L658.8,188.9 L659.3,188.9 L659.8,188.8 L660.3,188.8 L660.8,188.7 L661.3,188.7 L661.8,188.7 L662.3,188.6 L662.8,188.6 L663.3,188.6 L663.8,188.5 L664.3,188.5 L664.8,188.5 L665.3,188.5 L665.8,188.4 L666.3,188.4 L666.8,188.4 L667.3,188.3 L667.8,188.3 L668.3,188.3 L668.8,188.3 L669.3,188.2 L669.8,188.2 L670.3,188.2 L670.8,188.2 L671.3,188.1 L671.8,188.1 L672.3,188.1 L672.8,188.1 L673.3,188.1 L673.8,188.0 L674.3,188.0 L674.8,188.0 L675.3,188.0 L675.8,188.0 L676.3,187.9 L676.8,187.9 L677.3,187.9 L677.8,187.9 L678.3,187.9 L678.8,187.9 L679.3,187.8 L679.8,187.8 L680.3,187.8 L680.8,187.8 L681.3,187.8 L681.8,187.8 L682.3,187.8 L682.8,187.7 L683.3,187.7 L683.8,187.7 L684.3,187.7 L684.8,187.7 L685.3,187.7 L685.8,187.7 L686.3,187.7 L686.8,187.7 L687.3,187.6 L687.8,187.6 L688.3,187.6 L688.8,187.6 L689.3,187.6 L689.8,187.6 L700.0,187.3 L1240.0,187.3 L1250.0,189.4 L1250.5,189.5 L1251.0,189.5 L1251.5,189.6 L1252.0,189.7 L1252.5,189.7 L1253.0,189.8 L1253.5,189.8 L1254.0,189.9 L1254.5,190.0 L1255.0,190.0 L1255.5,190.1 L1256.0,190.2 L1256.5,190.2 L1257.0,190.3 L1257.5,190.4 L1258.0,190.4 L1258.5,190.5 L1259.0,190.6 L1259.5,190.6 L1260.0,190.7 L1260.5,190.8 L1261.0,190.8 L1261.5,190.9 L1262.0,191.0 L1262.5,191.1 L1263.0,191.1 L1263.5,191.2 L1264.0,191.3 L1264.5,191.4 L1265.0,191.4 L1265.5,191.5 L1266.0,191.6 L1266.5,191.7 L1267.0,191.7 L1267.5,191.8 L1268.0,191.9 L1268.5,192.0 L1269.0,192.1 L1269.5,192.2 L1270.0,192.2 L1270.5,192.3 L1271.0,192.4 L1271.5,192.5 L1272.0,192.6 L1272.5,192.7 L1273.0,192.8 L1273.5,192.8 L1274.0,192.9 L1274.5,193.0 L1275.0,193.1 L1275.5,193.2 L1276.0,193.3 L1276.5,193.4 L1277.0,193.5 L1277.5,193.6 L1278.0,193.7 L1278.5,193.8 L1279.0,193.9 L1279.5,194.0 L1280.0,194.1 L1280.5,194.1 L1281.0,194.2 L1281.5,194.3 L1282.0,194.4 L1282.5,194.5 L1283.0,194.7 L1283.5,194.8 L1284.0,194.9 L1284.5,195.0 L1285.0,195.1 L1285.5,195.2 L1286.0,195.3 L1286.5,195.4 L1287.0,195.5 L1287.5,195.6 L1288.0,195.7 L1288.5,195.8 L1289.0,195.9 L1289.5,196.0 L1290.0,196.2 L1290.5,196.3 L1291.0,196.4 L1291.5,196.5 L1292.0,196.6 L1292.5,196.7 L1293.0,196.9 L1293.5,197.0 L1294.0,197.1 L1294.5,197.2 L1295.0,197.3 L1295.5,197.5 L1296.0,197.6 L1296.5,197.7 L1297.0,197.8 L1297.5,197.9 L1298.0,198.1 L1298.5,198.2 L1299.0,198.3 L1299.5,198.5 L1300.0,198.6 L1300.5,198.7 L1301.0,198.8 L1301.5,199.0 L1302.0,199.1 L1302.5,199.2 L1303.0,199.4 L1303.5,199.5 L1304.0,199.6 L1304.5,199.8 L1305.0,199.9 L1305.5,200.1 L1306.0,200.2 L1306.5,200.3 L1307.0,200.5 L1307.5,200.6 L1308.0,200.8 L1308.5,200.9 L1309.0,201.0 L1309.5,201.2 L1310.0,201.3 L1310.5,201.5 L1311.0,201.6 L1311.5,201.8 L1312.0,201.9 L1312.5,202.1 L1313.0,202.2 L1313.5,202.4 L1314.0,202.5 L1314.5,202.7 L1315.0,202.8 L1315.5,203.0 L1316.0,203.1 L1316.5,203.3 L1317.0,203.5 L1317.5,203.6 L1318.0,203.8 L1318.5,203.9 L1319.0,204.1 L1319.5,204.3 L1320.0,204.4 L1320.5,204.6 L1321.0,204.8 L1321.5,204.9 L1322.0,205.1 L1322.5,205.3 L1323.0,205.4 L1323.5,205.6 L1324.0,205.8 L1324.5,205.9 L1325.0,206.1 L1325.5,206.3 L1326.0,206.4 L1326.5,206.6 L1327.0,206.8 L1327.5,207.0 L1328.0,207.2 L1328.5,207.3 L1329.0,207.5 L1329.5,207.7 L1330.0,207.9 L1330.5,208.1 L1331.0,208.2 L1331.5,208.4 L1332.0,208.6 L1332.5,208.8 L1333.0,209.0 L1333.5,209.2 L1334.0,209.4 L1334.5,209.5 L1335.0,209.7 L1335.5,209.9 L1336.0,210.1 L1336.5,210.3 L1337.0,210.5 L1337.5,210.7 L1338.0,210.9 L1338.5,211.1 L1339.0,211.3 L1339.5,211.5 L1340.0,211.7 L1340.5,211.9 L1341.0,212.1 L1341.5,212.3 L1342.0,212.5 L1342.5,212.7 L1343.0,212.9 L1343.5,213.1 L1344.0,213.3 L1344.5,213.5 L1345.0,213.8 L1345.5,214.0 L1346.0,214.2 L1346.5,214.4 L1347.0,214.6 L1347.5,214.8 L1348.0,215.0 L1348.5,215.3 L1349.0,215.5 L1349.5,215.7 L1350.0,215.9 L1350.5,216.1 L1351.0,216.4 L1351.5,216.6 L1352.0,216.8 L1352.5,217.0 L1353.0,217.3 L1353.5,217.5 L1354.0,217.7 L1354.5,217.9 L1355.0,218.2 L1355.5,218.4 L1356.0,218.6 L1356.5,218.9 L1357.0,219.1 L1357.5,219.3 L1358.0,219.6 L1358.5,219.8 L1359.0,220.1 L1359.5,220.3 L1360.0,220.5 L1360.5,220.8 L1361.0,221.0 L1361.5,221.3 L1362.0,221.5 L1362.5,221.8 L1363.0,222.0 L1363.5,222.2 L1364.0,222.5 L1364.5,222.7 L1365.0,223.0 L1365.5,223.3 L1366.0,223.5 L1366.5,223.8 L1367.0,224.0 L1367.5,224.3 L1368.0,224.5 L1368.5,224.8 L1369.0,225.1 L1369.5,225.3 L1370.0,225.6 L1370.5,225.8 L1371.0,226.1 L1371.5,226.4 L1372.0,226.6 L1372.5,226.9 L1373.0,227.2 L1373.5,227.4 L1374.0,227.7 L1374.5,228.0 L1375.0,228.3 L1375.5,228.5 L1376.0,228.8 L1376.5,229.1 L1377.0,229.4 L1377.5,229.7 L1378.0,229.9 L1378.5,230.2 L1379.0,230.5 L1379.5,230.8 L1380.0,231.1 L1380.5,231.4 L1381.0,231.6 L1381.5,231.9 L1382.0,232.2 L1382.5,232.5 L1383.0,232.8 L1383.5,233.1 L1384.0,233.4 L1384.5,233.7 L1385.0,234.0 L1385.5,234.3 L1386.0,234.6 L1386.5,234.9 L1387.0,235.2 L1387.5,235.5 L1388.0,235.8 L1388.5,236.1 L1389.0,236.4 L1389.5,236.8 L1390.0,237.1 L1390.5,237.4 L1391.0,237.7 L1391.5,238.0 L1392.0,238.3 L1392.5,238.7 L1393.0,239.0 L1393.5,239.3 L1394.0,239.6 L1394.5,240.0 L1395.0,240.3 L1395.5,240.6 L1396.0,240.9 L1396.5,241.3 L1397.0,241.6 L1397.5,241.9 L1398.0,242.3 L1398.5,242.6 L1399.0,243.0 L1399.5,243.3 L1400.0,243.6 L1400.5,244.0 L1401.0,244.3 L1401.5,244.7 L1402.0,245.0 L1402.5,245.4 L1403.0,245.7 L1403.5,246.1 L1404.0,246.4 L1404.5,246.8 L1405.0,247.1 L1405.5,247.5 L1406.0,247.9 L1406.5,248.2 L1407.0,248.6 L1407.5,249.0 L1408.0,249.3 L1408.5,249.7 L1409.0,250.1 L1409.5,250.4 L1410.0,250.8 L1410.5,251.2 L1411.0,251.6 L1411.5,251.9 L1412.0,252.3 L1412.5,252.7 L1413.0,253.1 L1413.5,253.5 L1414.0,253.9 L1414.5,254.3 L1415.0,254.7 L1415.5,255.0 L1416.0,255.4 L1416.5,255.8 L1417.0,256.2 L1417.5,256.6 L1418.0,257.0 L1418.5,257.4 L1419.0,257.8 L1419.5,258.3 L1420.0,258.7 L1420.5,259.1 L1421.0,259.5 L1421.5,259.9 L1422.0,260.3 L1422.5,260.7 L1423.0,261.2 L1423.5,261.6 L1424.0,262.0 L1424.5,262.4 L1425.0,262.9 L1425.5,263.3 L1426.0,263.7 L1426.5,264.2 L1427.0,264.6 L1427.5,265.0 L1428.0,265.5 L1428.5,265.9 L1429.0,266.3 L1429.5,266.8 L1430.0,267.2 L1430.5,267.7 L1431.0,268.1 L1431.5,268.6 L1432.0,269.0 L1432.5,269.5 L1433.0,270.0 L1433.5,270.4 L1434.0,270.9 L1434.5,271.4 L1435.0,271.8 L1435.5,272.3 L1436.0,272.8 L1436.5,273.2 L1437.0,273.7 L1437.5,274.2 L1438.0,274.7 L1438.5,275.1 L1439.0,275.6 L1439.5,276.1 L1440.0,276.6 L1440.5,277.1 L1441.0,277.6 L1441.5,278.1 L1442.0,278.6 L1442.5,279.1 L1443.0,279.6 L1443.5,280.1 L1444.0,280.6 L1444.5,281.1 L1445.0,281.6 L1445.5,282.1 L1446.0,282.7 L1446.5,283.2 L1447.0,283.7 L1447.5,284.2 L1448.0,284.8 L1448.5,285.3 L1449.0,285.8 L1449.5,286.4 L1450.0,286.9 L1450.5,287.5 L1451.0,288.0 L1451.5,288.6 L1452.0,289.2 L1452.5,289.7 L1453.0,290.3 L1453.5,290.9 L1454.0,291.4 L1454.5,292.0 L1455.0,292.6 L1455.5,293.2 L1456.0,293.8 L1456.5,294.4 L1457.0,295.0 L1457.5,295.6 L1458.0,296.2 L1458.5,296.8 L1459.0,297.4 L1459.5,298.0 L1460.0,298.7 L1460.5,299.3 L1461.0,299.9 L1461.5,300.6 L1462.0,301.2 L1462.5,301.9 L1463.0,302.5 L1463.5,303.2 L1464.0,303.8 L1464.5,304.5 L1465.0,305.2 L1465.5,305.9 L1466.0,306.5 L1466.5,307.2 L1467.0,307.9 L1467.5,308.6 L1468.0,309.3 L1468.5,310.0 L1469.0,310.7 L1469.5,311.5 L1470.0,312.2 L1470.5,312.9 L1471.0,313.7 L1471.5,314.4 L1472.0,315.2 L1472.5,315.9 L1473.0,316.7 L1473.5,317.4 L1474.0,318.2 L1474.5,319.0 L1475.0,319.8 L1475.5,320.6 L1476.0,321.4 L1476.5,322.2 L1477.0,323.0 L1477.5,323.8 L1478.0,324.6 L1478.5,325.4 L1479.0,326.3 L1479.5,327.1 L1480.0,328.0 L1480.5,328.8 L1481.0,329.7 L1481.5,330.5 L1482.0,331.4 L1482.5,332.3 L1483.0,333.2 L1483.5,334.1 L1484.0,335.0 L1484.5,335.9 L1485.0,336.8 L1485.5,337.7 L1486.0,338.7 L1486.5,339.6 L1487.0,340.5 L1487.5,341.5 L1488.0,342.5 L1488.5,343.4 L1489.0,344.4 L1489.5,345.4 L1490.0,346.4 L1490.5,347.4 L1491.0,348.4 L1491.5,349.4 L1492.0,350.4 L1492.5,351.4 L1493.0,352.5 L1493.5,353.5 L1494.0,354.6 L1494.5,355.6 L1495.0,356.7 L1495.5,357.8 L1496.0,358.9 L1496.5,360.0 L1497.0,361.1 L1497.5,362.2 L1498.0,363.3 L1498.5,364.5 L1499.0,365.6 L1499.5,366.7 L1500.0,367.9 L1500.5,369.1 L1501.0,370.2 L1501.5,371.4 L1502.0,372.6 L1502.5,373.8 L1503.0,375.0 L1503.5,376.3 L1504.0,377.5 L1504.5,378.7 L1505.0,380.0 L1505.5,381.3 L1506.0,382.5 L1506.5,383.8 L1507.0,385.1 L1507.5,386.4 L1508.0,387.7 L1508.5,389.0 L1509.0,390.4 L1509.5,391.7 L1510.0,393.0 L1510.5,394.4 L1511.0,395.8 L1511.5,397.2 L1512.0,398.6 L1512.5,400.0 L1513.0,401.4 L1513.5,402.8 L1514.0,404.2 L1514.5,405.7 L1515.0,407.1 L1515.5,408.6 L1516.0,410.1 L1516.5,411.6 L1517.0,413.1 L1517.5,414.6 L1518.0,416.1 L1518.5,417.6" fill="none" stroke="#ffff00" stroke-width="2.2" stroke-dasharray="8 2.5" stroke-linejoin="round"/>
<path d="M263.3,750.6 L263.8,748.8 L264.3,747.0 L264.8,745.2 L265.3,743.4 L265.8,741.6 L266.3,739.8 L266.8,738.0 L267.3,736.3 L267.8,734.5 L268.3,732.7 L268.8,730.9 L269.3,729.2 L269.8,727.4 L270.3,725.6 L270.8,723.9 L271.3,722.1 L271.8,720.4 L272.3,718.6 L272.8,716.9 L273.3,715.1 L273.8,713.4 L274.3,711.6 L274.8,709.9 L275.3,708.1 L275.8,706.4 L276.3,704.7 L276.8,702.9 L277.3,701.2 L277.8,699.5 L278.3,697.8 L278.8,696.0 L279.3,694.3 L279.8,692.6 L280.3,690.9 L280.8,689.2 L281.3,687.5 L281.8,685.8 L282.3,684.1 L282.8,682.4 L283.3,680.7 L283.8,679.0 L284.3,677.3 L284.8,675.6 L285.3,674.0 L285.8,672.3 L286.3,670.6 L286.8,668.9 L287.3,667.3 L287.8,665.6 L288.3,663.9 L288.8,662.3 L289.3,660.6 L289.8,659.0 L290.3,657.3 L290.8,655.7 L291.3,654.0 L291.8,652.4 L292.3,650.7 L292.8,649.1 L293.3,647.5 L293.8,645.8 L294.3,644.2 L294.8,642.6 L295.3,641.0 L295.8,639.3 L296.3,637.7 L296.8,636.1 L297.3,634.5 L297.8,632.9 L298.3,631.3 L298.8,629.7 L299.3,628.1 L299.8,626.5 L300.3,624.9 L300.8,623.3 L301.3,621.7 L301.8,620.2 L302.3,618.6 L302.8,617.0 L303.3,615.4 L303.8,613.9 L304.3,612.3 L304.8,610.7 L305.3,609.2 L305.8,607.6 L306.3,606.1 L306.8,604.5 L307.3,603.0 L307.8,601.4 L308.3,599.9 L308.8,598.3 L309.3,596.8 L309.8,595.3 L310.3,593.8 L310.8,592.2 L311.3,590.7 L311.8,589.2 L312.3,587.7 L312.8,586.2 L313.3,584.7 L313.8,583.2 L314.3,581.7 L314.8,580.2 L315.3,578.7 L315.8,577.2 L316.3,575.7 L316.8,574.2 L317.3,572.7 L317.8,571.3 L318.3,569.8 L318.8,568.3 L319.3,566.9 L319.8,565.4 L320.3,563.9 L320.8,562.5 L321.3,561.0 L321.8,559.6 L322.3,558.1 L322.8,556.7 L323.3,555.2 L323.8,553.8 L324.3,552.4 L324.8,550.9 L325.3,549.5 L325.8,548.1 L326.3,546.7 L326.8,545.3 L327.3,543.8 L327.8,542.4 L328.3,541.0 L328.8,539.6 L329.3,538.2 L329.8,536.8 L330.3,535.4 L330.8,534.1 L331.3,532.7 L331.8,531.3 L332.3,529.9 L332.8,528.5 L333.3,527.2 L333.8,525.8 L334.3,524.4 L334.8,523.1 L335.3,521.7 L335.8,520.4 L336.3,519.0 L336.8,517.7 L337.3,516.3 L337.8,515.0 L338.3,513.6 L338.8,512.3 L339.3,511.0 L339.8,509.6 L340.3,508.3 L340.8,507.0 L341.3,505.7 L341.8,504.4 L342.3,503.1 L342.8,501.7 L343.3,500.4 L343.8,499.1 L344.3,497.8 L344.8,496.6 L345.3,495.3 L345.8,494.0 L346.3,492.7 L346.8,491.4 L347.3,490.1 L347.8,488.9 L348.3,487.6 L348.8,486.3 L349.3,485.1 L349.8,483.8 L350.3,482.6 L350.8,481.3 L351.3,480.1 L351.8,478.8 L352.3,477.6 L352.8,476.3 L353.3,475.1 L353.8,473.9 L354.3,472.6 L354.8,471.4 L355.3,470.2 L355.8,469.0 L356.3,467.8 L356.8,466.6 L357.3,465.4 L357.8,464.2 L358.3,463.0 L358.8,461.8 L359.3,460.6 L359.8,459.4 L360.3,458.2 L360.8,457.0 L361.3,455.8 L361.8,454.7 L362.3,453.5 L362.8,452.3 L363.3,451.2 L363.8,450.0 L364.3,448.9 L364.8,447.7 L365.3,446.6 L365.8,445.4 L366.3,444.3 L366.8,443.1 L367.3,442.0 L367.8,440.9 L368.3,439.7 L368.8,438.6 L369.3,437.5 L369.8,436.4 L370.3,435.3 L370.8,434.2 L371.3,433.1 L371.8,432.0 L372.3,430.9 L372.8,429.8 L373.3,428.7 L373.8,427.6 L374.3,426.5 L374.8,425.4 L375.3,424.3 L375.8,423.3 L376.3,422.2 L376.8,421.1 L377.3,420.1 L377.8,419.0 L378.3,418.0 L378.8,416.9 L379.3,415.9 L379.8,414.8 L380.3,413.8 L380.8,412.7 L381.3,411.7 L381.8,410.7 L382.3,409.6 L382.8,408.6 L383.3,407.6 L383.8,406.6 L384.3,405.6 L384.8,404.6 L385.3,403.6 L385.8,402.6 L386.3,401.6 L386.8,400.6 L387.3,399.6 L387.8,398.6 L388.3,397.6 L388.8,396.6 L389.3,395.7 L389.8,394.7 L390.3,393.7 L390.8,392.8 L391.3,391.8 L391.8,390.8 L392.3,389.9 L392.8,388.9 L393.3,388.0 L393.8,387.1 L394.3,386.1 L394.8,385.2 L395.3,384.2 L395.8,383.3 L396.3,382.4 L396.8,381.5 L397.3,380.6 L397.8,379.7 L398.3,378.7 L398.8,377.8 L399.3,376.9 L399.8,376.0 L400.3,375.1 L400.8,374.3 L401.3,373.4 L401.8,372.5 L402.3,371.6 L402.8,370.7 L403.3,369.9 L403.8,369.0 L404.3,368.1 L404.8,367.3 L405.3,366.4 L405.8,365.6 L406.3,364.7 L406.8,363.9 L407.3,363.0 L407.8,362.2 L408.3,361.3 L408.8,360.5 L409.3,359.7 L409.8,358.8 L410.3,358.0 L410.8,357.2 L411.3,356.4 L411.8,355.6 L412.3,354.8 L412.8,354.0 L413.3,353.2 L413.8,352.4 L414.3,351.6 L414.8,350.8 L415.3,350.0 L415.8,349.2 L416.3,348.4 L416.8,347.6 L417.3,346.9 L417.8,346.1 L418.3,345.3 L418.8,344.5 L419.3,343.8 L419.8,343.0 L420.3,342.3 L420.8,341.5 L421.3,340.8 L421.8,340.0 L422.3,339.3 L422.8,338.5 L423.3,337.8 L423.8,337.0 L424.3,336.3 L424.8,335.6 L425.3,334.9 L425.8,334.1 L426.3,333.4 L426.8,332.7 L427.3,332.0 L427.8,331.3 L428.3,330.6 L428.8,329.8 L429.3,329.1 L429.8,328.4 L430.3,327.7 L430.8,327.0 L431.3,326.4 L431.8,325.7 L432.3,325.0 L432.8,324.3 L433.3,323.6 L433.8,322.9 L434.3,322.3 L434.8,321.6 L435.3,320.9 L435.8,320.3 L436.3,319.6 L436.8,318.9 L437.3,318.3 L437.8,317.6 L438.3,317.0 L438.8,316.3 L439.3,315.7 L439.8,315.0 L440.3,314.4 L440.8,313.7 L441.3,313.1 L441.8,312.5 L442.3,311.8 L442.8,311.2 L443.3,310.6 L443.8,310.0 L444.3,309.3 L444.8,308.7 L445.3,308.1 L445.8,307.5 L446.3,306.9 L446.8,306.3 L447.3,305.7 L447.8,305.1 L448.3,304.5 L448.8,303.9 L449.3,303.3 L449.8,302.7 L450.3,302.1 L450.8,301.5 L451.3,300.9 L451.8,300.3 L452.3,299.7 L452.8,299.1 L453.3,298.6 L453.8,298.0 L454.3,297.4 L454.8,296.8 L455.3,296.3 L455.8,295.7 L456.3,295.1 L456.8,294.6 L457.3,294.0 L457.8,293.5 L458.3,292.9 L458.8,292.4 L459.3,291.8 L459.8,291.3 L460.3,290.7 L460.8,290.2 L461.3,289.6 L461.8,289.1 L462.3,288.5 L462.8,288.0 L463.3,287.5 L463.8,286.9 L464.3,286.4 L464.8,285.9 L465.3,285.4 L465.8,284.8 L466.3,284.3 L466.8,283.8 L467.3,283.3 L467.8,282.8 L468.3,282.2 L468.8,281.7 L469.3,281.2 L469.8,280.7 L470.3,280.2 L470.8,279.7 L471.3,279.2 L471.8,278.7 L472.3,278.2 L472.8,277.7 L473.3,277.2 L473.8,276.7 L474.3,276.2 L474.8,275.7 L475.3,275.2 L475.8,274.7 L476.3,274.3 L476.8,273.8 L477.3,273.3 L477.8,272.8 L478.3,272.3 L478.8,271.9 L479.3,271.4 L479.8,270.9 L480.3,270.4 L480.8,270.0 L481.3,269.5 L481.8,269.0 L482.3,268.6 L482.8,268.1 L483.3,267.6 L483.8,267.2 L484.3,266.7 L484.8,266.3 L485.3,265.8 L485.8,265.3 L486.3,264.9 L486.8,264.4 L487.3,264.0 L487.8,263.5 L488.3,263.1 L488.8,262.7 L489.3,262.2 L489.8,261.8 L490.3,261.3 L490.8,260.9 L491.3,260.5 L491.8,260.0 L492.3,259.6 L492.8,259.2 L493.3,258.7 L493.8,258.3 L494.3,257.9 L494.8,257.5 L495.3,257.0 L495.8,256.6 L496.3,256.2 L496.8,255.8 L497.3,255.4 L497.8,254.9 L498.3,254.5 L498.8,254.1 L499.3,253.7 L499.8,253.3 L500.3,252.9 L500.8,252.5 L501.3,252.1 L501.8,251.7 L502.3,251.3 L502.8,250.9 L503.3,250.5 L503.8,250.1 L504.3,249.7 L504.8,249.3 L505.3,248.9 L505.8,248.5 L506.3,248.1 L506.8,247.7 L507.3,247.3 L507.8,247.0 L508.3,246.6 L508.8,246.2 L509.3,245.8 L509.8,245.4 L510.3,245.1 L510.8,244.7 L511.3,244.3 L511.8,243.9 L512.3,243.6 L512.8,243.2 L513.3,242.8 L513.8,242.5 L514.3,242.1 L514.8,241.7 L515.3,241.4 L515.8,241.0 L516.3,240.7 L516.8,240.3 L517.3,239.9 L517.8,239.6 L518.3,239.2 L518.8,238.9 L519.3,238.5 L519.8,238.2 L520.3,237.8 L520.8,237.5 L521.3,237.2 L521.8,236.8 L522.3,236.5 L522.8,236.1 L523.3,235.8 L523.8,235.5 L524.3,235.1 L524.8,234.8 L525.3,234.5 L525.8,234.1 L526.3,233.8 L526.8,233.5 L527.3,233.2 L527.8,232.8 L528.3,232.5 L528.8,232.2 L529.3,231.9 L529.8,231.5 L530.3,231.2 L530.8,230.9 L531.3,230.6 L531.8,230.3 L532.3,230.0 L532.8,229.7 L533.3,229.4 L533.8,229.0 L534.3,228.7 L534.8,228.4 L535.3,228.1 L535.8,227.8 L536.3,227.5 L536.8,227.2 L537.3,226.9 L537.8,226.6 L538.3,226.3 L538.8,226.1 L539.3,225.8 L539.8,225.5 L540.3,225.2 L540.8,224.9 L541.3,224.6 L541.8,224.3 L542.3,224.0 L542.8,223.8 L543.3,223.5 L543.8,223.2 L544.3,222.9 L544.8,222.6 L545.3,222.4 L545.8,222.1 L546.3,221.8 L546.8,221.6 L547.3,221.3 L547.8,221.0 L548.3,220.7 L548.8,220.5 L549.3,220.2 L549.8,220.0 L550.3,219.7 L550.8,219.4 L551.3,219.2 L551.8,218.9 L552.3,218.7 L552.8,218.4 L553.3,218.2 L553.8,217.9 L554.3,217.7 L554.8,217.4 L555.3,217.2 L555.8,216.9 L556.3,216.7 L556.8,216.4 L557.3,216.2 L557.8,215.9 L558.3,215.7 L558.8,215.5 L559.3,215.2 L559.8,215.0 L560.3,214.7 L560.8,214.5 L561.3,214.3 L561.8,214.0 L562.3,213.8 L562.8,213.6 L563.3,213.4 L563.8,213.1 L564.3,212.9 L564.8,212.7 L565.3,212.5 L565.8,212.2 L566.3,212.0 L566.8,211.8 L567.3,211.6 L567.8,211.4 L568.3,211.2 L568.8,210.9 L569.3,210.7 L569.8,210.5 L570.3,210.3 L570.8,210.1 L571.3,209.9 L571.8,209.7 L572.3,209.5 L572.8,209.3 L573.3,209.1 L573.8,208.9 L574.3,208.7 L574.8,208.5 L575.3,208.3 L575.8,208.1 L576.3,207.9 L576.8,207.7 L577.3,207.5 L577.8,207.3 L578.3,207.1 L578.8,206.9 L579.3,206.7 L579.8,206.5 L580.3,206.4 L580.8,206.2 L581.3,206.0 L581.8,205.8 L582.3,205.6 L582.8,205.4 L583.3,205.3 L583.8,205.1 L584.3,204.9 L584.8,204.7 L585.3,204.6 L585.8,204.4 L586.3,204.2 L586.8,204.0 L587.3,203.9 L587.8,203.7 L588.3,203.5 L588.8,203.4 L589.3,203.2 L589.8,203.0 L590.3,202.9 L590.8,202.7 L591.3,202.5 L591.8,202.4 L592.3,202.2 L592.8,202.1 L593.3,201.9 L593.8,201.7 L594.3,201.6 L594.8,201.4 L595.3,201.3 L595.8,201.1 L596.3,201.0 L596.8,200.8 L597.3,200.7 L597.8,200.5 L598.3,200.4 L598.8,200.2 L599.3,200.1 L599.8,199.9 L600.3,199.8 L600.8,199.7 L601.3,199.5 L601.8,199.4 L602.3,199.2 L602.8,199.1 L603.3,199.0 L603.8,198.8 L604.3,198.7 L604.8,198.6 L605.3,198.4 L605.8,198.3 L606.3,198.2 L606.8,198.0 L607.3,197.9 L607.8,197.8 L608.3,197.7 L608.8,197.5 L609.3,197.4 L609.8,197.3 L610.3,197.2 L610.8,197.0 L611.3,196.9 L611.8,196.8 L612.3,196.7 L612.8,196.6 L613.3,196.4 L613.8,196.3 L614.3,196.2 L614.8,196.1 L615.3,196.0 L615.8,195.9 L616.3,195.7 L616.8,195.6 L617.3,195.5 L617.8,195.4 L618.3,195.3 L618.8,195.2 L619.3,195.1 L619.8,195.0 L620.3,194.9 L620.8,194.8 L621.3,194.7 L621.8,194.6 L622.3,194.5 L622.8,194.4 L623.3,194.3 L623.8,194.2 L624.3,194.1 L624.8,194.0 L625.3,193.9 L625.8,193.8 L626.3,193.7 L626.8,193.6 L627.3,193.5 L627.8,193.4 L628.3,193.3 L628.8,193.2 L629.3,193.1 L629.8,193.1 L630.3,193.0 L630.8,192.9 L631.3,192.8 L631.8,192.7 L632.3,192.6 L632.8,192.5 L633.3,192.5 L633.8,192.4 L634.3,192.3 L634.8,192.2 L635.3,192.1 L635.8,192.1 L636.3,192.0 L636.8,191.9 L637.3,191.8 L637.8,191.8 L638.3,191.7 L638.8,191.6 L639.3,191.5 L639.8,191.5 L640.3,191.4 L640.8,191.3 L641.3,191.2 L641.8,191.2 L642.3,191.1 L642.8,191.0 L643.3,191.0 L643.8,190.9 L644.3,190.8 L644.8,190.8 L645.3,190.7 L645.8,190.6 L646.3,190.6 L646.8,190.5 L647.3,190.5 L647.8,190.4 L648.3,190.3 L648.8,190.3 L649.3,190.2 L649.8,190.2 L650.3,190.1 L650.8,190.0 L651.3,190.0 L651.8,189.9 L652.3,189.9 L652.8,189.8 L653.3,189.8 L653.8,189.7 L654.3,189.7 L654.8,189.6 L655.3,189.6 L655.8,189.5 L656.3,189.5 L656.8,189.4 L657.3,189.4 L657.8,189.3 L658.3,189.3 L658.8,189.2 L659.3,189.2 L659.8,189.1 L660.3,189.1 L660.8,189.1 L661.3,189.0 L661.8,189.0 L662.3,188.9 L662.8,188.9 L663.3,188.8 L663.8,188.8 L664.3,188.8 L664.8,188.7 L665.3,188.7 L665.8,188.7 L666.3,188.6 L666.8,188.6 L667.3,188.5 L667.8,188.5 L668.3,188.5 L668.8,188.4 L669.3,188.4 L669.8,188.4 L670.3,188.3 L670.8,188.3 L671.3,188.3 L671.8,188.2 L672.3,188.2 L672.8,188.2 L673.3,188.2 L673.8,188.1 L674.3,188.1 L674.8,188.1 L675.3,188.1 L675.8,188.0 L676.3,188.0 L676.8,188.0 L677.3,187.9 L677.8,187.9 L678.3,187.9 L678.8,187.9 L679.3,187.9 L679.8,187.8 L680.3,187.8 L680.8,187.8 L681.3,187.8 L681.8,187.7 L682.3,187.7 L682.8,187.7 L683.3,187.7 L683.8,187.7 L684.3,187.7 L684.8,187.6 L685.3,187.6 L685.8,187.6 L686.3,187.6 L686.8,187.6 L687.3,187.6 L687.8,187.5 L688.3,187.5 L688.8,187.5 L689.3,187.5 L689.8,187.5 L700.0,187.3 L1240.0,187.3 L1250.0,188.7 L1250.5,188.7 L1251.0,188.8 L1251.5,188.8 L1252.0,188.9 L1252.5,189.0 L1253.0,189.0 L1253.5,189.1 L1254.0,189.1 L1254.5,189.2 L1255.0,189.3 L1255.5,189.4 L1256.0,189.4 L1256.5,189.5 L1257.0,189.6 L1257.5,189.6 L1258.0,189.7 L1258.5,189.8 L1259.0,189.9 L1259.5,189.9 L1260.0,190.0 L1260.5,190.1 L1261.0,190.2 L1261.5,190.3 L1262.0,190.3 L1262.5,190.4 L1263.0,190.5 L1263.5,190.6 L1264.0,190.7 L1264.5,190.8 L1265.0,190.9 L1265.5,191.0 L1266.0,191.0 L1266.5,191.1 L1267.0,191.2 L1267.5,191.3 L1268.0,191.4 L1268.5,191.5 L1269.0,191.6 L1269.5,191.7 L1270.0,191.8 L1270.5,191.9 L1271.0,192.0 L1271.5,192.1 L1272.0,192.2 L1272.5,192.3 L1273.0,192.4 L1273.5,192.5 L1274.0,192.6 L1274.5,192.7 L1275.0,192.8 L1275.5,192.9 L1276.0,193.0 L1276.5,193.2 L1277.0,193.3 L1277.5,193.4 L1278.0,193.5 L1278.5,193.6 L1279.0,193.7 L1279.5,193.8 L1280.0,193.9 L1280.5,194.1 L1281.0,194.2 L1281.5,194.3 L1282.0,194.4 L1282.5,194.5 L1283.0,194.7 L1283.5,194.8 L1284.0,194.9 L1284.5,195.0 L1285.0,195.1 L1285.5,195.3 L1286.0,195.4 L1286.5,195.5 L1287.0,195.6 L1287.5,195.8 L1288.0,195.9 L1288.5,196.0 L1289.0,196.1 L1289.5,196.3 L1290.0,196.4 L1290.5,196.5 L1291.0,196.7 L1291.5,196.8 L1292.0,196.9 L1292.5,197.1 L1293.0,197.2 L1293.5,197.3 L1294.0,197.5 L1294.5,197.6 L1295.0,197.7 L1295.5,197.9 L1296.0,198.0 L1296.5,198.1 L1297.0,198.3 L1297.5,198.4 L1298.0,198.5 L1298.5,198.7 L1299.0,198.8 L1299.5,199.0 L1300.0,199.1 L1300.5,199.2 L1301.0,199.4 L1301.5,199.5 L1302.0,199.7 L1302.5,199.8 L1303.0,200.0 L1303.5,200.1 L1304.0,200.3 L1304.5,200.4 L1305.0,200.5 L1305.5,200.7 L1306.0,200.8 L1306.5,201.0 L1307.0,201.1 L1307.5,201.3 L1308.0,201.4 L1308.5,201.6 L1309.0,201.7 L1309.5,201.9 L1310.0,202.0 L1310.5,202.2 L1311.0,202.3 L1311.5,202.5 L1312.0,202.6 L1312.5,202.8 L1313.0,202.9 L1313.5,203.1 L1314.0,203.2 L1314.5,203.4 L1315.0,203.5 L1315.5,203.7 L1316.0,203.9 L1316.5,204.0 L1317.0,204.2 L1317.5,204.3 L1318.0,204.5 L1318.5,204.6 L1319.0,204.8 L1319.5,204.9 L1320.0,205.1 L1320.5,205.3 L1321.0,205.4 L1321.5,205.6 L1322.0,205.7 L1322.5,205.9 L1323.0,206.0 L1323.5,206.2 L1324.0,206.4 L1324.5,206.5 L1325.0,206.7 L1325.5,206.8 L1326.0,207.0 L1326.5,207.2 L1327.0,207.3 L1327.5,207.5 L1328.0,207.6 L1328.5,207.8 L1329.0,208.0 L1329.5,208.1 L1330.0,208.3 L1330.5,208.4 L1331.0,208.6 L1331.5,208.8 L1332.0,208.9 L1332.5,209.1 L1333.0,209.3 L1333.5,209.4 L1334.0,209.6 L1334.5,209.8 L1335.0,210.0 L1335.5,210.1 L1336.0,210.3 L1336.5,210.5 L1337.0,210.7 L1337.5,210.8 L1338.0,211.0 L1338.5,211.2 L1339.0,211.4 L1339.5,211.6 L1340.0,211.7 L1340.5,211.9 L1341.0,212.1 L1341.5,212.3 L1342.0,212.5 L1342.5,212.7 L1343.0,212.9 L1343.5,213.1 L1344.0,213.3 L1344.5,213.5 L1345.0,213.7 L1345.5,213.9 L1346.0,214.1 L1346.5,214.3 L1347.0,214.5 L1347.5,214.7 L1348.0,215.0 L1348.5,215.2 L1349.0,215.4 L1349.5,215.6 L1350.0,215.8 L1350.5,216.1 L1351.0,216.3 L1351.5,216.5 L1352.0,216.8 L1352.5,217.0 L1353.0,217.2 L1353.5,217.5 L1354.0,217.7 L1354.5,218.0 L1355.0,218.2 L1355.5,218.5 L1356.0,218.7 L1356.5,219.0 L1357.0,219.3 L1357.5,219.5 L1358.0,219.8 L1358.5,220.1 L1359.0,220.4 L1359.5,220.6 L1360.0,220.9 L1360.5,221.2 L1361.0,221.5 L1361.5,221.8 L1362.0,222.1 L1362.5,222.4 L1363.0,222.7 L1363.5,223.0 L1364.0,223.3 L1364.5,223.6 L1365.0,224.0 L1365.5,224.3 L1366.0,224.6 L1366.5,224.9 L1367.0,225.3 L1367.5,225.6 L1368.0,226.0 L1368.5,226.3 L1369.0,226.7 L1369.5,227.0 L1370.0,227.4 L1370.5,227.7 L1371.0,228.1 L1371.5,228.5 L1372.0,228.9 L1372.5,229.2 L1373.0,229.6 L1373.5,230.0 L1374.0,230.4 L1374.5,230.8 L1375.0,231.2 L1375.5,231.6 L1376.0,232.0 L1376.5,232.5 L1377.0,232.9 L1377.5,233.3 L1378.0,233.7 L1378.5,234.2 L1379.0,234.6 L1379.5,235.1 L1380.0,235.5 L1380.5,236.0 L1381.0,236.5 L1381.5,236.9 L1382.0,237.4 L1382.5,237.9 L1383.0,238.4 L1383.5,238.9 L1384.0,239.4 L1384.5,239.9 L1385.0,240.4 L1385.5,240.9 L1386.0,241.4 L1386.5,241.9 L1387.0,242.5 L1387.5,243.0 L1388.0,243.5 L1388.5,244.1 L1389.0,244.6 L1389.5,245.2 L1390.0,245.8 L1390.5,246.3 L1391.0,246.9 L1391.5,247.5 L1392.0,248.1 L1392.5,248.7 L1393.0,249.3 L1393.5,249.9 L1394.0,250.5 L1394.5,251.1 L1395.0,251.8 L1395.5,252.4 L1396.0,253.1 L1396.5,253.7 L1397.0,254.4 L1397.5,255.0 L1398.0,255.7 L1398.5,256.4 L1399.0,257.0 L1399.5,257.7 L1400.0,258.4 L1400.5,259.1 L1401.0,259.8 L1401.5,260.5 L1402.0,261.3 L1402.5,262.0 L1403.0,262.7 L1403.5,263.5 L1404.0,264.2 L1404.5,265.0 L1405.0,265.7 L1405.5,266.5 L1406.0,267.3 L1406.5,268.1 L1407.0,268.9 L1407.5,269.7 L1408.0,270.5 L1408.5,271.3 L1409.0,272.1 L1409.5,272.9 L1410.0,273.8 L1410.5,274.6 L1411.0,275.5 L1411.5,276.3 L1412.0,277.2 L1412.5,278.1 L1413.0,279.0 L1413.5,279.8 L1414.0,280.7 L1414.5,281.6 L1415.0,282.6 L1415.5,283.5 L1416.0,284.4 L1416.5,285.3 L1417.0,286.3 L1417.5,287.2 L1418.0,288.2 L1418.5,289.2 L1419.0,290.1 L1419.5,291.1 L1420.0,292.1 L1420.5,293.1 L1421.0,294.1 L1421.5,295.1 L1422.0,296.2 L1422.5,297.2 L1423.0,298.2 L1423.5,299.3 L1424.0,300.3 L1424.5,301.4 L1425.0,302.5 L1425.5,303.6 L1426.0,304.7 L1426.5,305.8 L1427.0,306.9 L1427.5,308.0 L1428.0,309.1 L1428.5,310.2 L1429.0,311.4 L1429.5,312.5 L1430.0,313.7 L1430.5,314.9 L1431.0,316.0 L1431.5,317.2 L1432.0,318.4 L1432.5,319.6 L1433.0,320.8 L1433.5,322.1 L1434.0,323.3 L1434.5,324.5 L1435.0,325.8 L1435.5,327.0 L1436.0,328.3 L1436.5,329.6 L1437.0,330.9 L1437.5,332.2 L1438.0,333.5 L1438.5,334.8 L1439.0,336.1 L1439.5,337.4 L1440.0,338.8 L1440.5,340.1 L1441.0,341.5 L1441.5,342.9 L1442.0,344.2 L1442.5,345.6 L1443.0,347.0 L1443.5,348.4 L1444.0,349.8 L1444.5,351.3 L1445.0,352.7 L1445.5,354.1 L1446.0,355.6 L1446.5,357.0 L1447.0,358.5 L1447.5,360.0 L1448.0,361.5 L1448.5,362.9 L1449.0,364.4 L1449.5,365.9 L1450.0,367.5 L1450.5,369.0 L1451.0,370.5 L1451.5,372.0 L1452.0,373.6 L1452.5,375.1 L1453.0,376.7 L1453.5,378.3 L1454.0,379.8 L1454.5,381.4 L1455.0,383.0 L1455.5,384.6 L1456.0,386.2 L1456.5,387.8 L1457.0,389.4 L1457.5,391.1 L1458.0,392.7 L1458.5,394.3 L1459.0,396.0 L1459.5,397.6 L1460.0,399.3 L1460.5,400.9 L1461.0,402.6 L1461.5,404.3 L1462.0,406.0 L1462.5,407.7 L1463.0,409.4 L1463.5,411.1 L1464.0,412.8 L1464.5,414.5 L1465.0,416.2 L1465.5,417.9 L1466.0,419.7 L1466.5,421.4 L1467.0,423.1 L1467.5,424.9 L1468.0,426.7 L1468.5,428.4 L1469.0,430.2 L1469.5,432.0 L1470.0,433.7 L1470.5,435.5 L1471.0,437.3 L1471.5,439.1 L1472.0,440.9 L1472.5,442.7 L1473.0,444.5 L1473.5,446.3 L1474.0,448.2 L1474.5,450.0 L1475.0,451.8 L1475.5,453.7 L1476.0,455.5 L1476.5,457.3 L1477.0,459.2 L1477.5,461.1 L1478.0,462.9 L1478.5,464.8 L1479.0,466.7 L1479.5,468.5 L1480.0,470.4 L1480.5,472.3 L1481.0,474.2 L1481.5,476.1 L1482.0,478.0 L1482.5,479.9 L1483.0,481.9 L1483.5,483.8 L1484.0,485.7 L1484.5,487.6 L1485.0,489.6 L1485.5,491.5 L1486.0,493.5 L1486.5,495.4 L1487.0,497.4 L1487.5,499.4 L1488.0,501.3 L1488.5,503.3 L1489.0,505.3 L1489.5,507.3 L1490.0,509.3 L1490.5,511.3 L1491.0,513.3 L1491.5,515.3 L1492.0,517.3 L1492.5,519.3 L1493.0,521.3 L1493.5,523.4 L1494.0,525.4 L1494.5,527.5 L1495.0,529.5 L1495.5,531.6 L1496.0,533.6 L1496.5,535.7 L1497.0,537.7 L1497.5,539.8 L1498.0,541.9 L1498.5,544.0 L1499.0,546.1 L1499.5,548.2 L1500.0,550.3 L1500.5,552.4 L1501.0,554.5 L1501.5,556.6 L1502.0,558.7 L1502.5,560.8 L1503.0,563.0 L1503.5,565.1 L1504.0,567.3 L1504.5,569.4 L1505.0,571.6 L1505.5,573.7 L1506.0,575.9 L1506.5,578.0 L1507.0,580.2 L1507.5,582.4 L1508.0,584.6 L1508.5,586.8 L1509.0,589.0 L1509.5,591.2 L1510.0,593.4 L1510.5,595.6 L1511.0,597.8 L1511.5,600.0 L1512.0,602.2 L1512.5,604.5 L1513.0,606.7 L1513.5,609.0 L1514.0,611.2 L1514.5,613.4 L1515.0,615.7 L1515.5,618.0 L1516.0,620.2 L1516.5,622.5 L1517.0,624.8 L1517.5,627.1 L1518.0,629.3 L1518.5,631.6" fill="none" stroke="#808000" stroke-width="2.2" stroke-dasharray="9 4 2.5 4" stroke-linejoin="round"/>
<path d="M263.3,1000.5 L263.8,999.1 L264.3,997.6 L264.8,996.2 L265.3,994.7 L265.8,993.3 L266.3,991.8 L266.8,990.4 L267.3,988.9 L267.8,987.4 L268.3,986.0 L268.8,984.5 L269.3,983.0 L269.8,981.6 L270.3,980.1 L270.8,978.6 L271.3,977.1 L271.8,975.6 L272.3,974.1 L272.8,972.7 L273.3,971.2 L273.8,969.7 L274.3,968.2 L274.8,966.7 L275.3,965.2 L275.8,963.7 L276.3,962.2 L276.8,960.6 L277.3,959.1 L277.8,957.6 L278.3,956.1 L278.8,954.6 L279.3,953.1 L279.8,951.5 L280.3,950.0 L280.8,948.5 L281.3,947.0 L281.8,945.4 L282.3,943.9 L282.8,942.4 L283.3,940.8 L283.8,939.3 L284.3,937.8 L284.8,936.2 L285.3,934.7 L285.8,933.1 L286.3,931.6 L286.8,930.1 L287.3,928.5 L287.8,927.0 L288.3,925.4 L288.8,923.9 L289.3,922.3 L289.8,920.8 L290.3,919.2 L290.8,917.6 L291.3,916.1 L291.8,914.5 L292.3,913.0 L292.8,911.4 L293.3,909.9 L293.8,908.3 L294.3,906.7 L294.8,905.2 L295.3,903.6 L295.8,902.0 L296.3,900.5 L296.8,898.9 L297.3,897.3 L297.8,895.8 L298.3,894.2 L298.8,892.6 L299.3,891.1 L299.8,889.5 L300.3,887.9 L300.8,886.3 L301.3,884.8 L301.8,883.2 L302.3,881.6 L302.8,880.1 L303.3,878.5 L303.8,876.9 L304.3,875.3 L304.8,873.8 L305.3,872.2 L305.8,870.6 L306.3,869.0 L306.8,867.5 L307.3,865.9 L307.8,864.3 L308.3,862.7 L308.8,861.2 L309.3,859.6 L309.8,858.0 L310.3,856.4 L310.8,854.9 L311.3,853.3 L311.8,851.7 L312.3,850.2 L312.8,848.6 L313.3,847.0 L313.8,845.4 L314.3,843.9 L314.8,842.3 L315.3,840.7 L315.8,839.2 L316.3,837.6 L316.8,836.0 L317.3,834.5 L317.8,832.9 L318.3,831.3 L318.8,829.8 L319.3,828.2 L319.8,826.7 L320.3,825.1 L320.8,823.5 L321.3,822.0 L321.8,820.4 L322.3,818.9 L322.8,817.3 L323.3,815.7 L323.8,814.2 L324.3,812.6 L324.8,811.1 L325.3,809.5 L325.8,808.0 L326.3,806.4 L326.8,804.9 L327.3,803.3 L327.8,801.8 L328.3,800.2 L328.8,798.7 L329.3,797.1 L329.8,795.6 L330.3,794.0 L330.8,792.5 L331.3,790.9 L331.8,789.4 L332.3,787.8 L332.8,786.3 L333.3,784.7 L333.8,783.2 L334.3,781.6 L334.8,780.1 L335.3,778.5 L335.8,777.0 L336.3,775.5 L336.8,773.9 L337.3,772.4 L337.8,770.8 L338.3,769.3 L338.8,767.8 L339.3,766.2 L339.8,764.7 L340.3,763.1 L340.8,761.6 L341.3,760.1 L341.8,758.5 L342.3,757.0 L342.8,755.5 L343.3,753.9 L343.8,752.4 L344.3,750.9 L344.8,749.3 L345.3,747.8 L345.8,746.3 L346.3,744.7 L346.8,743.2 L347.3,741.7 L347.8,740.1 L348.3,738.6 L348.8,737.1 L349.3,735.5 L349.8,734.0 L350.3,732.5 L350.8,730.9 L351.3,729.4 L351.8,727.9 L352.3,726.3 L352.8,724.8 L353.3,723.3 L353.8,721.7 L354.3,720.2 L354.8,718.7 L355.3,717.2 L355.8,715.6 L356.3,714.1 L356.8,712.6 L357.3,711.0 L357.8,709.5 L358.3,708.0 L358.8,706.5 L359.3,704.9 L359.8,703.4 L360.3,701.9 L360.8,700.4 L361.3,698.8 L361.8,697.3 L362.3,695.8 L362.8,694.2 L363.3,692.7 L363.8,691.2 L364.3,689.7 L364.8,688.1 L365.3,686.6 L365.8,685.1 L366.3,683.6 L366.8,682.0 L367.3,680.5 L367.8,679.0 L368.3,677.5 L368.8,675.9 L369.3,674.4 L369.8,672.9 L370.3,671.4 L370.8,669.8 L371.3,668.3 L371.8,666.8 L372.3,665.2 L372.8,663.7 L373.3,662.2 L373.8,660.7 L374.3,659.1 L374.8,657.6 L375.3,656.1 L375.8,654.6 L376.3,653.0 L376.8,651.5 L377.3,650.0 L377.8,648.5 L378.3,646.9 L378.8,645.4 L379.3,643.9 L379.8,642.3 L380.3,640.8 L380.8,639.3 L381.3,637.8 L381.8,636.2 L382.3,634.7 L382.8,633.2 L383.3,631.6 L383.8,630.1 L384.3,628.6 L384.8,627.1 L385.3,625.5 L385.8,624.0 L386.3,622.5 L386.8,620.9 L387.3,619.4 L387.8,617.9 L388.3,616.3 L388.8,614.8 L389.3,613.3 L389.8,611.7 L390.3,610.2 L390.8,608.7 L391.3,607.1 L391.8,605.6 L392.3,604.1 L392.8,602.5 L393.3,601.0 L393.8,599.5 L394.3,597.9 L394.8,596.4 L395.3,594.9 L395.8,593.3 L396.3,591.8 L396.8,590.2 L397.3,588.7 L397.8,587.2 L398.3,585.6 L398.8,584.1 L399.3,582.6 L399.8,581.0 L400.3,579.5 L400.8,577.9 L401.3,576.4 L401.8,574.8 L402.3,573.3 L402.8,571.8 L403.3,570.2 L403.8,568.7 L404.3,567.1 L404.8,565.6 L405.3,564.0 L405.8,562.5 L406.3,561.0 L406.8,559.4 L407.3,557.9 L407.8,556.3 L408.3,554.8 L408.8,553.3 L409.3,551.7 L409.8,550.2 L410.3,548.6 L410.8,547.1 L411.3,545.6 L411.8,544.0 L412.3,542.5 L412.8,541.0 L413.3,539.4 L413.8,537.9 L414.3,536.4 L414.8,534.8 L415.3,533.3 L415.8,531.8 L416.3,530.3 L416.8,528.7 L417.3,527.2 L417.8,525.7 L418.3,524.2 L418.8,522.6 L419.3,521.1 L419.8,519.6 L420.3,518.1 L420.8,516.6 L421.3,515.1 L421.8,513.6 L422.3,512.1 L422.8,510.6 L423.3,509.1 L423.8,507.6 L424.3,506.1 L424.8,504.6 L425.3,503.1 L425.8,501.6 L426.3,500.1 L426.8,498.6 L427.3,497.1 L427.8,495.7 L428.3,494.2 L428.8,492.7 L429.3,491.3 L429.8,489.8 L430.3,488.3 L430.8,486.9 L431.3,485.4 L431.8,483.9 L432.3,482.5 L432.8,481.0 L433.3,479.6 L433.8,478.2 L434.3,476.7 L434.8,475.3 L435.3,473.9 L435.8,472.4 L436.3,471.0 L436.8,469.6 L437.3,468.2 L437.8,466.8 L438.3,465.3 L438.8,463.9 L439.3,462.5 L439.8,461.1 L440.3,459.8 L440.8,458.4 L441.3,457.0 L441.8,455.6 L442.3,454.2 L442.8,452.9 L443.3,451.5 L443.8,450.1 L444.3,448.8 L444.8,447.4 L445.3,446.1 L445.8,444.7 L446.3,443.4 L446.8,442.1 L447.3,440.7 L447.8,439.4 L448.3,438.1 L448.8,436.8 L449.3,435.5 L449.8,434.2 L450.3,432.9 L450.8,431.6 L451.3,430.3 L451.8,429.0 L452.3,427.7 L452.8,426.5 L453.3,425.2 L453.8,423.9 L454.3,422.7 L454.8,421.4 L455.3,420.2 L455.8,419.0 L456.3,417.7 L456.8,416.5 L457.3,415.3 L457.8,414.1 L458.3,412.9 L458.8,411.6 L459.3,410.4 L459.8,409.2 L460.3,408.0 L460.8,406.8 L461.3,405.7 L461.8,404.5 L462.3,403.3 L462.8,402.1 L463.3,400.9 L463.8,399.7 L464.3,398.5 L464.8,397.4 L465.3,396.2 L465.8,395.0 L466.3,393.8 L466.8,392.7 L467.3,391.5 L467.8,390.3 L468.3,389.1 L468.8,388.0 L469.3,386.8 L469.8,385.6 L470.3,384.4 L470.8,383.3 L471.3,382.1 L471.8,380.9 L472.3,379.7 L472.8,378.6 L473.3,377.4 L473.8,376.2 L474.3,375.0 L474.8,373.8 L475.3,372.6 L475.8,371.5 L476.3,370.3 L476.8,369.1 L477.3,367.9 L477.8,366.7 L478.3,365.5 L478.8,364.4 L479.3,363.2 L479.8,362.0 L480.3,360.8 L480.8,359.7 L481.3,358.5 L481.8,357.3 L482.3,356.2 L482.8,355.0 L483.3,353.8 L483.8,352.7 L484.3,351.5 L484.8,350.3 L485.3,349.2 L485.8,348.0 L486.3,346.9 L486.8,345.7 L487.3,344.6 L487.8,343.5 L488.3,342.3 L488.8,341.2 L489.3,340.1 L489.8,339.0 L490.3,337.9 L490.8,336.7 L491.3,335.6 L491.8,334.5 L492.3,333.4 L492.8,332.3 L493.3,331.2 L493.8,330.2 L494.3,329.1 L494.8,328.0 L495.3,326.9 L495.8,325.9 L496.3,324.8 L496.8,323.7 L497.3,322.7 L497.8,321.6 L498.3,320.6 L498.8,319.6 L499.3,318.5 L499.8,317.5 L500.3,316.5 L500.8,315.5 L501.3,314.4 L501.8,313.4 L502.3,312.4 L502.8,311.4 L503.3,310.4 L503.8,309.4 L504.3,308.4 L504.8,307.4 L505.3,306.5 L505.8,305.5 L506.3,304.5 L506.8,303.5 L507.3,302.6 L507.8,301.6 L508.3,300.7 L508.8,299.7 L509.3,298.8 L509.8,297.8 L510.3,296.9 L510.8,296.0 L511.3,295.1 L511.8,294.1 L512.3,293.2 L512.8,292.3 L513.3,291.4 L513.8,290.5 L514.3,289.6 L514.8,288.7 L515.3,287.8 L515.8,286.9 L516.3,286.1 L516.8,285.2 L517.3,284.3 L517.8,283.4 L518.3,282.6 L518.8,281.7 L519.3,280.9 L519.8,280.0 L520.3,279.2 L520.8,278.4 L521.3,277.5 L521.8,276.7 L522.3,275.9 L522.8,275.1 L523.3,274.2 L523.8,273.4 L524.3,272.6 L524.8,271.8 L525.3,271.0 L525.8,270.3 L526.3,269.5 L526.8,268.7 L527.3,267.9 L527.8,267.1 L528.3,266.4 L528.8,265.6 L529.3,264.9 L529.8,264.1 L530.3,263.4 L530.8,262.6 L531.3,261.9 L531.8,261.2 L532.3,260.4 L532.8,259.7 L533.3,259.0 L533.8,258.3 L534.3,257.6 L534.8,256.9 L535.3,256.2 L535.8,255.5 L536.3,254.8 L536.8,254.1 L537.3,253.4 L537.8,252.8 L538.3,252.1 L538.8,251.4 L539.3,250.8 L539.8,250.1 L540.3,249.5 L540.8,248.8 L541.3,248.2 L541.8,247.5 L542.3,246.9 L542.8,246.3 L543.3,245.7 L543.8,245.0 L544.3,244.4 L544.8,243.8 L545.3,243.2 L545.8,242.6 L546.3,242.0 L546.8,241.5 L547.3,240.9 L547.8,240.3 L548.3,239.7 L548.8,239.2 L549.3,238.6 L549.8,238.1 L550.3,237.5 L550.8,237.0 L551.3,236.4 L551.8,235.9 L552.3,235.3 L552.8,234.8 L553.3,234.3 L553.8,233.8 L554.3,233.3 L554.8,232.8 L555.3,232.3 L555.8,231.8 L556.3,231.3 L556.8,230.8 L557.3,230.3 L557.8,229.8 L558.3,229.3 L558.8,228.9 L559.3,228.4 L559.8,227.9 L560.3,227.5 L560.8,227.0 L561.3,226.6 L561.8,226.1 L562.3,225.7 L562.8,225.3 L563.3,224.8 L563.8,224.4 L564.3,224.0 L564.8,223.6 L565.3,223.1 L565.8,222.7 L566.3,222.3 L566.8,221.9 L567.3,221.5 L567.8,221.1 L568.3,220.7 L568.8,220.3 L569.3,220.0 L569.8,219.6 L570.3,219.2 L570.8,218.8 L571.3,218.5 L571.8,218.1 L572.3,217.7 L572.8,217.4 L573.3,217.0 L573.8,216.7 L574.3,216.3 L574.8,216.0 L575.3,215.7 L575.8,215.3 L576.3,215.0 L576.8,214.7 L577.3,214.4 L577.8,214.0 L578.3,213.7 L578.8,213.4 L579.3,213.1 L579.8,212.8 L580.3,212.5 L580.8,212.2 L581.3,211.9 L581.8,211.6 L582.3,211.3 L582.8,211.0 L583.3,210.7 L583.8,210.4 L584.3,210.2 L584.8,209.9 L585.3,209.6 L585.8,209.4 L586.3,209.1 L586.8,208.8 L587.3,208.6 L587.8,208.3 L588.3,208.1 L588.8,207.8 L589.3,207.6 L589.8,207.3 L590.3,207.1 L590.8,206.8 L591.3,206.6 L591.8,206.4 L592.3,206.1 L592.8,205.9 L593.3,205.7 L593.8,205.5 L594.3,205.2 L594.8,205.0 L595.3,204.8 L595.8,204.6 L596.3,204.4 L596.8,204.2 L597.3,204.0 L597.8,203.8 L598.3,203.6 L598.8,203.4 L599.3,203.2 L599.8,203.0 L600.3,202.8 L600.8,202.6 L601.3,202.4 L601.8,202.2 L602.3,202.0 L602.8,201.9 L603.3,201.7 L603.8,201.5 L604.3,201.3 L604.8,201.2 L605.3,201.0 L605.8,200.8 L606.3,200.7 L606.8,200.5 L607.3,200.3 L607.8,200.2 L608.3,200.0 L608.8,199.9 L609.3,199.7 L609.8,199.5 L610.3,199.4 L610.8,199.2 L611.3,199.1 L611.8,199.0 L612.3,198.8 L612.8,198.7 L613.3,198.5 L613.8,198.4 L614.3,198.2 L614.8,198.1 L615.3,198.0 L615.8,197.8 L616.3,197.7 L616.8,197.6 L617.3,197.4 L617.8,197.3 L618.3,197.2 L618.8,197.1 L619.3,196.9 L619.8,196.8 L620.3,196.7 L620.8,196.6 L621.3,196.5 L621.8,196.3 L622.3,196.2 L622.8,196.1 L623.3,196.0 L623.8,195.9 L624.3,195.8 L624.8,195.6 L625.3,195.5 L625.8,195.4 L626.3,195.3 L626.8,195.2 L627.3,195.1 L627.8,195.0 L628.3,194.9 L628.8,194.8 L629.3,194.7 L629.8,194.6 L630.3,194.5 L630.8,194.4 L631.3,194.3 L631.8,194.2 L632.3,194.1 L632.8,194.0 L633.3,193.9 L633.8,193.8 L634.3,193.7 L634.8,193.6 L635.3,193.5 L635.8,193.4 L636.3,193.3 L636.8,193.2 L637.3,193.1 L637.8,193.0 L638.3,192.9 L638.8,192.8 L639.3,192.7 L639.8,192.7 L640.3,192.6 L640.8,192.5 L641.3,192.4 L641.8,192.3 L642.3,192.2 L642.8,192.1 L643.3,192.1 L643.8,192.0 L644.3,191.9 L644.8,191.8 L645.3,191.7 L645.8,191.7 L646.3,191.6 L646.8,191.5 L647.3,191.4 L647.8,191.3 L648.3,191.3 L648.8,191.2 L649.3,191.1 L649.8,191.0 L650.3,191.0 L650.8,190.9 L651.3,190.8 L651.8,190.7 L652.3,190.7 L652.8,190.6 L653.3,190.5 L653.8,190.5 L654.3,190.4 L654.8,190.3 L655.3,190.3 L655.8,190.2 L656.3,190.1 L656.8,190.1 L657.3,190.0 L657.8,189.9 L658.3,189.9 L658.8,189.8 L659.3,189.8 L659.8,189.7 L660.3,189.6 L660.8,189.6 L661.3,189.5 L661.8,189.5 L662.3,189.4 L662.8,189.4 L663.3,189.3 L663.8,189.2 L664.3,189.2 L664.8,189.1 L665.3,189.1 L665.8,189.0 L666.3,189.0 L666.8,188.9 L667.3,188.9 L667.8,188.8 L668.3,188.8 L668.8,188.7 L669.3,188.7 L669.8,188.6 L670.3,188.6 L670.8,188.6 L671.3,188.5 L671.8,188.5 L672.3,188.4 L672.8,188.4 L673.3,188.3 L673.8,188.3 L674.3,188.3 L674.8,188.2 L675.3,188.2 L675.8,188.1 L676.3,188.1 L676.8,188.1 L677.3,188.0 L677.8,188.0 L688.0,187.3 L1210.0,187.3 L1220.0,189.2 L1220.5,189.3 L1221.0,189.3 L1221.5,189.4 L1222.0,189.4 L1222.5,189.5 L1223.0,189.5 L1223.5,189.6 L1224.0,189.6 L1224.5,189.7 L1225.0,189.7 L1225.5,189.8 L1226.0,189.8 L1226.5,189.9 L1227.0,189.9 L1227.5,190.0 L1228.0,190.0 L1228.5,190.1 L1229.0,190.1 L1229.5,190.2 L1230.0,190.3 L1230.5,190.3 L1231.0,190.4 L1231.5,190.4 L1232.0,190.5 L1232.5,190.6 L1233.0,190.6 L1233.5,190.7 L1234.0,190.8 L1234.5,190.8 L1235.0,190.9 L1235.5,191.0 L1236.0,191.0 L1236.5,191.1 L1237.0,191.2 L1237.5,191.2 L1238.0,191.3 L1238.5,191.4 L1239.0,191.4 L1239.5,191.5 L1240.0,191.6 L1240.5,191.7 L1241.0,191.7 L1241.5,191.8 L1242.0,191.9 L1242.5,192.0 L1243.0,192.0 L1243.5,192.1 L1244.0,192.2 L1244.5,192.3 L1245.0,192.3 L1245.5,192.4 L1246.0,192.5 L1246.5,192.6 L1247.0,192.7 L1247.5,192.8 L1248.0,192.8 L1248.5,192.9 L1249.0,193.0 L1249.5,193.1 L1250.0,193.2 L1250.5,193.3 L1251.0,193.4 L1251.5,193.5 L1252.0,193.5 L1252.5,193.6 L1253.0,193.7 L1253.5,193.8 L1254.0,193.9 L1254.5,194.0 L1255.0,194.1 L1255.5,194.2 L1256.0,194.3 L1256.5,194.4 L1257.0,194.5 L1257.5,194.6 L1258.0,194.7 L1258.5,194.8 L1259.0,194.9 L1259.5,195.0 L1260.0,195.1 L1260.5,195.2 L1261.0,195.3 L1261.5,195.4 L1262.0,195.5 L1262.5,195.6 L1263.0,195.8 L1263.5,195.9 L1264.0,196.0 L1264.5,196.1 L1265.0,196.2 L1265.5,196.3 L1266.0,196.4 L1266.5,196.6 L1267.0,196.7 L1267.5,196.8 L1268.0,196.9 L1268.5,197.1 L1269.0,197.2 L1269.5,197.3 L1270.0,197.4 L1270.5,197.6 L1271.0,197.7 L1271.5,197.8 L1272.0,198.0 L1272.5,198.1 L1273.0,198.3 L1273.5,198.4 L1274.0,198.5 L1274.5,198.7 L1275.0,198.8 L1275.5,199.0 L1276.0,199.2 L1276.5,199.3 L1277.0,199.5 L1277.5,199.6 L1278.0,199.8 L1278.5,200.0 L1279.0,200.2 L1279.5,200.3 L1280.0,200.5 L1280.5,200.7 L1281.0,200.9 L1281.5,201.1 L1282.0,201.2 L1282.5,201.4 L1283.0,201.6 L1283.5,201.8 L1284.0,202.0 L1284.5,202.3 L1285.0,202.5 L1285.5,202.7 L1286.0,202.9 L1286.5,203.1 L1287.0,203.3 L1287.5,203.6 L1288.0,203.8 L1288.5,204.0 L1289.0,204.3 L1289.5,204.5 L1290.0,204.8 L1290.5,205.0 L1291.0,205.3 L1291.5,205.6 L1292.0,205.8 L1292.5,206.1 L1293.0,206.4 L1293.5,206.6 L1294.0,206.9 L1294.5,207.2 L1295.0,207.5 L1295.5,207.8 L1296.0,208.1 L1296.5,208.4 L1297.0,208.7 L1297.5,209.1 L1298.0,209.4 L1298.5,209.7 L1299.0,210.0 L1299.5,210.4 L1300.0,210.7 L1300.5,211.1 L1301.0,211.4 L1301.5,211.8 L1302.0,212.1 L1302.5,212.5 L1303.0,212.9 L1303.5,213.3 L1304.0,213.7 L1304.5,214.1 L1305.0,214.5 L1305.5,214.9 L1306.0,215.3 L1306.5,215.7 L1307.0,216.1 L1307.5,216.5 L1308.0,217.0 L1308.5,217.4 L1309.0,217.9 L1309.5,218.3 L1310.0,218.8 L1310.5,219.3 L1311.0,219.7 L1311.5,220.2 L1312.0,220.7 L1312.5,221.2 L1313.0,221.7 L1313.5,222.2 L1314.0,222.7 L1314.5,223.2 L1315.0,223.8 L1315.5,224.3 L1316.0,224.8 L1316.5,225.4 L1317.0,225.9 L1317.5,226.5 L1318.0,227.1 L1318.5,227.6 L1319.0,228.2 L1319.5,228.8 L1320.0,229.4 L1320.5,230.0 L1321.0,230.6 L1321.5,231.3 L1322.0,231.9 L1322.5,232.5 L1323.0,233.2 L1323.5,233.8 L1324.0,234.5 L1324.5,235.2 L1325.0,235.9 L1325.5,236.5 L1326.0,237.2 L1326.5,237.9 L1327.0,238.7 L1327.5,239.4 L1328.0,240.1 L1328.5,240.8 L1329.0,241.6 L1329.5,242.3 L1330.0,243.1 L1330.5,243.9 L1331.0,244.7 L1331.5,245.4 L1332.0,246.2 L1332.5,247.1 L1333.0,247.9 L1333.5,248.7 L1334.0,249.5 L1334.5,250.4 L1335.0,251.2 L1335.5,252.1 L1336.0,253.0 L1336.5,253.8 L1337.0,254.7 L1337.5,255.6 L1338.0,256.5 L1338.5,257.5 L1339.0,258.4 L1339.5,259.3 L1340.0,260.3 L1340.5,261.2 L1341.0,262.2 L1341.5,263.2 L1342.0,264.2 L1342.5,265.2 L1343.0,266.2 L1343.5,267.2 L1344.0,268.2 L1344.5,269.3 L1345.0,270.3 L1345.5,271.4 L1346.0,272.4 L1346.5,273.5 L1347.0,274.6 L1347.5,275.7 L1348.0,276.8 L1348.5,277.9 L1349.0,279.0 L1349.5,280.1 L1350.0,281.3 L1350.5,282.4 L1351.0,283.5 L1351.5,284.7 L1352.0,285.9 L1352.5,287.1 L1353.0,288.2 L1353.5,289.4 L1354.0,290.6 L1354.5,291.8 L1355.0,293.1 L1355.5,294.3 L1356.0,295.5 L1356.5,296.7 L1357.0,298.0 L1357.5,299.2 L1358.0,300.5 L1358.5,301.8 L1359.0,303.1 L1359.5,304.3 L1360.0,305.6 L1360.5,306.9 L1361.0,308.2 L1361.5,309.5 L1362.0,310.8 L1362.5,312.2 L1363.0,313.5 L1363.5,314.8 L1364.0,316.2 L1364.5,317.5 L1365.0,318.9 L1365.5,320.2 L1366.0,321.6 L1366.5,323.0 L1367.0,324.4 L1367.5,325.7 L1368.0,327.1 L1368.5,328.5 L1369.0,329.9 L1369.5,331.3 L1370.0,332.8 L1370.5,334.2 L1371.0,335.6 L1371.5,337.0 L1372.0,338.5 L1372.5,339.9 L1373.0,341.3 L1373.5,342.8 L1374.0,344.2 L1374.5,345.7 L1375.0,347.2 L1375.5,348.6 L1376.0,350.1 L1376.5,351.6 L1377.0,353.1 L1377.5,354.5 L1378.0,356.0 L1378.5,357.5 L1379.0,359.0 L1379.5,360.5 L1380.0,362.0 L1380.5,363.5 L1381.0,365.0 L1381.5,366.6 L1382.0,368.1 L1382.5,369.6 L1383.0,371.1 L1383.5,372.6 L1384.0,374.2 L1384.5,375.7 L1385.0,377.3 L1385.5,378.8 L1386.0,380.3 L1386.5,381.9 L1387.0,383.4 L1387.5,385.0 L1388.0,386.5 L1388.5,388.1 L1389.0,389.7 L1389.5,391.2 L1390.0,392.8 L1390.5,394.4 L1391.0,395.9 L1391.5,397.5 L1392.0,399.1 L1392.5,400.6 L1393.0,402.2 L1393.5,403.8 L1394.0,405.4 L1394.5,407.0 L1395.0,408.6 L1395.5,410.1 L1396.0,411.7 L1396.5,413.3 L1397.0,414.9 L1397.5,416.5 L1398.0,418.1 L1398.5,419.7 L1399.0,421.3 L1399.5,422.9 L1400.0,424.5 L1400.5,426.2 L1401.0,427.8 L1401.5,429.4 L1402.0,431.0 L1402.5,432.6 L1403.0,434.3 L1403.5,435.9 L1404.0,437.5 L1404.5,439.2 L1405.0,440.8 L1405.5,442.4 L1406.0,444.1 L1406.5,445.7 L1407.0,447.4 L1407.5,449.0 L1408.0,450.7 L1408.5,452.3 L1409.0,454.0 L1409.5,455.7 L1410.0,457.3 L1410.5,459.0 L1411.0,460.7 L1411.5,462.3 L1412.0,464.0 L1412.5,465.7 L1413.0,467.4 L1413.5,469.1 L1414.0,470.7 L1414.5,472.4 L1415.0,474.1 L1415.5,475.8 L1416.0,477.5 L1416.5,479.2 L1417.0,480.9 L1417.5,482.7 L1418.0,484.4 L1418.5,486.1 L1419.0,487.8 L1419.5,489.5 L1420.0,491.3 L1420.5,493.0 L1421.0,494.7 L1421.5,496.5 L1422.0,498.2 L1422.5,500.0 L1423.0,501.7 L1423.5,503.5 L1424.0,505.2 L1424.5,507.0 L1425.0,508.7 L1425.5,510.5 L1426.0,512.3 L1426.5,514.0 L1427.0,515.8 L1427.5,517.6 L1428.0,519.3 L1428.5,521.1 L1429.0,522.9 L1429.5,524.7 L1430.0,526.5 L1430.5,528.3 L1431.0,530.1 L1431.5,531.9 L1432.0,533.7 L1432.5,535.5 L1433.0,537.3 L1433.5,539.1 L1434.0,540.9 L1434.5,542.7 L1435.0,544.5 L1435.5,546.3 L1436.0,548.1 L1436.5,550.0 L1437.0,551.8 L1437.5,553.6 L1438.0,555.4 L1438.5,557.3 L1439.0,559.1 L1439.5,560.9 L1440.0,562.8 L1440.5,564.6 L1441.0,566.4 L1441.5,568.3 L1442.0,570.1 L1442.5,572.0 L1443.0,573.8 L1443.5,575.7 L1444.0,577.5 L1444.5,579.4 L1445.0,581.2 L1445.5,583.1 L1446.0,584.9 L1446.5,586.8 L1447.0,588.6 L1447.5,590.5 L1448.0,592.3 L1448.5,594.2 L1449.0,596.0 L1449.5,597.9 L1450.0,599.7 L1450.5,601.6 L1451.0,603.5 L1451.5,605.3 L1452.0,607.2 L1452.5,609.0 L1453.0,610.9 L1453.5,612.7 L1454.0,614.6 L1454.5,616.4 L1455.0,618.3 L1455.5,620.2 L1456.0,622.0 L1456.5,623.9 L1457.0,625.7 L1457.5,627.6 L1458.0,629.4 L1458.5,631.3 L1459.0,633.1 L1459.5,635.0 L1460.0,636.8 L1460.5,638.7 L1461.0,640.5 L1461.5,642.4 L1462.0,644.2 L1462.5,646.1 L1463.0,648.0 L1463.5,649.8 L1464.0,651.7 L1464.5,653.5 L1465.0,655.4 L1465.5,657.2 L1466.0,659.1 L1466.5,661.0 L1467.0,662.8 L1467.5,664.7 L1468.0,666.5 L1468.5,668.4 L1469.0,670.3 L1469.5,672.1 L1470.0,674.0 L1470.5,675.9 L1471.0,677.8 L1471.5,679.6 L1472.0,681.5 L1472.5,683.4 L1473.0,685.3 L1473.5,687.2 L1474.0,689.0 L1474.5,690.9 L1475.0,692.8 L1475.5,694.7 L1476.0,696.6 L1476.5,698.5 L1477.0,700.4 L1477.5,702.3 L1478.0,704.2 L1478.5,706.1 L1479.0,708.0 L1479.5,709.9 L1480.0,711.8 L1480.5,713.7 L1481.0,715.7 L1481.5,717.6 L1482.0,719.5 L1482.5,721.4 L1483.0,723.3 L1483.5,725.2 L1484.0,727.1 L1484.5,729.0 L1485.0,730.9 L1485.5,732.9 L1486.0,734.8 L1486.5,736.7 L1487.0,738.6 L1487.5,740.5 L1488.0,742.4 L1488.5,744.3 L1489.0,746.2 L1489.5,748.1 L1490.0,750.0 L1490.5,751.9 L1491.0,753.8 L1491.5,755.7 L1492.0,757.6 L1492.5,759.4 L1493.0,761.3 L1493.5,763.2 L1494.0,765.1 L1494.5,767.0 L1495.0,768.8 L1495.5,770.7 L1496.0,772.6 L1496.5,774.4 L1497.0,776.3 L1497.5,778.1 L1498.0,780.0 L1498.5,781.8 L1499.0,783.7 L1499.5,785.5 L1500.0,787.3 L1500.5,789.2 L1501.0,791.0 L1501.5,792.8 L1502.0,794.6 L1502.5,796.4 L1503.0,798.2 L1503.5,800.0 L1504.0,801.8 L1504.5,803.6 L1505.0,805.3 L1505.5,807.1 L1506.0,808.9 L1506.5,810.7 L1507.0,812.4 L1507.5,814.2 L1508.0,815.9 L1508.5,817.7 L1509.0,819.4 L1509.5,821.1 L1510.0,822.9 L1510.5,824.6 L1511.0,826.3 L1511.5,828.0 L1512.0,829.7 L1512.5,831.4 L1513.0,833.1 L1513.5,834.8 L1514.0,836.5 L1514.5,838.2 L1515.0,839.9 L1515.5,841.6 L1516.0,843.2 L1516.5,844.9 L1517.0,846.6 L1517.5,848.2 L1518.0,849.9 L1518.5,851.6" fill="none" stroke="#000080" stroke-width="2.2" stroke-linejoin="round"/>
<text transform="translate(229,76.7) scale(1,1.05)" text-anchor="end" class="tky">1000</text>
<text transform="translate(229,280.3) scale(1,1.1)" text-anchor="end" class="tky">100</text>
<text transform="translate(229,482.4) scale(1,1.1)" text-anchor="end" class="tky">10</text>
<text transform="translate(229,683.3) scale(1,1.1)" text-anchor="end" class="tky">1</text>
<text transform="translate(229,884.8) scale(1,1.1)" text-anchor="end" class="tky">0.1</text>
<text transform="translate(229,1086.7) scale(1,1.1)" text-anchor="end" class="tky">0.01</text>
<text transform="translate(263.3,1141.5) scale(1,1.03)" text-anchor="middle" class="tk">0.0</text>
<text transform="translate(402.8,1141.5) scale(1,1.03)" text-anchor="middle" class="tk">0.2</text>
<text transform="translate(542.3,1141.5) scale(1,1.03)" text-anchor="middle" class="tk">0.4</text>
<text transform="translate(681.8,1141.5) scale(1,1.03)" text-anchor="middle" class="tk">0.6</text>
<text transform="translate(821.3,1141.5) scale(1,1.03)" text-anchor="middle" class="tk">0.8</text>
<text transform="translate(960.8,1141.5) scale(1,1.03)" text-anchor="middle" class="tk">1.0</text>
<text transform="translate(1100.3,1141.5) scale(1,1.03)" text-anchor="middle" class="tk">1.2</text>
<text transform="translate(1239.8,1141.5) scale(1,1.03)" text-anchor="middle" class="tk">1.4</text>
<text transform="translate(1379.3,1141.5) scale(1,1.03)" text-anchor="middle" class="tk">1.6</text>
<text transform="translate(1518.8,1141.5) scale(1,1.03)" text-anchor="middle" class="tk">1.8</text>
<line x1="310.5" y1="214.0" x2="284.5" y2="355.2" stroke="#000" stroke-width="3"/><polygon points="279.3,383.7 269.0,348.3 301.5,354.2" fill="#000"/>
<line x1="559.6" y1="415.7" x2="341.3" y2="388.8" stroke="#000" stroke-width="3"/><polygon points="312.5,385.3 347.3,373.0 343.2,405.7" fill="#000"/>
<line x1="527.9" y1="545.0" x2="322.7" y2="449.3" stroke="#000" stroke-width="3"/><polygon points="296.4,437.0 333.3,436.0 319.3,465.9" fill="#000"/>
<line x1="515.2" y1="647.8" x2="309.4" y2="551.9" stroke="#000" stroke-width="3"/><polygon points="283.1,539.7 320.0,538.7 306.0,568.6" fill="#000"/>
<line x1="1150.2" y1="288.0" x2="1387.1" y2="264.7" stroke="#000" stroke-width="3"/><polygon points="1416.0,261.9 1384.8,281.5 1381.5,248.7" fill="#000"/>
<line x1="1226.2" y1="400.2" x2="1417.0" y2="319.1" stroke="#000" stroke-width="3"/><polygon points="1443.7,307.8 1419.8,335.9 1406.9,305.5" fill="#000"/>
<line x1="1234.5" y1="493.6" x2="1422.5" y2="413.4" stroke="#000" stroke-width="3"/><polygon points="1449.2,402.0 1425.3,430.1 1412.4,399.8" fill="#000"/>
<line x1="1242.9" y1="585.8" x2="1432.0" y2="505.3" stroke="#000" stroke-width="3"/><polygon points="1458.7,493.9 1434.8,522.0 1421.9,491.6" fill="#000"/>
<line x1="1226.7" y1="686.1" x2="1417.1" y2="604.3" stroke="#000" stroke-width="3"/><polygon points="1443.7,592.8 1419.9,621.0 1406.9,590.7" fill="#000"/>
<text transform="translate(280.2,196.6) scale(1,1.038)" class="an">SS_LT</text>
<text transform="translate(562.2,430.9) scale(1,1.038)" class="an">SS_RT</text>
<text transform="translate(538.0,571.7) scale(1,1.038)" class="an">TT_LT</text>
<text transform="translate(526.6,666.8) scale(1,1.038)" class="an">TT_RT</text>
<text transform="translate(971.0,309.0) scale(1,1.038)" class="an">FF_LT</text>
<text transform="translate(1047.3,420.7) scale(1,1.038)" class="an">SS_HT</text>
<text transform="translate(1056.5,520.5) scale(1,1.038)" class="an">FF_RT</text>
<text transform="translate(1057.3,612.6) scale(1,1.038)" class="an">TT_HT</text>
<text transform="translate(1043.6,710.0) scale(1,1.038)" class="an">FF_HT</text>
<text transform="translate(890.3,1221.6) scale(1,1.016)" text-anchor="middle" class="ax">Voltage (V)</text>
<text transform="translate(75.5,548.3) rotate(-90) scale(1,1.10)" text-anchor="middle" class="ay">Resistance (GΩ)</text>
</svg>
</body></html>
